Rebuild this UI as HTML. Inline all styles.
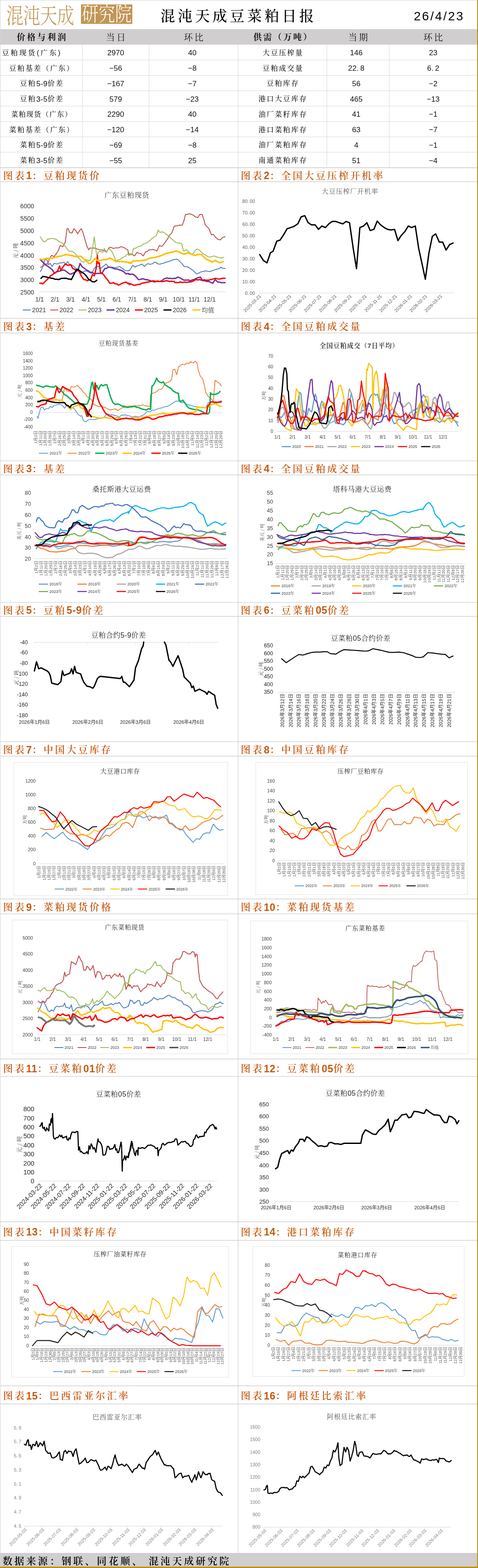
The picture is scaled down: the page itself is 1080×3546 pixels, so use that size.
<!DOCTYPE html>
<html><head><meta charset="utf-8"><title>混沌天成豆菜粕日报</title>
<style>
html,body{margin:0;padding:0;background:#fff;}
body{width:1080px;height:3546px;position:relative;overflow:hidden;}
svg text{white-space:pre}
</style></head><body>
<svg width="1080" height="3546" viewBox="0 0 1080 3546" style="position:absolute;left:0;top:0">
<line x1="1.0" y1="135.8" x2="1078.0" y2="135.8" stroke="#dadada" stroke-width="1"/>
<line x1="1.0" y1="170.5" x2="1078.0" y2="170.5" stroke="#dadada" stroke-width="1"/>
<line x1="1.0" y1="205.2" x2="1078.0" y2="205.2" stroke="#dadada" stroke-width="1"/>
<line x1="1.0" y1="240.0" x2="1078.0" y2="240.0" stroke="#dadada" stroke-width="1"/>
<line x1="1.0" y1="274.8" x2="1078.0" y2="274.8" stroke="#dadada" stroke-width="1"/>
<line x1="1.0" y1="309.5" x2="1078.0" y2="309.5" stroke="#dadada" stroke-width="1"/>
<line x1="1.0" y1="344.2" x2="1078.0" y2="344.2" stroke="#dadada" stroke-width="1"/>
<line x1="1.0" y1="379.0" x2="1078.0" y2="379.0" stroke="#dadada" stroke-width="1"/>
<line x1="186.0" y1="101.0" x2="186.0" y2="379.0" stroke="#dadada" stroke-width="1"/>
<line x1="337.0" y1="101.0" x2="337.0" y2="379.0" stroke="#dadada" stroke-width="1"/>
<line x1="538.0" y1="101.0" x2="538.0" y2="379.0" stroke="#dadada" stroke-width="1"/>
<line x1="738.5" y1="101.0" x2="738.5" y2="379.0" stroke="#dadada" stroke-width="1"/>
<line x1="879.5" y1="101.0" x2="879.5" y2="379.0" stroke="#dadada" stroke-width="1"/>
<line x1="1.0" y1="379.5" x2="1078.0" y2="379.5" stroke="#d0d0d0" stroke-width="1.3"/>
<line x1="1.0" y1="411.0" x2="1078.0" y2="411.0" stroke="#d0d0d0" stroke-width="1.3"/>
<line x1="1.0" y1="720.0" x2="1078.0" y2="720.0" stroke="#d0d0d0" stroke-width="1.3"/>
<line x1="1.0" y1="753.0" x2="1078.0" y2="753.0" stroke="#d0d0d0" stroke-width="1.3"/>
<line x1="1.0" y1="1042.3" x2="1078.0" y2="1042.3" stroke="#d0d0d0" stroke-width="1.3"/>
<line x1="1.0" y1="1074.0" x2="1078.0" y2="1074.0" stroke="#d0d0d0" stroke-width="1.3"/>
<line x1="1.0" y1="1362.3" x2="1078.0" y2="1362.3" stroke="#d0d0d0" stroke-width="1.3"/>
<line x1="1.0" y1="1394.0" x2="1078.0" y2="1394.0" stroke="#d0d0d0" stroke-width="1.3"/>
<line x1="1.0" y1="1677.4" x2="1078.0" y2="1677.4" stroke="#d0d0d0" stroke-width="1.3"/>
<line x1="1.0" y1="1710.0" x2="1078.0" y2="1710.0" stroke="#d0d0d0" stroke-width="1.3"/>
<line x1="1.0" y1="2033.0" x2="1078.0" y2="2033.0" stroke="#d0d0d0" stroke-width="1.3"/>
<line x1="1.0" y1="2066.6" x2="1078.0" y2="2066.6" stroke="#d0d0d0" stroke-width="1.3"/>
<line x1="1.0" y1="2395.0" x2="1078.0" y2="2395.0" stroke="#d0d0d0" stroke-width="1.3"/>
<line x1="1.0" y1="2434.3" x2="1078.0" y2="2434.3" stroke="#d0d0d0" stroke-width="1.3"/>
<line x1="1.0" y1="2763.0" x2="1078.0" y2="2763.0" stroke="#d0d0d0" stroke-width="1.3"/>
<line x1="1.0" y1="2805.0" x2="1078.0" y2="2805.0" stroke="#d0d0d0" stroke-width="1.3"/>
<line x1="1.0" y1="3134.0" x2="1078.0" y2="3134.0" stroke="#d0d0d0" stroke-width="1.3"/>
<line x1="1.0" y1="3175.0" x2="1078.0" y2="3175.0" stroke="#d0d0d0" stroke-width="1.3"/>
<line x1="538.0" y1="379.5" x2="538.0" y2="3512.0" stroke="#d0d0d0" stroke-width="1.3"/>
<text x="287.0" y="441.0" font-size="16" fill="#404040" text-anchor="middle" dominant-baseline="central" font-family="'Liberation Sans','Noto Serif CJK SC',serif" letter-spacing="1">广东豆粕现货</text>
<text x="77.0" y="466.4" font-size="14" fill="#333" text-anchor="end" dominant-baseline="central" font-family="'Liberation Sans','Noto Sans CJK SC',sans-serif">6000</text>
<text x="77.0" y="494.2" font-size="14" fill="#333" text-anchor="end" dominant-baseline="central" font-family="'Liberation Sans','Noto Sans CJK SC',sans-serif">5500</text>
<text x="77.0" y="522.0" font-size="14" fill="#333" text-anchor="end" dominant-baseline="central" font-family="'Liberation Sans','Noto Sans CJK SC',sans-serif">5000</text>
<text x="77.0" y="549.8" font-size="14" fill="#333" text-anchor="end" dominant-baseline="central" font-family="'Liberation Sans','Noto Sans CJK SC',sans-serif">4500</text>
<text x="77.0" y="577.6" font-size="14" fill="#333" text-anchor="end" dominant-baseline="central" font-family="'Liberation Sans','Noto Sans CJK SC',sans-serif">4000</text>
<text x="77.0" y="605.4" font-size="14" fill="#333" text-anchor="end" dominant-baseline="central" font-family="'Liberation Sans','Noto Sans CJK SC',sans-serif">3500</text>
<text x="77.0" y="633.2" font-size="14" fill="#333" text-anchor="end" dominant-baseline="central" font-family="'Liberation Sans','Noto Sans CJK SC',sans-serif">3000</text>
<text x="77.0" y="661.0" font-size="14" fill="#333" text-anchor="end" dominant-baseline="central" font-family="'Liberation Sans','Noto Sans CJK SC',sans-serif">2500</text>
<text x="34.0" y="567.0" font-size="12" fill="#333" text-anchor="middle" dominant-baseline="central" font-family="'Noto Serif CJK SC',serif" letter-spacing="0.5" transform="rotate(-90 34.0 567.0)">元 / 吨</text>
<line x1="89.0" y1="660.0" x2="510.0" y2="660.0" stroke="#d9d9d9" stroke-width="1"/>
<text x="89.4" y="676.5" font-size="14" fill="#333" text-anchor="middle" dominant-baseline="central" font-family="'Liberation Sans','Noto Sans CJK SC',sans-serif">1/1</text>
<text x="124.3" y="676.5" font-size="14" fill="#333" text-anchor="middle" dominant-baseline="central" font-family="'Liberation Sans','Noto Sans CJK SC',sans-serif">2/1</text>
<text x="159.3" y="676.5" font-size="14" fill="#333" text-anchor="middle" dominant-baseline="central" font-family="'Liberation Sans','Noto Sans CJK SC',sans-serif">3/1</text>
<text x="194.2" y="676.5" font-size="14" fill="#333" text-anchor="middle" dominant-baseline="central" font-family="'Liberation Sans','Noto Sans CJK SC',sans-serif">4/1</text>
<text x="229.1" y="676.5" font-size="14" fill="#333" text-anchor="middle" dominant-baseline="central" font-family="'Liberation Sans','Noto Sans CJK SC',sans-serif">5/1</text>
<text x="264.1" y="676.5" font-size="14" fill="#333" text-anchor="middle" dominant-baseline="central" font-family="'Liberation Sans','Noto Sans CJK SC',sans-serif">6/1</text>
<text x="299.0" y="676.5" font-size="14" fill="#333" text-anchor="middle" dominant-baseline="central" font-family="'Liberation Sans','Noto Sans CJK SC',sans-serif">7/1</text>
<text x="334.0" y="676.5" font-size="14" fill="#333" text-anchor="middle" dominant-baseline="central" font-family="'Liberation Sans','Noto Sans CJK SC',sans-serif">8/1</text>
<text x="368.9" y="676.5" font-size="14" fill="#333" text-anchor="middle" dominant-baseline="central" font-family="'Liberation Sans','Noto Sans CJK SC',sans-serif">9/1</text>
<text x="403.8" y="676.5" font-size="14" fill="#333" text-anchor="middle" dominant-baseline="central" font-family="'Liberation Sans','Noto Sans CJK SC',sans-serif">10/1</text>
<text x="438.8" y="676.5" font-size="14" fill="#333" text-anchor="middle" dominant-baseline="central" font-family="'Liberation Sans','Noto Sans CJK SC',sans-serif">11/1</text>
<text x="473.7" y="676.5" font-size="14" fill="#333" text-anchor="middle" dominant-baseline="central" font-family="'Liberation Sans','Noto Sans CJK SC',sans-serif">12/1</text>
<polyline points="91.2,613.9 94.0,609.7 98.2,595.7 102.4,585.9 106.6,588.7 109.4,598.5 113.6,595.7 117.8,602.7 122.0,595.7 125.5,596.3 129.0,597.1 132.5,595.9 136.1,594.3 140.3,594.6 144.5,592.9 148.7,597.1 152.9,591.5 157.1,598.5 160.6,599.2 164.1,599.9 169.7,605.5 173.2,607.7 176.7,609.7 180.2,614.2 183.7,618.2 186.5,615.4 192.1,612.5 196.3,613.2 200.5,615.4 204.0,616.8 207.5,618.2 213.1,606.9 217.3,602.7 222.9,602.7 227.1,606.9 232.7,602.7 236.2,600.2 239.7,597.1 245.4,604.1 249.6,604.8 253.8,604.1 259.4,605.5 265.0,604.1 270.6,602.7 276.2,606.9 281.8,611.1 287.4,612.5 293.0,611.1 290.0,612.5 294.2,609.7 299.8,599.9 305.4,604.1 308.7,601.8 312.0,600.9 315.2,599.9 320.8,597.1 326.4,602.7 332.0,597.1 335.3,596.2 338.6,597.9 341.8,597.1 345.1,596.2 348.4,593.2 351.7,592.9 357.3,597.1 361.5,597.6 365.7,595.7 369.9,595.4 374.1,592.9 377.8,592.4 381.5,591.3 385.3,590.1 388.8,588.3 392.3,586.9 395.8,587.0 399.3,585.9 403.5,588.4 407.7,592.9 411.9,597.1 416.1,602.7 419.9,603.1 423.6,603.5 427.3,605.5 431.5,608.3 435.7,611.1 439.9,615.2 444.1,619.6 448.3,618.3 452.5,615.4 456.3,614.5 460.0,613.8 463.8,612.5 467.5,613.0 471.2,613.9 475.0,613.9 479.2,612.4 483.4,611.1 487.6,609.2 491.8,608.3 495.3,607.4 498.8,604.1 502.1,606.3 505.3,606.8 508.6,606.9" fill="none" stroke="#4f81bd" stroke-width="2" stroke-linejoin="round" stroke-linecap="round"/>
<polyline points="91.2,604.1 96.8,602.7 102.4,597.1 108.0,597.1 110.8,587.3 116.4,577.5 122.0,580.3 127.6,573.3 131.8,566.3 136.1,555.1 141.7,557.9 147.3,548.1 151.5,517.3 154.3,517.3 157.1,525.7 162.7,527.1 166.9,517.3 171.1,521.5 175.3,528.5 180.9,520.1 183.7,517.3 187.9,527.1 192.1,542.5 196.3,556.5 200.5,564.9 203.3,560.7 207.5,561.2 211.7,560.7 215.9,561.7 220.1,563.5 225.7,564.9 229.5,565.2 233.2,566.3 236.9,567.7 241.1,570.5 245.4,560.7 251.0,559.3 256.6,562.1 260.8,560.4 265.0,560.7 269.2,559.9 273.4,557.9 277.6,559.1 281.8,560.7 285.3,563.6 288.8,564.9 290.2,573.3 295.8,574.7 290.0,576.1 294.2,575.1 298.4,574.7 304.0,578.9 309.6,570.5 313.8,573.0 318.0,573.3 323.6,578.9 329.2,569.1 333.0,568.5 336.7,565.1 340.4,564.9 344.6,564.2 348.9,564.9 354.5,567.7 360.1,555.1 363.6,556.8 367.1,556.5 370.6,551.5 374.1,546.7 378.3,540.8 382.5,532.7 388.1,527.1 393.7,511.7 397.9,510.7 402.1,510.3 405.4,508.8 408.6,509.6 411.9,508.9 416.1,497.6 418.9,485.0 422.4,485.0 425.9,483.6 429.4,483.8 432.9,485.0 437.1,486.8 441.3,490.6 446.9,492.0 451.1,485.0 456.8,485.0 461.0,497.6 463.8,508.9 468.0,512.7 472.2,517.3 477.8,531.3 482.0,529.9 486.2,535.5 491.8,541.1 497.4,542.5 503.0,536.9 508.6,535.5" fill="none" stroke="#c0504d" stroke-width="2" stroke-linejoin="round" stroke-linecap="round"/>
<polyline points="91.2,535.5 96.8,545.3 101.0,546.7 104.5,544.6 108.0,540.2 111.1,540.9 114.2,539.3 117.3,539.6 120.4,539.3 123.4,540.2 126.9,541.0 130.4,543.9 134.6,547.0 138.9,548.6 144.5,553.7 148.2,557.6 151.9,563.2 155.7,567.7 159.9,568.3 164.1,569.1 168.3,571.9 172.5,576.1 176.2,581.8 180.0,585.5 183.7,591.5 189.3,592.9 194.9,587.3 200.5,590.1 204.7,587.3 208.9,562.1 213.1,535.5 215.9,562.1 218.7,576.1 224.3,567.7 228.5,569.5 232.7,570.5 235.5,562.1 241.1,570.5 245.4,562.1 249.6,565.4 253.8,570.5 258.0,580.1 262.2,590.1 266.4,588.0 270.6,587.3 274.8,584.0 279.0,581.7 283.2,579.3 287.4,574.7 291.6,574.7 295.8,573.3 290.0,577.5 294.2,576.3 298.4,576.1 301.2,562.1 305.4,561.6 309.6,559.3 313.8,557.2 318.0,556.5 322.2,553.4 326.4,550.9 330.6,549.6 334.8,546.7 339.0,543.5 343.2,539.7 348.9,535.5 353.1,532.7 357.3,520.1 361.5,525.7 365.7,524.3 369.9,525.4 374.1,528.5 378.3,532.4 382.5,534.1 386.7,539.7 390.0,541.8 393.2,544.7 396.5,548.1 400.7,549.4 404.9,549.5 410.5,550.9 414.7,567.7 418.2,565.9 421.7,564.9 425.9,568.6 430.1,573.3 435.7,574.7 439.9,568.1 444.1,563.5 447.6,563.9 451.1,566.3 454.6,570.0 458.2,573.3 462.4,575.5 466.6,578.9 470.8,580.6 475.0,581.7 479.2,580.0 483.4,578.9 487.6,580.2 491.8,581.7 497.4,583.1 501.6,583.5 505.8,581.7" fill="none" stroke="#9bbb59" stroke-width="2" stroke-linejoin="round" stroke-linecap="round"/>
<polyline points="91.2,587.3 96.8,592.9 102.4,598.5 106.6,601.3 110.8,604.1 114.3,607.1 117.8,609.7 123.4,618.2 129.0,613.9 132.5,614.1 136.1,612.5 139.3,611.3 142.6,610.8 145.9,611.1 151.5,615.4 157.1,619.6 160.6,619.8 164.1,618.2 169.7,615.4 173.2,613.3 176.7,609.7 180.9,595.7 185.1,602.7 190.7,606.9 196.3,611.1 199.8,612.6 203.3,615.4 207.5,616.0 211.7,618.2 215.9,618.7 220.1,618.2 225.7,618.2 231.3,616.8 236.9,606.9 240.7,607.1 244.4,604.3 248.2,604.1 253.8,605.5 257.5,607.6 261.2,608.3 265.0,608.3 268.7,610.0 272.4,611.0 276.2,612.5 280.4,615.1 284.6,619.6 288.8,618.4 293.0,619.6 290.0,619.6 294.2,620.7 298.4,619.6 304.0,622.4 308.2,626.6 312.4,632.2 316.6,632.0 320.8,630.8 324.6,630.6 328.3,632.5 332.0,632.2 336.2,633.8 340.4,635.0 344.6,635.9 348.9,637.8 353.1,636.3 357.3,636.4 361.5,636.2 365.7,635.0 369.9,631.1 374.1,629.4 377.8,628.7 381.5,629.5 385.3,629.4 389.0,630.2 392.8,629.6 396.5,629.4 402.1,626.6 406.3,628.1 410.5,630.8 414.7,633.2 418.9,633.6 422.7,633.3 426.4,633.3 430.1,635.0 434.3,633.0 438.5,632.2 442.7,629.9 446.9,628.0 452.5,626.6 458.2,635.0 462.4,634.6 466.6,636.4 470.8,636.3 475.0,637.8 480.6,640.6 486.2,632.2 491.8,637.8 496.0,638.2 500.2,639.2 504.4,639.3 508.6,639.2" fill="none" stroke="#7030a0" stroke-width="3" stroke-linejoin="round" stroke-linecap="round"/>
<polyline points="89.8,640.6 93.3,640.5 96.8,642.0 101.0,637.5 105.2,633.6 109.4,629.4 113.6,623.8 117.8,621.9 122.0,618.2 126.2,615.7 130.4,612.5 134.6,601.3 137.5,611.1 143.1,602.7 147.3,597.1 152.9,599.9 156.4,599.6 159.9,598.5 164.1,606.9 169.7,609.7 173.9,611.3 178.1,612.5 183.7,623.8 189.3,632.2 193.5,632.8 197.7,635.0 201.2,632.6 204.7,632.2 208.9,621.0 213.1,623.8 217.3,606.9 220.1,577.5 221.5,595.7 224.3,594.3 227.1,618.2 230.6,618.6 234.1,621.0 238.3,627.4 242.5,632.2 248.2,640.6 252.4,640.3 256.6,639.2 260.3,642.0 264.0,642.0 267.8,644.8 272.0,642.9 276.2,640.6 280.4,639.1 284.6,637.8 288.8,641.0 293.0,643.4 290.0,640.6 294.2,641.6 298.4,643.4 302.6,645.1 306.8,644.8 311.0,643.2 315.2,643.4 320.8,640.6 324.6,639.7 328.3,639.2 332.0,637.8 335.5,637.9 339.0,636.8 342.5,636.1 346.1,635.0 349.4,635.8 352.8,636.4 356.1,635.5 359.5,636.5 362.9,636.4 366.6,636.7 370.3,636.2 374.1,635.0 377.3,635.0 380.6,636.0 383.9,636.4 387.2,636.0 390.4,636.4 393.7,636.4 395.1,639.2 398.1,638.7 401.1,638.9 404.1,638.8 407.1,637.5 410.1,638.4 413.1,639.0 416.1,637.8 419.6,638.5 423.1,638.2 426.6,637.5 430.1,637.8 433.6,636.8 437.1,635.1 440.6,633.4 444.1,632.2 447.6,633.2 451.1,632.0 454.6,633.7 458.2,633.6 461.7,632.6 465.2,633.8 468.7,633.5 472.2,633.6 475.7,632.0 479.2,631.9 482.7,630.4 486.2,629.4 489.9,630.1 493.7,631.1 497.4,630.8 501.1,629.8 504.9,628.9 508.6,629.4" fill="none" stroke="#ff0000" stroke-width="3" stroke-linejoin="round" stroke-linecap="round"/>
<polyline points="92.6,629.4 96.8,625.2 101.0,625.5 105.2,626.6 109.0,627.8 112.7,628.0 116.4,629.4 120.2,629.6 123.9,631.5 127.6,631.6 133.2,632.2 138.9,629.4 142.6,629.6 146.3,629.3 150.1,629.4 153.8,630.9 157.5,631.0 161.3,632.2 166.9,621.0 172.5,609.7 176.7,609.7 182.3,613.9 185.8,616.3 189.3,618.2 194.9,623.8 200.5,632.2 204.7,634.2 208.9,637.2 214.5,637.2 218.7,633.6" fill="none" stroke="#000000" stroke-width="3" stroke-linejoin="round" stroke-linecap="round"/>
<polyline points="91.2,585.9 96.8,587.3 101.0,585.6 105.2,584.0 109.0,584.3 112.7,584.4 116.4,584.0 120.2,583.4 123.9,582.0 127.6,581.2 131.4,580.5 135.1,579.5 138.9,578.9 142.6,577.4 146.3,576.7 150.1,575.6 153.8,576.5 157.5,577.2 161.3,577.5 165.0,578.7 168.7,579.8 172.5,580.3 175.8,579.8 179.0,579.4 182.3,579.5 185.6,582.0 188.8,584.5 192.1,587.3 196.3,591.2 200.5,595.7 204.7,595.7 208.9,591.5 214.5,584.5 218.7,587.2 222.9,590.1 226.2,589.3 229.5,588.3 232.7,587.3 236.2,587.1 239.7,587.3 243.9,585.7 248.2,583.4 251.7,585.9 255.2,587.4 258.7,589.1 262.2,591.5 265.7,591.1 269.2,591.9 272.7,591.1 276.2,591.5 279.9,592.2 283.7,592.5 287.4,592.9 291.6,593.4 295.8,594.3 290.0,594.3 295.6,595.7 301.2,590.1 304.9,590.4 308.7,589.6 312.4,590.1 315.9,589.4 319.4,589.4 322.9,588.6 326.4,588.7 330.2,587.7 333.9,585.7 337.6,584.5 341.1,583.5 344.6,582.7 348.2,582.5 351.7,581.7 355.2,580.6 358.7,579.7 362.2,578.7 365.7,577.5 369.9,575.7 374.1,573.3 377.6,573.1 381.1,572.1 384.6,570.9 388.1,570.5 391.8,569.6 395.6,568.3 399.3,567.7 403.5,569.3 407.7,571.9 411.9,573.3 416.1,574.7 420.3,573.5 424.5,571.9 428.0,573.0 431.5,574.5 435.0,576.0 438.5,577.5 442.7,576.7 446.9,575.6 451.1,575.6 455.4,575.6 459.6,580.2 463.8,584.5 468.0,586.9 472.2,588.7 475.7,590.7 479.2,592.9 482.7,591.1 486.2,588.7 489.4,591.0 492.7,592.1 496.0,594.3 500.2,593.4 504.4,591.5" fill="none" stroke="#ffc000" stroke-width="3.5" stroke-linejoin="round" stroke-linecap="round"/>
<line x1="51.6" y1="701.0" x2="69.6" y2="701.0" stroke="#4f81bd" stroke-width="2"/>
<text x="72.6" y="701.0" font-size="14" fill="#333" text-anchor="start" dominant-baseline="central" font-family="'Liberation Sans','Noto Serif CJK SC',serif">2021</text>
<line x1="113.5" y1="701.0" x2="131.5" y2="701.0" stroke="#c0504d" stroke-width="2"/>
<text x="134.5" y="701.0" font-size="14" fill="#333" text-anchor="start" dominant-baseline="central" font-family="'Liberation Sans','Noto Serif CJK SC',serif">2022</text>
<line x1="177.5" y1="701.0" x2="195.5" y2="701.0" stroke="#9bbb59" stroke-width="2"/>
<text x="198.5" y="701.0" font-size="14" fill="#333" text-anchor="start" dominant-baseline="central" font-family="'Liberation Sans','Noto Serif CJK SC',serif">2023</text>
<line x1="240.8" y1="701.0" x2="258.8" y2="701.0" stroke="#7030a0" stroke-width="3"/>
<text x="261.8" y="701.0" font-size="14" fill="#333" text-anchor="start" dominant-baseline="central" font-family="'Liberation Sans','Noto Serif CJK SC',serif">2024</text>
<line x1="304.7" y1="701.0" x2="322.7" y2="701.0" stroke="#ff0000" stroke-width="3"/>
<text x="325.7" y="701.0" font-size="14" fill="#333" text-anchor="start" dominant-baseline="central" font-family="'Liberation Sans','Noto Serif CJK SC',serif">2025</text>
<line x1="369.4" y1="701.0" x2="387.4" y2="701.0" stroke="#000" stroke-width="3"/>
<text x="390.4" y="701.0" font-size="14" fill="#333" text-anchor="start" dominant-baseline="central" font-family="'Liberation Sans','Noto Serif CJK SC',serif">2026</text>
<line x1="434.8" y1="701.0" x2="452.8" y2="701.0" stroke="#ffc000" stroke-width="3"/>
<text x="455.8" y="701.0" font-size="14" fill="#333" text-anchor="start" dominant-baseline="central" font-family="'Liberation Sans','Noto Serif CJK SC',serif">均值</text>
<text x="791.0" y="432.0" font-size="15" fill="#595959" text-anchor="middle" dominant-baseline="central" font-family="'Liberation Sans','Noto Serif CJK SC',serif" letter-spacing="1">大豆压榨厂开机率</text>
<text x="576.0" y="454.7" font-size="10.5" fill="#595959" text-anchor="end" dominant-baseline="central" font-family="'Liberation Sans','Noto Sans CJK SC',sans-serif">80. 00</text>
<text x="576.0" y="480.7" font-size="10.5" fill="#595959" text-anchor="end" dominant-baseline="central" font-family="'Liberation Sans','Noto Sans CJK SC',sans-serif">70. 00</text>
<text x="576.0" y="506.6" font-size="10.5" fill="#595959" text-anchor="end" dominant-baseline="central" font-family="'Liberation Sans','Noto Sans CJK SC',sans-serif">60. 00</text>
<text x="576.0" y="532.6" font-size="10.5" fill="#595959" text-anchor="end" dominant-baseline="central" font-family="'Liberation Sans','Noto Sans CJK SC',sans-serif">50. 00</text>
<text x="576.0" y="558.6" font-size="10.5" fill="#595959" text-anchor="end" dominant-baseline="central" font-family="'Liberation Sans','Noto Sans CJK SC',sans-serif">40. 00</text>
<text x="576.0" y="584.6" font-size="10.5" fill="#595959" text-anchor="end" dominant-baseline="central" font-family="'Liberation Sans','Noto Sans CJK SC',sans-serif">30. 00</text>
<text x="576.0" y="610.5" font-size="10.5" fill="#595959" text-anchor="end" dominant-baseline="central" font-family="'Liberation Sans','Noto Sans CJK SC',sans-serif">20. 00</text>
<text x="576.0" y="636.5" font-size="10.5" fill="#595959" text-anchor="end" dominant-baseline="central" font-family="'Liberation Sans','Noto Sans CJK SC',sans-serif">10. 00</text>
<text x="576.0" y="662.5" font-size="10.5" fill="#595959" text-anchor="end" dominant-baseline="central" font-family="'Liberation Sans','Noto Sans CJK SC',sans-serif">0. 00</text>
<line x1="586.5" y1="662.5" x2="1027.0" y2="662.5" stroke="#d9d9d9" stroke-width="1"/>
<line x1="586.5" y1="662.5" x2="586.5" y2="666.5" stroke="#d9d9d9" stroke-width="1"/>
<line x1="620.6" y1="662.5" x2="620.6" y2="666.5" stroke="#d9d9d9" stroke-width="1"/>
<line x1="654.7" y1="662.5" x2="654.7" y2="666.5" stroke="#d9d9d9" stroke-width="1"/>
<line x1="688.8" y1="662.5" x2="688.8" y2="666.5" stroke="#d9d9d9" stroke-width="1"/>
<line x1="722.9" y1="662.5" x2="722.9" y2="666.5" stroke="#d9d9d9" stroke-width="1"/>
<line x1="757.0" y1="662.5" x2="757.0" y2="666.5" stroke="#d9d9d9" stroke-width="1"/>
<line x1="791.1" y1="662.5" x2="791.1" y2="666.5" stroke="#d9d9d9" stroke-width="1"/>
<line x1="825.2" y1="662.5" x2="825.2" y2="666.5" stroke="#d9d9d9" stroke-width="1"/>
<line x1="859.3" y1="662.5" x2="859.3" y2="666.5" stroke="#d9d9d9" stroke-width="1"/>
<line x1="893.4" y1="662.5" x2="893.4" y2="666.5" stroke="#d9d9d9" stroke-width="1"/>
<line x1="927.5" y1="662.5" x2="927.5" y2="666.5" stroke="#d9d9d9" stroke-width="1"/>
<line x1="961.6" y1="662.5" x2="961.6" y2="666.5" stroke="#d9d9d9" stroke-width="1"/>
<line x1="995.7" y1="662.5" x2="995.7" y2="666.5" stroke="#d9d9d9" stroke-width="1"/>
<text x="588.0" y="668.0" font-size="10" fill="#595959" text-anchor="end" dominant-baseline="central" font-family="'Liberation Sans','Noto Sans CJK SC',sans-serif" transform="rotate(-45 588.0 668.0)">2025-03-21</text>
<text x="622.1" y="668.0" font-size="10" fill="#595959" text-anchor="end" dominant-baseline="central" font-family="'Liberation Sans','Noto Sans CJK SC',sans-serif" transform="rotate(-45 622.1 668.0)">2025-04-21</text>
<text x="656.2" y="668.0" font-size="10" fill="#595959" text-anchor="end" dominant-baseline="central" font-family="'Liberation Sans','Noto Sans CJK SC',sans-serif" transform="rotate(-45 656.2 668.0)">2025-05-21</text>
<text x="690.3" y="668.0" font-size="10" fill="#595959" text-anchor="end" dominant-baseline="central" font-family="'Liberation Sans','Noto Sans CJK SC',sans-serif" transform="rotate(-45 690.3 668.0)">2025-06-21</text>
<text x="724.4" y="668.0" font-size="10" fill="#595959" text-anchor="end" dominant-baseline="central" font-family="'Liberation Sans','Noto Sans CJK SC',sans-serif" transform="rotate(-45 724.4 668.0)">2025-07-21</text>
<text x="758.5" y="668.0" font-size="10" fill="#595959" text-anchor="end" dominant-baseline="central" font-family="'Liberation Sans','Noto Sans CJK SC',sans-serif" transform="rotate(-45 758.5 668.0)">2025-08-21</text>
<text x="792.6" y="668.0" font-size="10" fill="#595959" text-anchor="end" dominant-baseline="central" font-family="'Liberation Sans','Noto Sans CJK SC',sans-serif" transform="rotate(-45 792.6 668.0)">2025-09-21</text>
<text x="826.7" y="668.0" font-size="10" fill="#595959" text-anchor="end" dominant-baseline="central" font-family="'Liberation Sans','Noto Sans CJK SC',sans-serif" transform="rotate(-45 826.7 668.0)">2025-10-21</text>
<text x="860.8" y="668.0" font-size="10" fill="#595959" text-anchor="end" dominant-baseline="central" font-family="'Liberation Sans','Noto Sans CJK SC',sans-serif" transform="rotate(-45 860.8 668.0)">2025-11-21</text>
<text x="894.9" y="668.0" font-size="10" fill="#595959" text-anchor="end" dominant-baseline="central" font-family="'Liberation Sans','Noto Sans CJK SC',sans-serif" transform="rotate(-45 894.9 668.0)">2025-12-21</text>
<text x="929.0" y="668.0" font-size="10" fill="#595959" text-anchor="end" dominant-baseline="central" font-family="'Liberation Sans','Noto Sans CJK SC',sans-serif" transform="rotate(-45 929.0 668.0)">2026-01-21</text>
<text x="963.1" y="668.0" font-size="10" fill="#595959" text-anchor="end" dominant-baseline="central" font-family="'Liberation Sans','Noto Sans CJK SC',sans-serif" transform="rotate(-45 963.1 668.0)">2026-02-21</text>
<text x="997.2" y="668.0" font-size="10" fill="#595959" text-anchor="end" dominant-baseline="central" font-family="'Liberation Sans','Noto Sans CJK SC',sans-serif" transform="rotate(-45 997.2 668.0)">2026-03-21</text>
<polyline points="586.8,575.8 595.0,588.9 603.3,594.4 610.9,571.7 617.0,568.2 625.3,545.5 632.9,542.8 641.1,530.4 648.7,517.3 656.9,514.6 664.5,511.8 672.8,506.3 680.3,490.5 688.6,487.7 696.2,503.6 703.7,508.4 712.0,508.4 719.5,518.7 727.1,511.1 735.4,514.6 742.9,506.3 750.5,500.8 758.8,500.8 766.3,503.6 774.6,506.3 782.1,500.8 789.7,503.6 798.0,561.3 805.5,607.4 813.1,514.6 821.4,511.1 828.9,503.6 836.5,521.4 844.7,518.7 852.3,500.1 859.9,508.4 868.1,514.6 875.7,518.7 883.3,520.1 891.5,518.7 899.1,544.1 906.6,532.4 914.9,523.5 922.5,511.1 930.0,514.6 938.3,511.1 945.9,561.3 953.4,595.7 961.0,631.5 969.2,571.7 976.8,534.5 984.4,529.0 992.6,547.6 1000.2,547.6 1007.8,565.5 1016.0,553.1 1023.6,549.6" fill="none" stroke="#000" stroke-width="3" stroke-linejoin="round" stroke-linecap="round"/>
<text x="268.0" y="776.0" font-size="14" fill="#404040" text-anchor="middle" dominant-baseline="central" font-family="'Liberation Sans','Noto Serif CJK SC',serif" letter-spacing="1">豆粕现货基差</text>
<line x1="80.0" y1="933.0" x2="500.0" y2="933.0" stroke="#d9d9d9" stroke-width="1"/>
<text x="74.0" y="799.5" font-size="10" fill="#404040" text-anchor="end" dominant-baseline="central" font-family="'Liberation Sans','Noto Sans CJK SC',sans-serif">1600</text>
<text x="74.0" y="816.1" font-size="10" fill="#404040" text-anchor="end" dominant-baseline="central" font-family="'Liberation Sans','Noto Sans CJK SC',sans-serif">1400</text>
<text x="74.0" y="832.7" font-size="10" fill="#404040" text-anchor="end" dominant-baseline="central" font-family="'Liberation Sans','Noto Sans CJK SC',sans-serif">1200</text>
<text x="74.0" y="849.2" font-size="10" fill="#404040" text-anchor="end" dominant-baseline="central" font-family="'Liberation Sans','Noto Sans CJK SC',sans-serif">1000</text>
<text x="74.0" y="865.8" font-size="10" fill="#404040" text-anchor="end" dominant-baseline="central" font-family="'Liberation Sans','Noto Sans CJK SC',sans-serif">800</text>
<text x="74.0" y="882.4" font-size="10" fill="#404040" text-anchor="end" dominant-baseline="central" font-family="'Liberation Sans','Noto Sans CJK SC',sans-serif">600</text>
<text x="74.0" y="899.0" font-size="10" fill="#404040" text-anchor="end" dominant-baseline="central" font-family="'Liberation Sans','Noto Sans CJK SC',sans-serif">400</text>
<text x="74.0" y="915.6" font-size="10" fill="#404040" text-anchor="end" dominant-baseline="central" font-family="'Liberation Sans','Noto Sans CJK SC',sans-serif">200</text>
<text x="74.0" y="932.1" font-size="10" fill="#404040" text-anchor="end" dominant-baseline="central" font-family="'Liberation Sans','Noto Sans CJK SC',sans-serif">0</text>
<text x="74.0" y="948.7" font-size="10" fill="#404040" text-anchor="end" dominant-baseline="central" font-family="'Liberation Sans','Noto Sans CJK SC',sans-serif">-200</text>
<text x="74.0" y="965.3" font-size="10" fill="#404040" text-anchor="end" dominant-baseline="central" font-family="'Liberation Sans','Noto Sans CJK SC',sans-serif">-400</text>
<text x="43.0" y="884.0" font-size="10" fill="#404040" text-anchor="middle" dominant-baseline="central" font-family="'Noto Serif CJK SC',serif" letter-spacing="0.5" transform="rotate(-90 43.0 884.0)">元 / 吨</text>
<text x="80.5" y="974.0" font-size="9.5" fill="#595959" text-anchor="end" dominant-baseline="central" font-family="'Liberation Sans','Noto Sans CJK SC',sans-serif" transform="rotate(-90 80.5 974.0)">1月2日</text>
<text x="91.2" y="974.0" font-size="9.5" fill="#595959" text-anchor="end" dominant-baseline="central" font-family="'Liberation Sans','Noto Sans CJK SC',sans-serif" transform="rotate(-90 91.2 974.0)">1月11日</text>
<text x="101.9" y="974.0" font-size="9.5" fill="#595959" text-anchor="end" dominant-baseline="central" font-family="'Liberation Sans','Noto Sans CJK SC',sans-serif" transform="rotate(-90 101.9 974.0)">1月20日</text>
<text x="112.7" y="974.0" font-size="9.5" fill="#595959" text-anchor="end" dominant-baseline="central" font-family="'Liberation Sans','Noto Sans CJK SC',sans-serif" transform="rotate(-90 112.7 974.0)">1月29日</text>
<text x="123.4" y="974.0" font-size="9.5" fill="#595959" text-anchor="end" dominant-baseline="central" font-family="'Liberation Sans','Noto Sans CJK SC',sans-serif" transform="rotate(-90 123.4 974.0)">2月7日</text>
<text x="134.1" y="974.0" font-size="9.5" fill="#595959" text-anchor="end" dominant-baseline="central" font-family="'Liberation Sans','Noto Sans CJK SC',sans-serif" transform="rotate(-90 134.1 974.0)">2月16日</text>
<text x="144.8" y="974.0" font-size="9.5" fill="#595959" text-anchor="end" dominant-baseline="central" font-family="'Liberation Sans','Noto Sans CJK SC',sans-serif" transform="rotate(-90 144.8 974.0)">2月25日</text>
<text x="155.6" y="974.0" font-size="9.5" fill="#595959" text-anchor="end" dominant-baseline="central" font-family="'Liberation Sans','Noto Sans CJK SC',sans-serif" transform="rotate(-90 155.6 974.0)">3月5日</text>
<text x="166.3" y="974.0" font-size="9.5" fill="#595959" text-anchor="end" dominant-baseline="central" font-family="'Liberation Sans','Noto Sans CJK SC',sans-serif" transform="rotate(-90 166.3 974.0)">3月14日</text>
<text x="177.0" y="974.0" font-size="9.5" fill="#595959" text-anchor="end" dominant-baseline="central" font-family="'Liberation Sans','Noto Sans CJK SC',sans-serif" transform="rotate(-90 177.0 974.0)">3月23日</text>
<text x="187.7" y="974.0" font-size="9.5" fill="#595959" text-anchor="end" dominant-baseline="central" font-family="'Liberation Sans','Noto Sans CJK SC',sans-serif" transform="rotate(-90 187.7 974.0)">4月1日</text>
<text x="198.5" y="974.0" font-size="9.5" fill="#595959" text-anchor="end" dominant-baseline="central" font-family="'Liberation Sans','Noto Sans CJK SC',sans-serif" transform="rotate(-90 198.5 974.0)">4月11日</text>
<text x="209.2" y="974.0" font-size="9.5" fill="#595959" text-anchor="end" dominant-baseline="central" font-family="'Liberation Sans','Noto Sans CJK SC',sans-serif" transform="rotate(-90 209.2 974.0)">4月20日</text>
<text x="219.9" y="974.0" font-size="9.5" fill="#595959" text-anchor="end" dominant-baseline="central" font-family="'Liberation Sans','Noto Sans CJK SC',sans-serif" transform="rotate(-90 219.9 974.0)">4月29日</text>
<text x="230.6" y="974.0" font-size="9.5" fill="#595959" text-anchor="end" dominant-baseline="central" font-family="'Liberation Sans','Noto Sans CJK SC',sans-serif" transform="rotate(-90 230.6 974.0)">5月11日</text>
<text x="241.3" y="974.0" font-size="9.5" fill="#595959" text-anchor="end" dominant-baseline="central" font-family="'Liberation Sans','Noto Sans CJK SC',sans-serif" transform="rotate(-90 241.3 974.0)">5月20日</text>
<text x="252.1" y="974.0" font-size="9.5" fill="#595959" text-anchor="end" dominant-baseline="central" font-family="'Liberation Sans','Noto Sans CJK SC',sans-serif" transform="rotate(-90 252.1 974.0)">5月29日</text>
<text x="262.8" y="974.0" font-size="9.5" fill="#595959" text-anchor="end" dominant-baseline="central" font-family="'Liberation Sans','Noto Sans CJK SC',sans-serif" transform="rotate(-90 262.8 974.0)">6月7日</text>
<text x="273.5" y="974.0" font-size="9.5" fill="#595959" text-anchor="end" dominant-baseline="central" font-family="'Liberation Sans','Noto Sans CJK SC',sans-serif" transform="rotate(-90 273.5 974.0)">6月16日</text>
<text x="284.2" y="974.0" font-size="9.5" fill="#595959" text-anchor="end" dominant-baseline="central" font-family="'Liberation Sans','Noto Sans CJK SC',sans-serif" transform="rotate(-90 284.2 974.0)">6月25日</text>
<text x="295.0" y="974.0" font-size="9.5" fill="#595959" text-anchor="end" dominant-baseline="central" font-family="'Liberation Sans','Noto Sans CJK SC',sans-serif" transform="rotate(-90 295.0 974.0)">7月4日</text>
<text x="305.7" y="974.0" font-size="9.5" fill="#595959" text-anchor="end" dominant-baseline="central" font-family="'Liberation Sans','Noto Sans CJK SC',sans-serif" transform="rotate(-90 305.7 974.0)">7月13日</text>
<text x="316.4" y="974.0" font-size="9.5" fill="#595959" text-anchor="end" dominant-baseline="central" font-family="'Liberation Sans','Noto Sans CJK SC',sans-serif" transform="rotate(-90 316.4 974.0)">7月22日</text>
<text x="327.1" y="974.0" font-size="9.5" fill="#595959" text-anchor="end" dominant-baseline="central" font-family="'Liberation Sans','Noto Sans CJK SC',sans-serif" transform="rotate(-90 327.1 974.0)">7月31日</text>
<text x="337.9" y="974.0" font-size="9.5" fill="#595959" text-anchor="end" dominant-baseline="central" font-family="'Liberation Sans','Noto Sans CJK SC',sans-serif" transform="rotate(-90 337.9 974.0)">8月9日</text>
<text x="348.6" y="974.0" font-size="9.5" fill="#595959" text-anchor="end" dominant-baseline="central" font-family="'Liberation Sans','Noto Sans CJK SC',sans-serif" transform="rotate(-90 348.6 974.0)">8月18日</text>
<text x="359.3" y="974.0" font-size="9.5" fill="#595959" text-anchor="end" dominant-baseline="central" font-family="'Liberation Sans','Noto Sans CJK SC',sans-serif" transform="rotate(-90 359.3 974.0)">8月27日</text>
<text x="370.0" y="974.0" font-size="9.5" fill="#595959" text-anchor="end" dominant-baseline="central" font-family="'Liberation Sans','Noto Sans CJK SC',sans-serif" transform="rotate(-90 370.0 974.0)">9月5日</text>
<text x="380.7" y="974.0" font-size="9.5" fill="#595959" text-anchor="end" dominant-baseline="central" font-family="'Liberation Sans','Noto Sans CJK SC',sans-serif" transform="rotate(-90 380.7 974.0)">9月14日</text>
<text x="391.5" y="974.0" font-size="9.5" fill="#595959" text-anchor="end" dominant-baseline="central" font-family="'Liberation Sans','Noto Sans CJK SC',sans-serif" transform="rotate(-90 391.5 974.0)">9月23日</text>
<text x="402.2" y="974.0" font-size="9.5" fill="#595959" text-anchor="end" dominant-baseline="central" font-family="'Liberation Sans','Noto Sans CJK SC',sans-serif" transform="rotate(-90 402.2 974.0)">10月9日</text>
<text x="412.9" y="974.0" font-size="9.5" fill="#595959" text-anchor="end" dominant-baseline="central" font-family="'Liberation Sans','Noto Sans CJK SC',sans-serif" transform="rotate(-90 412.9 974.0)">10月18日</text>
<text x="423.6" y="974.0" font-size="9.5" fill="#595959" text-anchor="end" dominant-baseline="central" font-family="'Liberation Sans','Noto Sans CJK SC',sans-serif" transform="rotate(-90 423.6 974.0)">10月27日</text>
<text x="434.4" y="974.0" font-size="9.5" fill="#595959" text-anchor="end" dominant-baseline="central" font-family="'Liberation Sans','Noto Sans CJK SC',sans-serif" transform="rotate(-90 434.4 974.0)">11月5日</text>
<text x="445.1" y="974.0" font-size="9.5" fill="#595959" text-anchor="end" dominant-baseline="central" font-family="'Liberation Sans','Noto Sans CJK SC',sans-serif" transform="rotate(-90 445.1 974.0)">11月14日</text>
<text x="455.8" y="974.0" font-size="9.5" fill="#595959" text-anchor="end" dominant-baseline="central" font-family="'Liberation Sans','Noto Sans CJK SC',sans-serif" transform="rotate(-90 455.8 974.0)">11月23日</text>
<text x="466.5" y="974.0" font-size="9.5" fill="#595959" text-anchor="end" dominant-baseline="central" font-family="'Liberation Sans','Noto Sans CJK SC',sans-serif" transform="rotate(-90 466.5 974.0)">12月2日</text>
<text x="477.3" y="974.0" font-size="9.5" fill="#595959" text-anchor="end" dominant-baseline="central" font-family="'Liberation Sans','Noto Sans CJK SC',sans-serif" transform="rotate(-90 477.3 974.0)">12月11日</text>
<text x="488.0" y="974.0" font-size="9.5" fill="#595959" text-anchor="end" dominant-baseline="central" font-family="'Liberation Sans','Noto Sans CJK SC',sans-serif" transform="rotate(-90 488.0 974.0)">12月20日</text>
<text x="498.7" y="974.0" font-size="9.5" fill="#595959" text-anchor="end" dominant-baseline="central" font-family="'Liberation Sans','Noto Sans CJK SC',sans-serif" transform="rotate(-90 498.7 974.0)">12月29日</text>
<polyline points="84.0,941.3 86.0,946.4 88.2,935.7 92.4,921.7 96.6,920.3 100.8,927.3 105.0,923.1 109.2,924.5 113.4,918.9 117.6,921.7 121.8,917.5 126.1,916.1 131.7,914.7 137.3,914.7 141.5,917.5 145.7,923.1 149.9,917.5 154.1,918.9 158.3,919.7 162.5,921.7 168.1,924.5 172.3,931.5 176.5,937.1 182.1,941.3 184.9,939.9 187.7,949.7 190.5,952.5 194.7,953.9 198.9,949.7 204.5,948.3 210.1,949.2 215.7,948.3 221.3,946.9 226.9,945.5 231.1,944.9 235.4,944.1 241.0,935.7 246.6,937.1 250.8,937.5 255.0,938.5 259.2,939.5 263.4,939.9 269.0,943.6 274.6,938.5 278.8,938.8 283.0,938.5 280.0,938.5 284.2,938.2 288.4,939.9 292.6,940.2 296.8,942.7 301.0,942.8 305.2,941.3 309.4,941.9 313.6,943.6 317.8,941.1 322.0,939.9 327.6,935.7 333.2,930.1 338.9,931.5 344.5,927.3 348.7,927.8 352.9,925.9 357.1,924.5 361.3,923.1 365.5,922.5 369.7,920.3 373.9,919.6 378.1,918.9 383.7,916.1 387.9,913.6 392.1,910.5 397.7,907.1 403.3,907.1 408.9,910.5 414.5,909.9 420.1,913.3 425.7,916.1 429.9,916.0 434.1,917.5 438.3,918.8 442.5,919.5 446.3,921.1 450.0,921.0 453.8,921.7 457.5,922.3 461.2,922.1 465.0,921.7 470.6,910.5 476.2,909.1 480.4,909.5 484.6,911.9 488.8,911.8 493.0,910.5 496.5,910.7 500.0,910.5" fill="none" stroke="#5b9bd5" stroke-width="1.8" stroke-linejoin="round" stroke-linecap="round"/>
<polyline points="84.0,910.5 89.6,909.1 95.2,909.1 100.8,904.9 106.4,904.9 112.0,904.9 117.6,904.9 121.8,904.4 126.1,904.9 130.3,904.5 134.5,906.3 140.1,904.9 142.9,893.7 145.7,876.9 151.3,883.9 156.9,885.3 161.1,874.1 165.3,875.5 170.9,874.1 175.1,871.3 179.3,876.9 183.5,879.7 187.7,886.7 193.3,890.9 197.5,897.9 201.7,899.3 207.3,904.9 211.5,914.7 215.7,916.1 221.3,919.5 226.9,918.9 232.5,920.3 238.2,921.7 243.8,925.1 249.4,927.3 255.0,925.9 260.6,924.5 266.2,928.7 271.8,924.5 277.4,921.7 283.0,918.9 280.0,917.5 284.2,919.1 288.4,918.9 292.6,918.6 296.8,918.4 301.0,918.5 305.2,917.5 309.4,918.4 313.6,917.5 317.8,917.0 322.0,915.6 327.6,917.5 333.2,918.4 338.9,919.5 340.3,892.3 344.5,889.5 350.1,888.1 354.3,885.3 358.5,881.1 362.7,880.7 366.9,878.3 372.5,867.1 378.1,865.1 383.7,862.9 387.9,857.3 390.7,836.2 394.9,834.8 399.1,847.5 403.3,830.6 407.5,826.4 411.7,823.6 417.3,825.0 421.5,820.8 425.7,822.2 431.3,818.0 436.9,820.8 441.1,816.6 445.4,820.8 448.2,837.6 452.4,850.3 458.0,857.3 462.2,872.7 465.0,888.1 470.6,896.5 476.2,900.7 479.5,904.9 481.8,907.7 486.0,860.1 490.2,862.9 495.8,867.1 500.0,872.7" fill="none" stroke="#ed7d31" stroke-width="1.8" stroke-linejoin="round" stroke-linecap="round"/>
<polyline points="82.6,871.3 88.2,872.7 92.4,874.1 98.0,875.5 103.6,872.7 107.8,873.2 112.0,874.1 115.3,875.1 118.6,874.9 121.8,875.5 126.1,872.7 130.3,876.9 134.5,879.7 140.1,885.3 145.7,892.3 151.3,895.1 156.9,900.7 162.5,904.9 168.1,910.5 172.3,912.1 176.5,911.9 182.1,913.3 187.7,913.3 193.3,914.7 197.5,913.3 201.7,902.1 204.5,882.5 207.3,865.7 209.3,864.3 211.5,879.7 214.3,882.5 218.5,871.3 222.7,881.1 226.9,871.3 229.7,869.9 232.5,872.7 238.2,869.9 241.5,869.9 245.2,882.5 249.4,896.5 255.0,910.5 260.6,914.7 266.2,913.3 271.8,916.1 275.3,918.3 278.8,918.9 283.0,920.3 280.0,920.3 284.2,920.2 288.4,921.7 292.6,920.3 296.8,920.3 301.0,919.3 305.2,919.5 309.4,921.5 313.6,921.7 319.2,924.5 324.8,925.9 330.4,927.3 336.1,924.0 340.3,925.9 343.1,874.1 347.3,869.9 351.5,861.5 353.7,855.0 357.1,861.5 361.3,864.3 365.5,865.7 369.1,863.4 372.5,869.9 376.7,872.7 380.9,875.5 386.5,878.3 390.7,883.9 394.2,885.9 397.7,888.1 403.3,889.5 404.7,904.9 408.9,907.7 413.1,904.9 417.3,910.5 421.5,917.5 427.1,923.1 432.7,924.5 436.2,925.5 439.7,925.9 443.9,926.2 448.2,927.3 451.7,928.7 455.2,930.1 460.8,932.9 465.0,935.7 470.6,935.7 473.4,931.5 475.6,888.1 477.6,891.5 481.8,892.3 487.4,891.5 493.0,889.5 497.2,885.3" fill="none" stroke="#00b050" stroke-width="3" stroke-linejoin="round" stroke-linecap="round"/>
<polyline points="82.6,883.9 88.2,886.7 92.4,890.9 98.0,897.9 103.6,900.7 109.2,903.5 114.8,904.9 120.4,904.9 126.1,903.5 131.7,904.9 135.9,904.7 140.1,904.9 144.3,910.5 148.5,913.3 152.7,918.9 156.9,923.1 159.7,925.9 163.9,921.7 168.1,918.9 173.7,917.5 177.9,914.7 182.1,921.7 186.3,924.5 190.5,924.5 194.7,932.9 198.9,938.5 201.7,941.3 207.3,941.3 212.9,942.7 218.5,944.1 224.1,945.5 229.7,945.5 233.9,944.5 238.2,944.1 242.4,945.0 246.6,945.5 250.8,945.7 255.0,945.5 259.2,945.6 263.4,944.1 267.6,945.2 271.8,945.5 276.0,946.7 280.2,946.1 280.0,945.5 284.2,946.7 288.4,946.4 292.6,946.9 296.8,945.5 301.0,945.2 305.2,944.1 309.4,944.9 313.6,946.9 317.8,946.0 322.0,943.6 326.2,943.4 330.4,941.3 334.6,941.4 338.9,939.9 343.1,939.4 347.3,938.5 351.5,938.3 355.7,937.1 359.9,935.9 364.1,935.7 369.7,934.3 373.9,935.7 378.1,935.7 382.3,936.2 386.5,936.3 390.7,935.3 394.9,935.2 399.1,933.5 403.3,933.5 407.5,934.6 411.7,934.3 415.9,935.7 420.1,935.2 425.7,933.5 429.2,932.4 432.7,932.9 436.2,932.8 439.7,931.5 443.9,930.1 445.4,920.3 449.6,920.8 453.8,921.7 458.0,921.3 462.2,922.3 467.8,921.7 473.4,917.5 479.0,914.7 483.2,913.6 487.4,913.3 493.0,916.7 496.5,918.3 500.0,918.9" fill="none" stroke="#ffc000" stroke-width="3" stroke-linejoin="round" stroke-linecap="round"/>
<polyline points="82.6,919.5 86.8,920.3 92.4,916.1 98.0,914.7 103.6,913.3 106.4,904.9 112.0,902.1 117.6,900.7 123.2,899.3 126.1,885.3 128.9,875.5 131.7,885.3 134.5,888.1 137.3,882.5 141.5,874.1 145.7,876.9 151.3,879.7 156.9,882.5 162.5,886.7 166.7,895.1 170.9,899.3 175.1,904.9 179.3,913.3 184.9,916.1 189.1,918.9 193.3,930.1 196.1,941.3 198.9,941.3 201.7,927.3 205.9,924.5 210.1,907.7 212.9,890.9 214.9,865.7 217.1,885.3 221.3,902.1 225.5,913.3 229.7,918.9 233.9,927.3 238.2,934.3 243.8,938.5 247.3,940.7 250.8,941.3 254.3,943.2 257.8,946.9 263.4,949.7 267.6,949.3 271.8,948.3 276.0,946.7 280.2,946.9 280.0,946.9 285.6,945.5 289.8,946.7 294.0,946.9 298.2,947.3 302.4,948.3 306.6,949.5 310.8,949.2 315.0,949.7 319.2,948.3 324.8,945.5 329.0,944.6 333.2,943.6 338.9,944.7 342.4,947.5 345.9,948.3 349.4,947.0 352.9,946.4 357.1,943.7 361.3,942.7 365.5,942.2 369.7,941.3 373.9,939.7 378.1,939.9 382.3,938.6 386.5,938.5 390.7,937.2 394.9,936.3 399.1,936.0 403.3,935.2 407.5,933.8 411.7,933.8 415.9,933.6 420.1,935.2 424.3,936.2 428.5,935.7 432.7,935.6 436.9,936.3 441.1,937.5 445.4,936.9 449.6,937.4 453.8,936.3 458.0,935.5 462.2,935.2 466.4,935.7 469.2,918.9 473.4,913.3 476.2,909.1 481.8,909.1 486.0,909.4 490.2,909.9 493.5,909.2 496.7,908.7 500.0,907.7" fill="none" stroke="#ff0000" stroke-width="3" stroke-linejoin="round" stroke-linecap="round"/>
<polyline points="85.4,907.7 89.6,907.7 93.8,905.5 98.0,904.9 102.2,904.9 106.4,906.3 112.0,907.7 117.6,909.1 123.2,909.9 128.9,910.5 133.1,910.7 137.3,910.5 141.5,910.6 145.7,910.5 149.9,916.1 154.1,917.5 158.3,921.7 161.1,916.1 165.3,914.7 169.5,913.3 173.7,911.1 177.9,910.5 182.1,913.3 187.7,914.7 191.9,920.3 196.1,927.3 198.9,937.1 201.7,936.3 204.5,939.9 206.5,942.7" fill="none" stroke="#000000" stroke-width="3" stroke-linejoin="round" stroke-linecap="round"/>
<line x1="88.0" y1="1025.0" x2="109.0" y2="1025.0" stroke="#5b9bd5" stroke-width="1.8"/>
<text x="112.0" y="1025.0" font-size="8.8" fill="#404040" text-anchor="start" dominant-baseline="central" font-family="'Liberation Sans','Noto Serif CJK SC',serif">2021年</text>
<line x1="152.7" y1="1025.0" x2="173.7" y2="1025.0" stroke="#ed7d31" stroke-width="1.8"/>
<text x="176.7" y="1025.0" font-size="8.8" fill="#404040" text-anchor="start" dominant-baseline="central" font-family="'Liberation Sans','Noto Serif CJK SC',serif">2022年</text>
<line x1="215.0" y1="1025.0" x2="236.0" y2="1025.0" stroke="#00b050" stroke-width="3"/>
<text x="239.0" y="1025.0" font-size="8.8" fill="#404040" text-anchor="start" dominant-baseline="central" font-family="'Liberation Sans','Noto Serif CJK SC',serif">2023年</text>
<line x1="277.0" y1="1025.0" x2="298.0" y2="1025.0" stroke="#ffc000" stroke-width="3"/>
<text x="301.0" y="1025.0" font-size="8.8" fill="#404040" text-anchor="start" dominant-baseline="central" font-family="'Liberation Sans','Noto Serif CJK SC',serif">2024年</text>
<line x1="341.9" y1="1025.0" x2="362.9" y2="1025.0" stroke="#ff0000" stroke-width="3"/>
<text x="365.9" y="1025.0" font-size="8.8" fill="#404040" text-anchor="start" dominant-baseline="central" font-family="'Liberation Sans','Noto Serif CJK SC',serif">2025年</text>
<line x1="402.4" y1="1025.0" x2="423.4" y2="1025.0" stroke="#000" stroke-width="3"/>
<text x="426.4" y="1025.0" font-size="8.8" fill="#404040" text-anchor="start" dominant-baseline="central" font-family="'Liberation Sans','Noto Serif CJK SC',serif">2026年</text>
<text x="811.7" y="782.0" font-size="14.5" fill="#404040" text-anchor="middle" dominant-baseline="central" font-family="'Liberation Sans','Noto Serif CJK SC',serif" font-weight="bold" letter-spacing="1">全国豆粕成交（7日平均）</text>
<text x="617.0" y="805.0" font-size="10" fill="#404040" text-anchor="end" dominant-baseline="central" font-family="'Liberation Sans','Noto Sans CJK SC',sans-serif">70</text>
<text x="617.0" y="829.4" font-size="10" fill="#404040" text-anchor="end" dominant-baseline="central" font-family="'Liberation Sans','Noto Sans CJK SC',sans-serif">60</text>
<text x="617.0" y="853.7" font-size="10" fill="#404040" text-anchor="end" dominant-baseline="central" font-family="'Liberation Sans','Noto Sans CJK SC',sans-serif">50</text>
<text x="617.0" y="878.1" font-size="10" fill="#404040" text-anchor="end" dominant-baseline="central" font-family="'Liberation Sans','Noto Sans CJK SC',sans-serif">40</text>
<text x="617.0" y="902.5" font-size="10" fill="#404040" text-anchor="end" dominant-baseline="central" font-family="'Liberation Sans','Noto Sans CJK SC',sans-serif">30</text>
<text x="617.0" y="926.9" font-size="10" fill="#404040" text-anchor="end" dominant-baseline="central" font-family="'Liberation Sans','Noto Sans CJK SC',sans-serif">20</text>
<text x="617.0" y="951.2" font-size="10" fill="#404040" text-anchor="end" dominant-baseline="central" font-family="'Liberation Sans','Noto Sans CJK SC',sans-serif">10</text>
<text x="617.0" y="975.6" font-size="10" fill="#404040" text-anchor="end" dominant-baseline="central" font-family="'Liberation Sans','Noto Sans CJK SC',sans-serif">0</text>
<text x="595.0" y="894.5" font-size="10" fill="#404040" text-anchor="middle" dominant-baseline="central" font-family="'Noto Serif CJK SC',serif" letter-spacing="0.5" transform="rotate(-90 595.0 894.5)">万吨</text>
<line x1="625.0" y1="975.6" x2="1037.0" y2="975.6" stroke="#d9d9d9" stroke-width="1"/>
<text x="627.0" y="988.7" font-size="10" fill="#404040" text-anchor="middle" dominant-baseline="central" font-family="'Liberation Sans','Noto Sans CJK SC',sans-serif">1/1</text>
<text x="661.0" y="988.7" font-size="10" fill="#404040" text-anchor="middle" dominant-baseline="central" font-family="'Liberation Sans','Noto Sans CJK SC',sans-serif">2/1</text>
<text x="695.0" y="988.7" font-size="10" fill="#404040" text-anchor="middle" dominant-baseline="central" font-family="'Liberation Sans','Noto Sans CJK SC',sans-serif">3/1</text>
<text x="729.0" y="988.7" font-size="10" fill="#404040" text-anchor="middle" dominant-baseline="central" font-family="'Liberation Sans','Noto Sans CJK SC',sans-serif">4/1</text>
<text x="763.0" y="988.7" font-size="10" fill="#404040" text-anchor="middle" dominant-baseline="central" font-family="'Liberation Sans','Noto Sans CJK SC',sans-serif">5/1</text>
<text x="797.0" y="988.7" font-size="10" fill="#404040" text-anchor="middle" dominant-baseline="central" font-family="'Liberation Sans','Noto Sans CJK SC',sans-serif">6/1</text>
<text x="831.0" y="988.7" font-size="10" fill="#404040" text-anchor="middle" dominant-baseline="central" font-family="'Liberation Sans','Noto Sans CJK SC',sans-serif">7/1</text>
<text x="865.0" y="988.7" font-size="10" fill="#404040" text-anchor="middle" dominant-baseline="central" font-family="'Liberation Sans','Noto Sans CJK SC',sans-serif">8/1</text>
<text x="899.0" y="988.7" font-size="10" fill="#404040" text-anchor="middle" dominant-baseline="central" font-family="'Liberation Sans','Noto Sans CJK SC',sans-serif">9/1</text>
<text x="933.0" y="988.7" font-size="10" fill="#404040" text-anchor="middle" dominant-baseline="central" font-family="'Liberation Sans','Noto Sans CJK SC',sans-serif">10/1</text>
<text x="967.0" y="988.7" font-size="10" fill="#404040" text-anchor="middle" dominant-baseline="central" font-family="'Liberation Sans','Noto Sans CJK SC',sans-serif">11/1</text>
<text x="1001.0" y="988.7" font-size="10" fill="#404040" text-anchor="middle" dominant-baseline="central" font-family="'Liberation Sans','Noto Sans CJK SC',sans-serif">12/1</text>
<polyline points="626.7,950.2 630.7,939.5 634.7,944.8 638.7,940.8 642.7,932.8 646.8,931.4 649.4,932.8 652.1,939.5 656.1,944.8 660.1,943.5 664.1,939.5 668.2,944.8 672.2,918.1 674.8,896.7 677.5,887.3 680.2,891.3 682.9,920.7 685.5,943.5 689.6,944.8 693.6,939.5 697.6,923.4 700.3,928.8 704.3,931.4 708.3,910.0 712.3,891.3 715.0,899.3 717.6,918.1 721.7,928.8 724.3,915.4 727.0,907.4 729.7,910.0 732.4,923.4 735.0,920.7 739.0,944.8 743.1,955.5 748.4,947.5 753.8,934.1 757.8,956.8 764.5,957.4 769.8,958.2 775.2,960.9 780.5,955.5 784.5,939.5 787.2,923.4 791.2,902.0 793.9,888.6 796.6,902.0 800.6,923.4 804.6,926.1 807.3,931.4 812.6,934.1 818.0,928.8 823.3,927.4 825.0,923.4 829.0,918.1 833.0,907.4 837.0,896.7 841.1,891.3 845.1,890.0 849.1,894.0 853.1,891.3 857.1,910.0 861.1,928.8 865.1,942.1 869.1,934.1 873.2,875.3 875.8,877.9 878.5,926.1 882.5,934.1 886.5,950.2 890.5,958.2 894.6,956.8 899.9,947.5 905.3,948.8 910.6,950.2 916.0,952.8 921.3,939.5 926.7,934.1 932.0,928.8 940.0,926.1 948.1,918.1 952.1,902.0 956.1,892.6 960.1,896.7 964.1,907.4 968.1,923.4 972.1,947.5 977.5,948.8 982.8,947.5 988.2,951.5 993.5,955.5 998.9,950.2 1004.2,952.8 1009.6,947.5 1014.9,944.8 1020.3,947.5 1025.6,950.2 1031.0,955.5 1035.0,963.5" fill="none" stroke="#5b9bd5" stroke-width="2.5" stroke-linejoin="round" stroke-linecap="round"/>
<polyline points="628.0,955.5 630.7,947.5 634.7,907.4 638.7,894.0 641.4,895.3 644.1,907.4 646.8,920.7 649.4,931.4 653.4,942.1 657.5,950.2 662.8,966.2 668.2,971.6 673.5,972.9 677.5,968.9 681.5,960.9 685.5,950.2 689.6,948.8 694.9,950.2 700.3,947.5 705.6,944.8 711.0,947.5 716.3,947.5 721.7,944.8 727.0,947.5 732.4,944.8 736.4,935.4 740.4,939.5 745.7,939.5 751.1,938.1 756.4,942.1 761.8,944.8 767.1,940.8 771.1,926.1 775.2,910.0 777.8,915.4 780.5,934.1 785.9,947.5 791.2,950.2 796.6,952.8 801.9,955.5 807.3,952.8 812.6,951.5 818.0,947.5 823.3,952.8 825.0,955.5 830.4,960.9 835.7,952.8 839.7,939.5 845.1,944.8 850.4,947.5 854.4,950.2 858.4,928.8 862.5,915.4 866.5,912.7 870.5,910.0 874.5,923.4 878.5,926.1 882.5,928.8 886.5,923.4 890.5,928.8 894.6,934.1 899.9,939.5 905.3,944.8 910.6,952.8 916.0,954.2 921.3,947.5 926.7,944.8 932.0,943.5 937.4,934.1 942.7,931.4 948.1,923.4 953.4,916.7 958.8,918.1 964.1,920.7 969.5,934.1 974.8,923.4 978.8,910.0 982.8,912.7 986.8,928.8 990.9,934.1 996.2,931.4 1001.6,936.8 1006.9,939.5 1012.3,940.8 1017.6,939.5 1023.0,934.1 1028.3,936.8 1035.0,939.5" fill="none" stroke="#ed7d31" stroke-width="2.5" stroke-linejoin="round" stroke-linecap="round"/>
<polyline points="628.0,934.1 632.0,928.8 636.1,922.1 640.1,920.7 642.7,928.8 645.4,944.8 648.1,950.2 652.1,950.2 654.8,952.8 657.5,966.2 662.8,970.2 668.2,971.6 673.5,966.2 678.9,950.2 682.9,936.8 686.3,928.8 689.6,934.1 693.6,944.8 696.2,952.8 700.3,958.2 705.6,959.5 711.0,955.5 716.3,958.2 721.7,956.8 725.7,958.2 729.7,966.2 733.7,968.9 737.7,966.2 743.1,958.2 748.4,955.5 753.8,952.8 759.1,951.5 764.5,950.2 769.8,950.2 775.2,947.5 780.5,928.8 785.9,904.7 789.1,879.3 792.5,886.0 796.6,899.3 800.6,920.7 804.6,931.4 809.9,934.1 815.3,934.1 819.3,912.7 823.3,923.4 825.0,952.8 829.0,958.2 833.0,966.2 838.4,970.2 842.4,955.5 846.4,939.5 850.4,934.1 854.4,931.4 858.4,923.4 862.5,907.4 866.5,883.3 870.5,880.6 874.5,896.7 878.5,912.7 882.5,918.1 886.5,907.4 890.5,887.3 893.2,888.6 895.9,896.7 899.9,907.4 903.9,910.0 907.9,912.7 911.9,920.7 916.0,918.1 920.0,912.7 924.0,910.0 928.0,915.4 932.0,936.8 937.4,944.8 942.7,950.2 946.7,928.8 950.7,910.0 954.7,907.4 958.8,920.7 964.1,939.5 969.5,944.8 974.8,928.8 978.8,902.0 982.8,898.0 985.5,902.0 989.5,923.4 993.5,944.8 998.9,952.8 1004.2,934.1 1009.6,910.0 1013.6,908.7 1016.3,920.7 1020.3,936.8 1025.6,950.2 1031.0,952.8 1035.0,955.5" fill="none" stroke="#a5a5a5" stroke-width="2.5" stroke-linejoin="round" stroke-linecap="round"/>
<polyline points="626.7,943.5 630.7,944.8 636.1,950.2 640.1,960.9 645.4,968.9 652.1,971.6 657.5,974.2 660.1,955.5 664.1,939.5 666.8,904.7 669.5,879.3 672.2,883.3 676.2,891.3 678.9,923.4 681.5,934.1 685.5,950.2 689.6,963.5 692.2,963.5 696.2,958.2 700.3,944.8 704.3,952.8 708.3,959.5 712.3,960.9 716.3,958.2 720.3,955.5 723.0,944.8 725.7,926.1 729.7,910.0 733.7,912.7 737.7,931.4 741.7,944.8 745.7,939.5 748.4,920.7 752.4,915.4 755.1,904.7 759.1,898.0 763.1,888.6 765.8,872.6 769.3,871.2 772.5,880.6 776.5,899.3 779.2,918.1 783.2,944.8 787.2,952.8 791.2,958.2 795.2,963.5 799.2,958.2 803.2,944.8 807.3,934.1 811.3,920.7 815.3,912.7 819.3,904.7 823.3,915.4 826.0,928.8 828.2,835.1 829.8,837.8 833.0,821.8 837.0,825.8 841.1,831.1 842.4,926.1 845.1,853.9 847.7,845.8 850.4,839.1 853.1,851.2 855.8,883.3 858.4,907.4 862.5,899.3 865.1,880.6 869.1,880.6 871.8,861.9 874.5,872.6 878.5,907.4 881.2,915.4 885.2,920.7 889.2,928.8 894.6,944.8 897.2,958.2 902.6,963.5 907.9,968.9 911.9,972.9 916.0,966.2 921.3,963.5 926.7,966.2 932.0,968.9 937.4,970.2 941.4,971.6 942.7,934.1 946.7,915.4 950.7,910.0 954.7,936.8 957.4,944.8 960.1,907.4 962.8,896.7 966.8,896.7 969.5,928.8 973.5,947.5 977.5,944.8 982.8,952.8 988.2,944.8 993.5,947.5 998.9,950.2 1004.2,955.5 1009.6,947.5 1014.9,947.5 1020.3,955.5 1024.3,947.5 1028.3,942.1 1032.3,934.1 1035.0,939.5" fill="none" stroke="#ffc000" stroke-width="2.5" stroke-linejoin="round" stroke-linecap="round"/>
<polyline points="626.7,934.1 630.7,944.8 634.7,955.5 638.7,960.9 642.7,964.1 645.4,960.9 649.4,950.2 653.4,931.4 658.8,930.1 662.8,935.4 666.8,944.8 669.5,966.2 673.5,971.6 680.2,972.9 684.2,955.5 688.2,944.8 690.9,936.8 693.6,915.4 697.6,886.0 701.6,859.2 705.1,857.9 706.9,888.6 711.0,903.3 716.3,910.0 719.0,920.7 723.0,940.8 725.7,952.8 728.3,950.2 732.4,944.8 736.4,920.7 740.4,907.4 743.1,891.3 745.7,872.6 748.4,860.5 751.1,865.9 753.8,896.7 756.4,926.1 760.4,948.8 767.1,950.2 771.1,943.5 773.8,950.2 777.8,944.8 780.5,950.2 785.9,948.8 791.2,939.5 796.6,928.8 801.9,934.1 807.3,947.5 812.6,944.8 818.0,943.5 823.3,947.5 825.0,939.5 829.0,926.1 833.0,911.4 837.0,915.4 841.1,928.8 842.4,955.5 846.4,962.2 851.8,955.5 857.1,955.5 862.5,952.8 866.5,942.1 870.5,942.1 873.2,939.5 877.2,950.2 881.2,944.8 886.5,942.1 891.9,923.4 895.9,910.0 899.9,896.7 902.6,887.3 905.3,912.7 909.3,920.7 913.3,950.2 916.0,958.2 921.3,956.8 926.7,950.2 932.0,944.8 937.4,944.8 942.7,872.6 946.7,867.2 949.4,872.6 952.1,904.7 956.1,934.1 960.1,928.8 964.1,920.7 968.1,926.1 972.1,920.7 976.1,928.8 980.2,928.8 984.2,939.5 986.8,923.4 989.5,902.0 993.5,891.3 997.5,899.3 1001.6,923.4 1005.6,931.4 1009.6,928.8 1014.9,923.4 1018.9,927.4 1023.0,934.1 1028.3,940.8 1035.0,942.1" fill="none" stroke="#7030a0" stroke-width="2.5" stroke-linejoin="round" stroke-linecap="round"/>
<polyline points="626.7,944.8 630.7,934.1 634.7,912.7 638.7,904.7 642.7,918.1 646.8,931.4 649.4,944.8 653.4,952.8 657.5,958.2 662.8,956.8 666.8,944.8 670.8,923.4 673.5,923.4 676.2,934.1 680.2,950.2 682.9,942.1 686.9,944.8 692.2,942.1 696.2,944.8 700.3,950.2 705.6,952.8 711.0,948.8 716.3,947.5 721.7,950.2 727.0,944.8 732.4,939.5 737.7,912.7 741.7,896.7 745.7,907.4 749.7,910.0 753.8,912.7 756.4,928.8 759.1,944.8 761.8,955.5 765.8,958.2 768.5,939.5 772.5,934.1 777.8,932.8 780.5,950.2 783.2,931.4 785.9,904.7 789.9,902.0 792.5,907.4 795.2,934.1 797.9,955.5 801.9,952.8 805.9,931.4 808.6,904.7 812.6,902.0 816.6,861.9 819.3,883.3 823.3,902.0 827.3,918.1 825.0,907.4 827.7,934.1 830.4,944.8 833.0,934.1 837.0,936.8 841.1,944.8 846.4,942.1 851.8,940.8 857.1,942.1 861.1,940.8 865.1,915.4 867.8,896.7 870.5,844.5 873.2,861.9 877.2,877.9 879.8,952.8 882.5,944.8 886.5,939.5 891.9,940.8 897.2,942.1 902.6,943.5 907.9,942.1 911.9,939.5 917.3,934.1 921.3,944.8 925.3,938.1 929.3,944.8 934.7,946.1 940.0,946.1 945.4,947.5 950.7,948.8 956.1,950.2 961.4,951.5 966.8,950.2 972.1,950.2 978.8,947.5 982.8,936.8 986.8,918.1 990.9,920.7 994.9,926.1 998.9,934.1 1002.9,942.1 1006.9,934.1 1012.3,931.4 1017.6,936.8 1023.0,946.1 1028.3,939.5 1035.0,934.1" fill="none" stroke="#ff0000" stroke-width="2.5" stroke-linejoin="round" stroke-linecap="round"/>
<polyline points="628.0,936.8 632.0,920.7 634.7,907.4 637.4,883.3 640.1,848.5 642.7,832.5 645.4,832.5 648.1,845.8 649.4,880.6 651.6,886.0 653.4,915.4 655.6,932.8 657.5,915.4 659.3,912.7 661.5,914.0 664.1,910.0 666.0,912.7 667.6,934.1 670.8,944.8 673.5,958.2 676.2,967.5 681.5,968.9 686.9,968.9 692.2,970.2 694.9,966.2 698.9,960.9 702.9,952.8 706.9,940.8 711.0,931.4 715.0,934.1 717.6,938.1 720.3,944.8 723.0,955.5 727.0,956.8 732.4,957.6 737.7,958.7 740.4,947.5 743.1,922.1 747.9,918.1 751.1,923.4 752.4,928.8" fill="none" stroke="#000000" stroke-width="2.8" stroke-linejoin="round" stroke-linecap="round"/>
<line x1="636.3" y1="1010.0" x2="657.3" y2="1010.0" stroke="#5b9bd5" stroke-width="2.5"/>
<text x="660.3" y="1010.0" font-size="8.8" fill="#404040" text-anchor="start" dominant-baseline="central" font-family="'Liberation Sans','Noto Serif CJK SC',serif">2020</text>
<line x1="687.9" y1="1010.0" x2="708.9" y2="1010.0" stroke="#ed7d31" stroke-width="2.5"/>
<text x="711.9" y="1010.0" font-size="8.8" fill="#404040" text-anchor="start" dominant-baseline="central" font-family="'Liberation Sans','Noto Serif CJK SC',serif">2021</text>
<line x1="739.5" y1="1010.0" x2="760.5" y2="1010.0" stroke="#a5a5a5" stroke-width="2.5"/>
<text x="763.5" y="1010.0" font-size="8.8" fill="#404040" text-anchor="start" dominant-baseline="central" font-family="'Liberation Sans','Noto Serif CJK SC',serif">2022</text>
<line x1="793.0" y1="1010.0" x2="814.0" y2="1010.0" stroke="#ffc000" stroke-width="2.5"/>
<text x="817.0" y="1010.0" font-size="8.8" fill="#404040" text-anchor="start" dominant-baseline="central" font-family="'Liberation Sans','Noto Serif CJK SC',serif">2023</text>
<line x1="846.0" y1="1010.0" x2="867.0" y2="1010.0" stroke="#7030a0" stroke-width="2.5"/>
<text x="870.0" y="1010.0" font-size="8.8" fill="#404040" text-anchor="start" dominant-baseline="central" font-family="'Liberation Sans','Noto Serif CJK SC',serif">2024</text>
<line x1="899.0" y1="1010.0" x2="920.0" y2="1010.0" stroke="#ff0000" stroke-width="2.5"/>
<text x="923.0" y="1010.0" font-size="8.8" fill="#404040" text-anchor="start" dominant-baseline="central" font-family="'Liberation Sans','Noto Serif CJK SC',serif">2025</text>
<line x1="951.4" y1="1010.0" x2="972.4" y2="1010.0" stroke="#000" stroke-width="2.5"/>
<text x="975.4" y="1010.0" font-size="8.8" fill="#404040" text-anchor="start" dominant-baseline="central" font-family="'Liberation Sans','Noto Serif CJK SC',serif">2026</text>
<text x="275.0" y="1106.5" font-size="16" fill="#262626" text-anchor="middle" dominant-baseline="central" font-family="'Liberation Sans','Noto Serif CJK SC',serif" letter-spacing="0.6">桑托斯港大豆运费</text>
<text x="70.0" y="1115.4" font-size="12.5" fill="#404040" text-anchor="end" dominant-baseline="central" font-family="'Liberation Sans','Noto Sans CJK SC',sans-serif">80</text>
<text x="70.0" y="1140.2" font-size="12.5" fill="#404040" text-anchor="end" dominant-baseline="central" font-family="'Liberation Sans','Noto Sans CJK SC',sans-serif">70</text>
<text x="70.0" y="1164.9" font-size="12.5" fill="#404040" text-anchor="end" dominant-baseline="central" font-family="'Liberation Sans','Noto Sans CJK SC',sans-serif">60</text>
<text x="70.0" y="1189.7" font-size="12.5" fill="#404040" text-anchor="end" dominant-baseline="central" font-family="'Liberation Sans','Noto Sans CJK SC',sans-serif">50</text>
<text x="70.0" y="1214.5" font-size="12.5" fill="#404040" text-anchor="end" dominant-baseline="central" font-family="'Liberation Sans','Noto Sans CJK SC',sans-serif">40</text>
<text x="70.0" y="1239.2" font-size="12.5" fill="#404040" text-anchor="end" dominant-baseline="central" font-family="'Liberation Sans','Noto Sans CJK SC',sans-serif">30</text>
<text x="70.0" y="1264.0" font-size="12.5" fill="#404040" text-anchor="end" dominant-baseline="central" font-family="'Liberation Sans','Noto Sans CJK SC',sans-serif">20</text>
<text x="43.0" y="1200.7" font-size="10" fill="#404040" text-anchor="middle" dominant-baseline="central" font-family="'Noto Serif CJK SC',serif" letter-spacing="0.5" transform="rotate(-90 43.0 1200.7)">美元 / 吨</text>
<line x1="78.0" y1="1263.4" x2="515.0" y2="1263.4" stroke="#d9d9d9" stroke-width="1"/>
<text x="81.5" y="1268.0" font-size="9.5" fill="#595959" text-anchor="end" dominant-baseline="central" font-family="'Liberation Sans','Noto Sans CJK SC',sans-serif" transform="rotate(-90 81.5 1268.0)">1月2日</text>
<text x="92.5" y="1268.0" font-size="9.5" fill="#595959" text-anchor="end" dominant-baseline="central" font-family="'Liberation Sans','Noto Sans CJK SC',sans-serif" transform="rotate(-90 92.5 1268.0)">1月11日</text>
<text x="103.6" y="1268.0" font-size="9.5" fill="#595959" text-anchor="end" dominant-baseline="central" font-family="'Liberation Sans','Noto Sans CJK SC',sans-serif" transform="rotate(-90 103.6 1268.0)">1月20日</text>
<text x="114.6" y="1268.0" font-size="9.5" fill="#595959" text-anchor="end" dominant-baseline="central" font-family="'Liberation Sans','Noto Sans CJK SC',sans-serif" transform="rotate(-90 114.6 1268.0)">1月29日</text>
<text x="125.7" y="1268.0" font-size="9.5" fill="#595959" text-anchor="end" dominant-baseline="central" font-family="'Liberation Sans','Noto Sans CJK SC',sans-serif" transform="rotate(-90 125.7 1268.0)">2月7日</text>
<text x="136.7" y="1268.0" font-size="9.5" fill="#595959" text-anchor="end" dominant-baseline="central" font-family="'Liberation Sans','Noto Sans CJK SC',sans-serif" transform="rotate(-90 136.7 1268.0)">2月16日</text>
<text x="147.7" y="1268.0" font-size="9.5" fill="#595959" text-anchor="end" dominant-baseline="central" font-family="'Liberation Sans','Noto Sans CJK SC',sans-serif" transform="rotate(-90 147.7 1268.0)">2月25日</text>
<text x="158.8" y="1268.0" font-size="9.5" fill="#595959" text-anchor="end" dominant-baseline="central" font-family="'Liberation Sans','Noto Sans CJK SC',sans-serif" transform="rotate(-90 158.8 1268.0)">3月5日</text>
<text x="169.8" y="1268.0" font-size="9.5" fill="#595959" text-anchor="end" dominant-baseline="central" font-family="'Liberation Sans','Noto Sans CJK SC',sans-serif" transform="rotate(-90 169.8 1268.0)">3月14日</text>
<text x="180.8" y="1268.0" font-size="9.5" fill="#595959" text-anchor="end" dominant-baseline="central" font-family="'Liberation Sans','Noto Sans CJK SC',sans-serif" transform="rotate(-90 180.8 1268.0)">3月23日</text>
<text x="191.9" y="1268.0" font-size="9.5" fill="#595959" text-anchor="end" dominant-baseline="central" font-family="'Liberation Sans','Noto Sans CJK SC',sans-serif" transform="rotate(-90 191.9 1268.0)">4月1日</text>
<text x="202.9" y="1268.0" font-size="9.5" fill="#595959" text-anchor="end" dominant-baseline="central" font-family="'Liberation Sans','Noto Sans CJK SC',sans-serif" transform="rotate(-90 202.9 1268.0)">4月10日</text>
<text x="214.0" y="1268.0" font-size="9.5" fill="#595959" text-anchor="end" dominant-baseline="central" font-family="'Liberation Sans','Noto Sans CJK SC',sans-serif" transform="rotate(-90 214.0 1268.0)">4月19日</text>
<text x="225.0" y="1268.0" font-size="9.5" fill="#595959" text-anchor="end" dominant-baseline="central" font-family="'Liberation Sans','Noto Sans CJK SC',sans-serif" transform="rotate(-90 225.0 1268.0)">4月28日</text>
<text x="236.0" y="1268.0" font-size="9.5" fill="#595959" text-anchor="end" dominant-baseline="central" font-family="'Liberation Sans','Noto Sans CJK SC',sans-serif" transform="rotate(-90 236.0 1268.0)">5月8日</text>
<text x="247.1" y="1268.0" font-size="9.5" fill="#595959" text-anchor="end" dominant-baseline="central" font-family="'Liberation Sans','Noto Sans CJK SC',sans-serif" transform="rotate(-90 247.1 1268.0)">5月17日</text>
<text x="258.1" y="1268.0" font-size="9.5" fill="#595959" text-anchor="end" dominant-baseline="central" font-family="'Liberation Sans','Noto Sans CJK SC',sans-serif" transform="rotate(-90 258.1 1268.0)">5月26日</text>
<text x="269.2" y="1268.0" font-size="9.5" fill="#595959" text-anchor="end" dominant-baseline="central" font-family="'Liberation Sans','Noto Sans CJK SC',sans-serif" transform="rotate(-90 269.2 1268.0)">6月4日</text>
<text x="280.2" y="1268.0" font-size="9.5" fill="#595959" text-anchor="end" dominant-baseline="central" font-family="'Liberation Sans','Noto Sans CJK SC',sans-serif" transform="rotate(-90 280.2 1268.0)">6月13日</text>
<text x="291.2" y="1268.0" font-size="9.5" fill="#595959" text-anchor="end" dominant-baseline="central" font-family="'Liberation Sans','Noto Sans CJK SC',sans-serif" transform="rotate(-90 291.2 1268.0)">6月22日</text>
<text x="302.3" y="1268.0" font-size="9.5" fill="#595959" text-anchor="end" dominant-baseline="central" font-family="'Liberation Sans','Noto Sans CJK SC',sans-serif" transform="rotate(-90 302.3 1268.0)">7月1日</text>
<text x="313.3" y="1268.0" font-size="9.5" fill="#595959" text-anchor="end" dominant-baseline="central" font-family="'Liberation Sans','Noto Sans CJK SC',sans-serif" transform="rotate(-90 313.3 1268.0)">7月10日</text>
<text x="324.3" y="1268.0" font-size="9.5" fill="#595959" text-anchor="end" dominant-baseline="central" font-family="'Liberation Sans','Noto Sans CJK SC',sans-serif" transform="rotate(-90 324.3 1268.0)">7月19日</text>
<text x="335.4" y="1268.0" font-size="9.5" fill="#595959" text-anchor="end" dominant-baseline="central" font-family="'Liberation Sans','Noto Sans CJK SC',sans-serif" transform="rotate(-90 335.4 1268.0)">7月28日</text>
<text x="346.4" y="1268.0" font-size="9.5" fill="#595959" text-anchor="end" dominant-baseline="central" font-family="'Liberation Sans','Noto Sans CJK SC',sans-serif" transform="rotate(-90 346.4 1268.0)">8月6日</text>
<text x="357.5" y="1268.0" font-size="9.5" fill="#595959" text-anchor="end" dominant-baseline="central" font-family="'Liberation Sans','Noto Sans CJK SC',sans-serif" transform="rotate(-90 357.5 1268.0)">8月15日</text>
<text x="368.5" y="1268.0" font-size="9.5" fill="#595959" text-anchor="end" dominant-baseline="central" font-family="'Liberation Sans','Noto Sans CJK SC',sans-serif" transform="rotate(-90 368.5 1268.0)">8月24日</text>
<text x="379.5" y="1268.0" font-size="9.5" fill="#595959" text-anchor="end" dominant-baseline="central" font-family="'Liberation Sans','Noto Sans CJK SC',sans-serif" transform="rotate(-90 379.5 1268.0)">9月2日</text>
<text x="390.6" y="1268.0" font-size="9.5" fill="#595959" text-anchor="end" dominant-baseline="central" font-family="'Liberation Sans','Noto Sans CJK SC',sans-serif" transform="rotate(-90 390.6 1268.0)">9月11日</text>
<text x="401.6" y="1268.0" font-size="9.5" fill="#595959" text-anchor="end" dominant-baseline="central" font-family="'Liberation Sans','Noto Sans CJK SC',sans-serif" transform="rotate(-90 401.6 1268.0)">9月20日</text>
<text x="412.7" y="1268.0" font-size="9.5" fill="#595959" text-anchor="end" dominant-baseline="central" font-family="'Liberation Sans','Noto Sans CJK SC',sans-serif" transform="rotate(-90 412.7 1268.0)">9月29日</text>
<text x="423.7" y="1268.0" font-size="9.5" fill="#595959" text-anchor="end" dominant-baseline="central" font-family="'Liberation Sans','Noto Sans CJK SC',sans-serif" transform="rotate(-90 423.7 1268.0)">10月15日</text>
<text x="434.7" y="1268.0" font-size="9.5" fill="#595959" text-anchor="end" dominant-baseline="central" font-family="'Liberation Sans','Noto Sans CJK SC',sans-serif" transform="rotate(-90 434.7 1268.0)">10月24日</text>
<text x="445.8" y="1268.0" font-size="9.5" fill="#595959" text-anchor="end" dominant-baseline="central" font-family="'Liberation Sans','Noto Sans CJK SC',sans-serif" transform="rotate(-90 445.8 1268.0)">11月2日</text>
<text x="456.8" y="1268.0" font-size="9.5" fill="#595959" text-anchor="end" dominant-baseline="central" font-family="'Liberation Sans','Noto Sans CJK SC',sans-serif" transform="rotate(-90 456.8 1268.0)">11月11日</text>
<text x="467.8" y="1268.0" font-size="9.5" fill="#595959" text-anchor="end" dominant-baseline="central" font-family="'Liberation Sans','Noto Sans CJK SC',sans-serif" transform="rotate(-90 467.8 1268.0)">11月20日</text>
<text x="478.9" y="1268.0" font-size="9.5" fill="#595959" text-anchor="end" dominant-baseline="central" font-family="'Liberation Sans','Noto Sans CJK SC',sans-serif" transform="rotate(-90 478.9 1268.0)">11月29日</text>
<text x="489.9" y="1268.0" font-size="9.5" fill="#595959" text-anchor="end" dominant-baseline="central" font-family="'Liberation Sans','Noto Sans CJK SC',sans-serif" transform="rotate(-90 489.9 1268.0)">12月8日</text>
<text x="501.0" y="1268.0" font-size="9.5" fill="#595959" text-anchor="end" dominant-baseline="central" font-family="'Liberation Sans','Noto Sans CJK SC',sans-serif" transform="rotate(-90 501.0 1268.0)">12月17日</text>
<text x="512.0" y="1268.0" font-size="9.5" fill="#595959" text-anchor="end" dominant-baseline="central" font-family="'Liberation Sans','Noto Sans CJK SC',sans-serif" transform="rotate(-90 512.0 1268.0)">12月26日</text>
<polyline points="79.2,1233.9 82.7,1233.8 86.2,1233.4 90.4,1233.2 94.6,1232.5 98.8,1232.9 103.0,1232.5 107.2,1233.0 111.4,1232.5 117.0,1233.4 122.6,1233.9 128.2,1235.3 133.9,1236.2 139.5,1235.3 143.7,1234.2 147.9,1232.5 152.1,1232.3 156.3,1231.1 160.5,1229.8 164.7,1229.7 168.9,1229.0 173.1,1228.3 177.3,1228.6 181.5,1227.8 185.7,1228.2 189.9,1228.3 194.1,1229.1 198.3,1228.9 203.9,1229.7 209.5,1230.3 215.1,1231.1 219.3,1230.9 223.5,1231.7 227.7,1232.1 231.9,1232.5 236.1,1232.2 240.4,1232.5 244.6,1233.3 248.8,1233.9 253.0,1234.7 257.2,1235.3 261.4,1234.0 265.6,1233.9 269.8,1232.9 274.0,1232.5 278.2,1230.9 282.4,1229.7 286.6,1229.5 290.8,1228.3 290.0,1227.8 294.2,1228.4 298.4,1228.3 302.6,1227.6 306.8,1227.8 311.0,1227.7 315.2,1226.9 319.4,1226.5 323.6,1226.9 327.8,1226.6 332.0,1226.1 336.2,1225.6 340.4,1226.1 344.6,1225.9 348.9,1226.9 353.1,1226.9 357.3,1226.1 361.5,1225.2 365.7,1224.9 369.9,1224.6 374.1,1224.9 378.3,1225.8 382.5,1225.5 386.7,1225.7 390.9,1224.9 395.1,1224.3 399.3,1224.1 404.9,1222.7 410.5,1218.5 416.1,1215.7 421.7,1214.3 427.3,1214.9 432.9,1216.5 438.5,1218.5 444.1,1220.5 449.7,1222.7 455.4,1225.5 461.0,1228.3 466.6,1229.7 472.2,1229.7 476.4,1230.3 480.6,1229.7 484.8,1229.8 489.0,1229.7 493.2,1230.3 497.4,1230.6 501.6,1230.5 505.8,1231.1 510.0,1231.7" fill="none" stroke="#5b9bd5" stroke-width="2.4" stroke-linejoin="round" stroke-linecap="round"/>
<polyline points="80.6,1233.9 86.2,1236.7 90.4,1239.5 96.0,1240.9 101.6,1242.3 107.2,1245.1 110.7,1246.8 114.2,1247.4 118.4,1247.9 122.6,1247.9 126.8,1248.5 131.1,1247.9 135.3,1247.7 139.5,1246.5 143.7,1246.3 147.9,1246.5 153.5,1243.7 159.1,1241.8 164.7,1240.9 170.3,1239.5 174.5,1235.3 178.7,1233.9 182.9,1233.8 187.1,1233.9 191.3,1233.5 195.5,1233.9 201.1,1234.5 206.7,1235.3 212.3,1235.3 217.9,1234.5 223.5,1233.9 227.7,1233.2 231.9,1233.4 236.1,1232.4 240.4,1232.5 244.6,1231.6 248.8,1231.1 253.0,1231.2 257.2,1231.1 261.4,1230.2 265.6,1230.6 269.8,1231.0 274.0,1231.1 278.2,1231.6 282.4,1232.5 288.0,1234.5 290.0,1234.5 295.6,1233.9 301.2,1232.5 306.8,1225.5 312.4,1221.3 318.0,1217.1 323.6,1215.7 329.2,1216.5 334.8,1218.5 340.4,1219.3 346.1,1219.9 351.7,1218.5 357.3,1217.1 362.9,1214.3 368.5,1212.9 374.1,1210.1 379.7,1209.3 385.3,1211.5 390.9,1212.9 396.5,1212.9 402.1,1213.7 407.7,1214.9 413.3,1216.5 418.9,1217.1 424.5,1217.1 430.1,1218.5 435.7,1219.9 441.3,1222.1 446.9,1224.1 452.5,1226.1 458.2,1227.8 463.8,1228.9 469.4,1230.6 475.0,1231.1 479.2,1231.2 483.4,1231.7 487.6,1231.8 491.8,1231.1 496.0,1231.4 500.2,1231.7 503.5,1231.3 506.7,1231.3 510.0,1231.1" fill="none" stroke="#ed7d31" stroke-width="2.4" stroke-linejoin="round" stroke-linecap="round"/>
<polyline points="79.2,1232.5 82.7,1232.3 86.2,1231.7 90.4,1230.6 94.6,1230.6 98.8,1230.7 103.0,1229.7 107.2,1229.8 111.4,1231.1 115.6,1232.8 119.8,1233.9 123.3,1236.0 126.8,1237.3 131.1,1240.9 136.7,1240.1 142.3,1238.1 147.9,1236.7 152.1,1235.4 156.3,1235.3 161.9,1235.3 167.5,1238.1 171.7,1242.3 175.9,1247.9 181.5,1250.7 187.1,1252.1 192.7,1252.1 198.3,1251.3 203.9,1251.3 209.5,1251.3 215.1,1252.1 220.7,1253.5 226.3,1256.3 231.9,1259.1 237.5,1260.5 243.2,1261.4 248.8,1260.5 254.4,1260.5 260.0,1256.3 265.6,1253.5 271.2,1252.1 276.8,1250.2 282.4,1246.5 288.0,1243.7 290.0,1242.3 295.6,1242.3 301.2,1241.8 306.8,1239.0 312.4,1235.3 318.0,1235.3 323.6,1238.1 329.2,1240.9 334.8,1240.9 340.4,1239.0 346.1,1236.7 351.7,1233.9 357.3,1233.4 362.9,1233.9 368.5,1232.5 374.1,1231.1 379.7,1232.5 385.3,1233.9 390.9,1234.5 396.5,1235.3 402.1,1235.3 407.7,1235.3 413.3,1236.2 418.9,1236.7 424.5,1237.3 430.1,1238.1 435.7,1239.0 441.3,1240.1 446.9,1240.9 452.5,1242.3 458.2,1242.3 463.8,1241.8 469.4,1240.9 475.0,1240.1 480.6,1240.9 486.2,1241.8 491.8,1241.8 496.0,1242.1 500.2,1241.8 503.5,1241.5 506.7,1241.7 510.0,1241.5" fill="none" stroke="#a5a5a5" stroke-width="2.4" stroke-linejoin="round" stroke-linecap="round"/>
<polyline points="82.0,1240.9 86.2,1233.9 91.8,1226.9 96.0,1225.6 100.2,1225.5 104.4,1224.3 108.6,1224.1 112.8,1224.1 117.0,1224.9 121.2,1225.8 125.4,1225.5 129.6,1214.3 133.9,1203.1 136.7,1196.1 140.9,1200.3 144.4,1199.9 147.9,1200.3 152.1,1200.6 156.3,1200.3 161.9,1194.7 167.5,1186.3 173.1,1179.3 178.7,1176.5 184.3,1179.3 189.9,1182.1 195.5,1183.5 199.7,1189.1 203.9,1197.5 206.7,1200.3 210.9,1190.5 215.1,1184.9 220.7,1182.1 226.3,1179.3 231.9,1177.9 237.5,1176.5 243.2,1176.5 248.8,1175.1 253.0,1177.7 257.2,1179.3 262.8,1173.7 268.4,1169.5 274.0,1163.9 279.6,1161.1 285.2,1159.6 290.8,1156.8 290.0,1161.1 294.2,1154.0 298.4,1147.0 304.0,1143.7 309.6,1144.2 315.2,1147.0 320.8,1149.8 326.4,1150.4 332.0,1153.2 337.6,1156.0 343.2,1155.4 348.9,1153.2 354.5,1151.2 360.1,1149.8 365.7,1148.4 371.3,1148.4 376.9,1149.8 382.5,1150.4 388.1,1149.3 393.7,1147.6 399.3,1147.0 404.9,1146.5 410.5,1145.6 416.1,1144.8 421.7,1141.4 427.3,1137.2 431.5,1136.4 435.7,1138.6 441.3,1142.0 445.5,1152.6 449.7,1158.2 455.4,1162.5 459.6,1165.3 462.4,1173.7 465.2,1182.1 469.4,1189.6 475.0,1186.3 480.6,1182.1 486.2,1180.1 491.8,1182.1 497.4,1184.9 501.6,1187.7 505.8,1184.9 510.0,1182.9" fill="none" stroke="#00b0f0" stroke-width="2.4" stroke-linejoin="round" stroke-linecap="round"/>
<polyline points="82.0,1179.3 84.8,1170.9 89.0,1170.9 93.2,1176.5 97.4,1179.3 101.6,1187.7 105.8,1190.5 111.4,1193.3 117.0,1193.3 120.5,1193.8 124.0,1193.3 128.2,1182.1 132.5,1177.3 136.7,1179.3 140.9,1181.2 145.1,1173.7 150.7,1172.3 154.9,1169.5 159.1,1162.5 163.3,1152.6 167.5,1154.0 171.7,1159.6 175.9,1159.6 180.1,1147.0 185.7,1142.8 189.9,1145.6 194.1,1148.4 198.3,1151.2 202.5,1151.2 206.7,1148.4 212.3,1145.6 217.9,1145.6 223.5,1147.0 229.1,1144.2 234.7,1144.2 238.9,1140.0 243.2,1140.0 248.8,1138.6 254.4,1138.1 260.0,1142.8 265.6,1141.4 271.2,1142.8 276.8,1144.2 282.4,1141.4 288.0,1140.9 290.0,1142.8 295.6,1145.6 301.2,1149.8 306.8,1155.4 312.4,1161.1 318.0,1168.1 323.6,1169.5 329.2,1168.9 334.8,1172.3 340.4,1176.5 346.1,1179.3 351.7,1182.1 357.3,1184.9 362.9,1187.7 368.5,1191.9 374.1,1196.1 376.9,1201.7 381.1,1202.5 385.3,1198.9 389.5,1193.3 393.7,1189.6 397.9,1193.3 402.1,1192.4 407.7,1194.1 411.9,1189.1 414.7,1184.0 418.9,1186.3 424.5,1186.8 430.1,1187.7 432.9,1190.5 435.7,1196.1 441.3,1200.3 446.9,1201.7 452.5,1200.8 458.2,1201.7 463.8,1203.1 469.4,1204.5 475.0,1204.5 480.6,1203.6 486.2,1204.5 491.8,1205.9 497.4,1207.3 503.0,1208.7 506.5,1208.8 510.0,1209.3" fill="none" stroke="#4472c4" stroke-width="2.4" stroke-linejoin="round" stroke-linecap="round"/>
<polyline points="80.6,1212.9 84.8,1217.1 90.4,1219.9 96.0,1221.3 101.6,1219.9 107.2,1220.5 112.8,1220.5 118.4,1222.7 124.0,1224.1 129.6,1225.5 135.3,1226.9 140.9,1228.3 143.7,1221.3 146.5,1215.7 150.7,1211.5 154.9,1210.1 159.1,1208.7 164.7,1207.3 168.9,1206.5 171.7,1208.7 175.9,1211.5 181.5,1212.1 187.1,1211.5 192.7,1206.5 196.9,1201.7 202.5,1200.3 206.7,1203.1 212.3,1204.5 217.9,1205.3 223.5,1207.3 229.1,1210.1 234.7,1212.9 240.4,1215.7 246.0,1219.9 251.6,1221.3 257.2,1222.7 262.8,1225.5 268.4,1225.5 274.0,1223.3 279.6,1222.7 285.2,1222.7 290.8,1223.3 290.0,1224.1 295.6,1224.9 301.2,1226.9 306.8,1227.8 312.4,1226.9 318.0,1226.9 323.6,1228.3 329.2,1229.7 334.8,1228.3 340.4,1226.1 346.1,1224.1 351.7,1221.3 357.3,1217.1 362.9,1215.7 368.5,1214.3 374.1,1212.9 379.7,1211.5 385.3,1210.9 390.9,1210.1 396.5,1207.3 402.1,1205.9 407.7,1206.5 413.3,1208.1 418.9,1210.1 424.5,1210.7 430.1,1210.1 435.7,1209.3 441.3,1210.9 446.9,1212.9 452.5,1212.9 458.2,1211.5 463.8,1207.3 469.4,1204.5 475.0,1202.5 480.6,1200.8 483.4,1199.7 486.2,1202.5 491.8,1205.9 497.4,1207.3 503.0,1205.9 506.5,1205.0 510.0,1204.5" fill="none" stroke="#70ad47" stroke-width="2.4" stroke-linejoin="round" stroke-linecap="round"/>
<polyline points="79.2,1204.5 83.4,1208.7 87.6,1214.3 91.8,1215.7 96.0,1214.3 100.2,1210.1 105.8,1208.7 111.4,1207.3 117.0,1208.7 122.6,1210.1 128.2,1210.1 133.9,1207.3 139.5,1204.5 145.1,1204.5 150.7,1207.3 154.9,1201.7 159.1,1197.5 164.7,1191.9 170.3,1186.3 174.5,1183.5 178.7,1186.3 184.3,1189.1 189.9,1191.9 195.5,1194.1 201.1,1195.2 206.7,1194.1 212.3,1192.4 217.9,1192.7 223.5,1194.1 229.1,1193.3 234.7,1191.3 240.4,1191.9 246.0,1194.7 251.6,1196.1 257.2,1197.5 262.8,1200.3 268.4,1198.9 274.0,1197.5 279.6,1196.9 285.2,1196.1 290.8,1198.9 290.0,1198.9 295.6,1200.3 299.8,1201.0 304.0,1201.7 308.2,1202.4 312.4,1202.5 316.6,1201.6 320.8,1201.7 325.0,1202.4 329.2,1202.5 333.4,1202.9 337.6,1202.5 343.2,1203.6 348.9,1207.3 354.5,1209.3 358.7,1210.8 362.9,1211.5 367.1,1211.6 371.3,1212.9 375.5,1214.1 379.7,1214.3 383.9,1214.1 388.1,1214.9 392.3,1215.1 396.5,1215.7 400.7,1215.8 404.9,1215.7 409.1,1216.2 413.3,1215.7 417.5,1215.5 421.7,1215.7 425.9,1216.9 430.1,1217.1 435.7,1219.9 441.3,1222.7 446.9,1225.5 452.5,1226.9 458.2,1228.3 463.8,1229.7 469.4,1231.7 475.0,1233.4 480.6,1234.5 486.2,1233.9 490.4,1234.3 494.6,1234.5 498.8,1234.3 503.0,1234.5 506.5,1234.0 510.0,1233.9" fill="none" stroke="#7030a0" stroke-width="2.4" stroke-linejoin="round" stroke-linecap="round"/>
<polyline points="79.2,1233.9 84.8,1234.5 88.3,1233.8 91.8,1233.9 95.3,1234.1 98.8,1235.3 102.3,1234.5 105.8,1234.5 109.3,1235.8 112.8,1236.7 116.3,1235.2 119.8,1232.5 123.3,1231.4 126.8,1231.1 130.4,1229.9 133.9,1229.7 138.1,1229.6 142.3,1228.3 146.5,1228.4 150.7,1228.3 154.9,1228.2 159.1,1228.3 164.7,1228.3 170.3,1226.9 175.9,1225.5 181.5,1225.5 187.1,1224.1 191.3,1224.1 196.9,1226.9 202.5,1228.9 208.1,1229.7 213.7,1229.7 217.2,1228.7 220.7,1228.3 226.3,1228.3 231.9,1228.3 237.5,1228.3 243.2,1228.9 247.4,1229.4 251.6,1229.7 255.8,1230.1 260.0,1229.7 264.2,1229.8 268.4,1230.0 274.0,1229.7 278.2,1228.9 282.4,1228.3 286.6,1227.1 290.8,1226.9 290.0,1233.4 295.6,1232.5 301.2,1231.1 306.8,1229.7 311.0,1220.5 315.2,1215.7 320.8,1214.3 326.4,1214.9 332.0,1217.1 337.6,1218.5 341.8,1219.0 346.1,1218.5 350.3,1217.9 354.5,1218.5 358.7,1217.8 362.9,1217.1 368.5,1215.7 374.1,1214.3 379.7,1215.7 385.3,1216.5 390.9,1215.7 396.5,1215.7 402.1,1216.3 406.3,1216.7 410.5,1216.3 414.7,1215.5 418.9,1215.7 423.1,1216.4 427.3,1216.5 431.5,1217.4 435.7,1217.1 439.9,1217.3 444.1,1217.1 448.3,1217.2 452.5,1216.5 456.8,1216.1 461.0,1216.5 465.2,1216.0 469.4,1215.7 473.6,1215.3 477.8,1215.7 483.4,1217.1 489.0,1219.9 494.6,1224.1 500.2,1228.3 505.8,1231.1 510.0,1231.7" fill="none" stroke="#ff0000" stroke-width="2.8" stroke-linejoin="round" stroke-linecap="round"/>
<polyline points="82.0,1232.5 85.5,1232.9 89.0,1232.5 94.6,1231.1 98.8,1228.3 103.0,1222.7 107.2,1220.5 111.4,1217.7 117.0,1214.9 122.6,1213.7 128.2,1212.1 133.9,1211.5 139.5,1210.9 145.1,1210.1 150.7,1208.7 154.9,1201.7 156.3,1194.7 160.5,1193.3 163.3,1189.1 166.1,1182.1 170.3,1182.1 174.5,1180.7 178.7,1182.1 181.5,1186.3 185.7,1189.1 189.9,1187.7 194.1,1186.8 198.3,1186.3 202.5,1187.7 206.7,1187.1" fill="none" stroke="#000000" stroke-width="2.8" stroke-linejoin="round" stroke-linecap="round"/>
<line x1="87.5" y1="1321.0" x2="108.5" y2="1321.0" stroke="#5b9bd5" stroke-width="2.4"/>
<text x="111.5" y="1321.0" font-size="9" fill="#404040" text-anchor="start" dominant-baseline="central" font-family="'Liberation Sans','Noto Serif CJK SC',serif">2018年</text>
<line x1="175.0" y1="1321.0" x2="196.0" y2="1321.0" stroke="#ed7d31" stroke-width="2.4"/>
<text x="199.0" y="1321.0" font-size="9" fill="#404040" text-anchor="start" dominant-baseline="central" font-family="'Liberation Sans','Noto Serif CJK SC',serif">2019年</text>
<line x1="263.7" y1="1321.0" x2="284.7" y2="1321.0" stroke="#a5a5a5" stroke-width="2.4"/>
<text x="287.7" y="1321.0" font-size="9" fill="#404040" text-anchor="start" dominant-baseline="central" font-family="'Liberation Sans','Noto Serif CJK SC',serif">2020年</text>
<line x1="352.3" y1="1321.0" x2="373.3" y2="1321.0" stroke="#00b0f0" stroke-width="2.4"/>
<text x="376.3" y="1321.0" font-size="9" fill="#404040" text-anchor="start" dominant-baseline="central" font-family="'Liberation Sans','Noto Serif CJK SC',serif">2021年</text>
<line x1="440.4" y1="1321.0" x2="461.4" y2="1321.0" stroke="#4472c4" stroke-width="2.4"/>
<text x="464.4" y="1321.0" font-size="9" fill="#404040" text-anchor="start" dominant-baseline="central" font-family="'Liberation Sans','Noto Serif CJK SC',serif">2022年</text>
<line x1="87.5" y1="1337.7" x2="108.5" y2="1337.7" stroke="#70ad47" stroke-width="2.4"/>
<text x="111.5" y="1337.7" font-size="9" fill="#404040" text-anchor="start" dominant-baseline="central" font-family="'Liberation Sans','Noto Serif CJK SC',serif">2023年</text>
<line x1="175.0" y1="1337.7" x2="196.0" y2="1337.7" stroke="#7030a0" stroke-width="2.4"/>
<text x="199.0" y="1337.7" font-size="9" fill="#404040" text-anchor="start" dominant-baseline="central" font-family="'Liberation Sans','Noto Serif CJK SC',serif">2024年</text>
<line x1="263.7" y1="1337.7" x2="284.7" y2="1337.7" stroke="#ff0000" stroke-width="2.4"/>
<text x="287.7" y="1337.7" font-size="9" fill="#404040" text-anchor="start" dominant-baseline="central" font-family="'Liberation Sans','Noto Serif CJK SC',serif">2025年</text>
<line x1="352.3" y1="1337.7" x2="373.3" y2="1337.7" stroke="#000" stroke-width="2.4"/>
<text x="376.3" y="1337.7" font-size="9" fill="#404040" text-anchor="start" dominant-baseline="central" font-family="'Liberation Sans','Noto Serif CJK SC',serif">2026年</text>
<text x="818.6" y="1106.5" font-size="16" fill="#262626" text-anchor="middle" dominant-baseline="central" font-family="'Liberation Sans','Noto Serif CJK SC',serif" letter-spacing="0.6">塔科马港大豆运费</text>
<text x="617.0" y="1115.4" font-size="12.5" fill="#404040" text-anchor="end" dominant-baseline="central" font-family="'Liberation Sans','Noto Sans CJK SC',sans-serif">55</text>
<text x="617.0" y="1135.3" font-size="12.5" fill="#404040" text-anchor="end" dominant-baseline="central" font-family="'Liberation Sans','Noto Sans CJK SC',sans-serif">50</text>
<text x="617.0" y="1155.1" font-size="12.5" fill="#404040" text-anchor="end" dominant-baseline="central" font-family="'Liberation Sans','Noto Sans CJK SC',sans-serif">45</text>
<text x="617.0" y="1175.0" font-size="12.5" fill="#404040" text-anchor="end" dominant-baseline="central" font-family="'Liberation Sans','Noto Sans CJK SC',sans-serif">40</text>
<text x="617.0" y="1194.8" font-size="12.5" fill="#404040" text-anchor="end" dominant-baseline="central" font-family="'Liberation Sans','Noto Sans CJK SC',sans-serif">35</text>
<text x="617.0" y="1214.7" font-size="12.5" fill="#404040" text-anchor="end" dominant-baseline="central" font-family="'Liberation Sans','Noto Sans CJK SC',sans-serif">30</text>
<text x="617.0" y="1234.6" font-size="12.5" fill="#404040" text-anchor="end" dominant-baseline="central" font-family="'Liberation Sans','Noto Sans CJK SC',sans-serif">25</text>
<text x="617.0" y="1254.4" font-size="12.5" fill="#404040" text-anchor="end" dominant-baseline="central" font-family="'Liberation Sans','Noto Sans CJK SC',sans-serif">20</text>
<text x="617.0" y="1274.3" font-size="12.5" fill="#404040" text-anchor="end" dominant-baseline="central" font-family="'Liberation Sans','Noto Sans CJK SC',sans-serif">15</text>
<text x="591.6" y="1204.0" font-size="10" fill="#404040" text-anchor="middle" dominant-baseline="central" font-family="'Noto Serif CJK SC',serif" letter-spacing="0.5" transform="rotate(-90 591.6 1204.0)">美元 / 吨</text>
<line x1="623.0" y1="1274.5" x2="1052.0" y2="1274.5" stroke="#d9d9d9" stroke-width="1"/>
<text x="627.5" y="1278.0" font-size="9.5" fill="#595959" text-anchor="end" dominant-baseline="central" font-family="'Liberation Sans','Noto Sans CJK SC',sans-serif" transform="rotate(-90 627.5 1278.0)">1月2日</text>
<text x="638.2" y="1278.0" font-size="9.5" fill="#595959" text-anchor="end" dominant-baseline="central" font-family="'Liberation Sans','Noto Sans CJK SC',sans-serif" transform="rotate(-90 638.2 1278.0)">1月11日</text>
<text x="648.9" y="1278.0" font-size="9.5" fill="#595959" text-anchor="end" dominant-baseline="central" font-family="'Liberation Sans','Noto Sans CJK SC',sans-serif" transform="rotate(-90 648.9 1278.0)">1月20日</text>
<text x="659.6" y="1278.0" font-size="9.5" fill="#595959" text-anchor="end" dominant-baseline="central" font-family="'Liberation Sans','Noto Sans CJK SC',sans-serif" transform="rotate(-90 659.6 1278.0)">1月29日</text>
<text x="670.3" y="1278.0" font-size="9.5" fill="#595959" text-anchor="end" dominant-baseline="central" font-family="'Liberation Sans','Noto Sans CJK SC',sans-serif" transform="rotate(-90 670.3 1278.0)">2月7日</text>
<text x="681.0" y="1278.0" font-size="9.5" fill="#595959" text-anchor="end" dominant-baseline="central" font-family="'Liberation Sans','Noto Sans CJK SC',sans-serif" transform="rotate(-90 681.0 1278.0)">2月16日</text>
<text x="691.7" y="1278.0" font-size="9.5" fill="#595959" text-anchor="end" dominant-baseline="central" font-family="'Liberation Sans','Noto Sans CJK SC',sans-serif" transform="rotate(-90 691.7 1278.0)">2月25日</text>
<text x="702.4" y="1278.0" font-size="9.5" fill="#595959" text-anchor="end" dominant-baseline="central" font-family="'Liberation Sans','Noto Sans CJK SC',sans-serif" transform="rotate(-90 702.4 1278.0)">3月5日</text>
<text x="713.1" y="1278.0" font-size="9.5" fill="#595959" text-anchor="end" dominant-baseline="central" font-family="'Liberation Sans','Noto Sans CJK SC',sans-serif" transform="rotate(-90 713.1 1278.0)">3月14日</text>
<text x="723.8" y="1278.0" font-size="9.5" fill="#595959" text-anchor="end" dominant-baseline="central" font-family="'Liberation Sans','Noto Sans CJK SC',sans-serif" transform="rotate(-90 723.8 1278.0)">3月23日</text>
<text x="734.4" y="1278.0" font-size="9.5" fill="#595959" text-anchor="end" dominant-baseline="central" font-family="'Liberation Sans','Noto Sans CJK SC',sans-serif" transform="rotate(-90 734.4 1278.0)">4月1日</text>
<text x="745.1" y="1278.0" font-size="9.5" fill="#595959" text-anchor="end" dominant-baseline="central" font-family="'Liberation Sans','Noto Sans CJK SC',sans-serif" transform="rotate(-90 745.1 1278.0)">4月10日</text>
<text x="755.8" y="1278.0" font-size="9.5" fill="#595959" text-anchor="end" dominant-baseline="central" font-family="'Liberation Sans','Noto Sans CJK SC',sans-serif" transform="rotate(-90 755.8 1278.0)">4月19日</text>
<text x="766.5" y="1278.0" font-size="9.5" fill="#595959" text-anchor="end" dominant-baseline="central" font-family="'Liberation Sans','Noto Sans CJK SC',sans-serif" transform="rotate(-90 766.5 1278.0)">4月28日</text>
<text x="777.2" y="1278.0" font-size="9.5" fill="#595959" text-anchor="end" dominant-baseline="central" font-family="'Liberation Sans','Noto Sans CJK SC',sans-serif" transform="rotate(-90 777.2 1278.0)">5月8日</text>
<text x="787.9" y="1278.0" font-size="9.5" fill="#595959" text-anchor="end" dominant-baseline="central" font-family="'Liberation Sans','Noto Sans CJK SC',sans-serif" transform="rotate(-90 787.9 1278.0)">5月17日</text>
<text x="798.6" y="1278.0" font-size="9.5" fill="#595959" text-anchor="end" dominant-baseline="central" font-family="'Liberation Sans','Noto Sans CJK SC',sans-serif" transform="rotate(-90 798.6 1278.0)">5月26日</text>
<text x="809.3" y="1278.0" font-size="9.5" fill="#595959" text-anchor="end" dominant-baseline="central" font-family="'Liberation Sans','Noto Sans CJK SC',sans-serif" transform="rotate(-90 809.3 1278.0)">6月4日</text>
<text x="820.0" y="1278.0" font-size="9.5" fill="#595959" text-anchor="end" dominant-baseline="central" font-family="'Liberation Sans','Noto Sans CJK SC',sans-serif" transform="rotate(-90 820.0 1278.0)">6月13日</text>
<text x="830.7" y="1278.0" font-size="9.5" fill="#595959" text-anchor="end" dominant-baseline="central" font-family="'Liberation Sans','Noto Sans CJK SC',sans-serif" transform="rotate(-90 830.7 1278.0)">6月22日</text>
<text x="841.4" y="1278.0" font-size="9.5" fill="#595959" text-anchor="end" dominant-baseline="central" font-family="'Liberation Sans','Noto Sans CJK SC',sans-serif" transform="rotate(-90 841.4 1278.0)">7月1日</text>
<text x="852.1" y="1278.0" font-size="9.5" fill="#595959" text-anchor="end" dominant-baseline="central" font-family="'Liberation Sans','Noto Sans CJK SC',sans-serif" transform="rotate(-90 852.1 1278.0)">7月10日</text>
<text x="862.8" y="1278.0" font-size="9.5" fill="#595959" text-anchor="end" dominant-baseline="central" font-family="'Liberation Sans','Noto Sans CJK SC',sans-serif" transform="rotate(-90 862.8 1278.0)">7月19日</text>
<text x="873.5" y="1278.0" font-size="9.5" fill="#595959" text-anchor="end" dominant-baseline="central" font-family="'Liberation Sans','Noto Sans CJK SC',sans-serif" transform="rotate(-90 873.5 1278.0)">7月28日</text>
<text x="884.2" y="1278.0" font-size="9.5" fill="#595959" text-anchor="end" dominant-baseline="central" font-family="'Liberation Sans','Noto Sans CJK SC',sans-serif" transform="rotate(-90 884.2 1278.0)">8月6日</text>
<text x="894.9" y="1278.0" font-size="9.5" fill="#595959" text-anchor="end" dominant-baseline="central" font-family="'Liberation Sans','Noto Sans CJK SC',sans-serif" transform="rotate(-90 894.9 1278.0)">8月15日</text>
<text x="905.6" y="1278.0" font-size="9.5" fill="#595959" text-anchor="end" dominant-baseline="central" font-family="'Liberation Sans','Noto Sans CJK SC',sans-serif" transform="rotate(-90 905.6 1278.0)">8月24日</text>
<text x="916.3" y="1278.0" font-size="9.5" fill="#595959" text-anchor="end" dominant-baseline="central" font-family="'Liberation Sans','Noto Sans CJK SC',sans-serif" transform="rotate(-90 916.3 1278.0)">9月2日</text>
<text x="927.0" y="1278.0" font-size="9.5" fill="#595959" text-anchor="end" dominant-baseline="central" font-family="'Liberation Sans','Noto Sans CJK SC',sans-serif" transform="rotate(-90 927.0 1278.0)">9月11日</text>
<text x="937.7" y="1278.0" font-size="9.5" fill="#595959" text-anchor="end" dominant-baseline="central" font-family="'Liberation Sans','Noto Sans CJK SC',sans-serif" transform="rotate(-90 937.7 1278.0)">9月20日</text>
<text x="948.3" y="1278.0" font-size="9.5" fill="#595959" text-anchor="end" dominant-baseline="central" font-family="'Liberation Sans','Noto Sans CJK SC',sans-serif" transform="rotate(-90 948.3 1278.0)">9月29日</text>
<text x="959.0" y="1278.0" font-size="9.5" fill="#595959" text-anchor="end" dominant-baseline="central" font-family="'Liberation Sans','Noto Sans CJK SC',sans-serif" transform="rotate(-90 959.0 1278.0)">10月15日</text>
<text x="969.7" y="1278.0" font-size="9.5" fill="#595959" text-anchor="end" dominant-baseline="central" font-family="'Liberation Sans','Noto Sans CJK SC',sans-serif" transform="rotate(-90 969.7 1278.0)">10月24日</text>
<text x="980.4" y="1278.0" font-size="9.5" fill="#595959" text-anchor="end" dominant-baseline="central" font-family="'Liberation Sans','Noto Sans CJK SC',sans-serif" transform="rotate(-90 980.4 1278.0)">11月2日</text>
<text x="991.1" y="1278.0" font-size="9.5" fill="#595959" text-anchor="end" dominant-baseline="central" font-family="'Liberation Sans','Noto Sans CJK SC',sans-serif" transform="rotate(-90 991.1 1278.0)">11月11日</text>
<text x="1001.8" y="1278.0" font-size="9.5" fill="#595959" text-anchor="end" dominant-baseline="central" font-family="'Liberation Sans','Noto Sans CJK SC',sans-serif" transform="rotate(-90 1001.8 1278.0)">11月20日</text>
<text x="1012.5" y="1278.0" font-size="9.5" fill="#595959" text-anchor="end" dominant-baseline="central" font-family="'Liberation Sans','Noto Sans CJK SC',sans-serif" transform="rotate(-90 1012.5 1278.0)">11月29日</text>
<text x="1023.2" y="1278.0" font-size="9.5" fill="#595959" text-anchor="end" dominant-baseline="central" font-family="'Liberation Sans','Noto Sans CJK SC',sans-serif" transform="rotate(-90 1023.2 1278.0)">12月8日</text>
<text x="1033.9" y="1278.0" font-size="9.5" fill="#595959" text-anchor="end" dominant-baseline="central" font-family="'Liberation Sans','Noto Sans CJK SC',sans-serif" transform="rotate(-90 1033.9 1278.0)">12月17日</text>
<text x="1044.6" y="1278.0" font-size="9.5" fill="#595959" text-anchor="end" dominant-baseline="central" font-family="'Liberation Sans','Noto Sans CJK SC',sans-serif" transform="rotate(-90 1044.6 1278.0)">12月26日</text>
<polyline points="625.6,1235.3 631.2,1236.7 636.8,1238.1 642.4,1239.0 648.0,1239.5 653.6,1240.1 659.2,1240.9 664.8,1242.3 670.4,1242.9 676.1,1243.7 681.7,1242.9 687.3,1242.3 692.9,1240.9 698.5,1240.1 704.1,1239.5 709.7,1239.0 715.3,1238.1 720.9,1236.7 726.5,1236.2 732.1,1236.7 737.7,1237.3 743.3,1238.1 748.9,1239.0 754.5,1239.5 760.1,1240.1 765.7,1240.1 771.3,1239.5 776.9,1239.0 782.5,1239.0 788.2,1238.1 793.8,1239.0 799.4,1239.5 805.0,1240.1 810.6,1239.5 816.2,1239.0 821.8,1239.0 827.4,1238.1 833.0,1238.1 835.0,1239.0 839.2,1239.6 843.4,1239.5 847.6,1240.2 851.8,1240.1 856.0,1240.1 860.2,1240.1 864.4,1239.9 868.6,1240.4 872.8,1240.0 877.0,1240.9 881.2,1241.4 885.4,1241.5 891.1,1240.1 896.7,1238.1 902.3,1237.3 907.9,1236.7 913.5,1236.7 919.1,1236.7 924.7,1236.2 930.3,1235.3 935.9,1234.5 941.5,1232.5 947.1,1229.7 952.7,1226.1 958.3,1224.9 963.9,1225.5 969.5,1226.9 975.1,1228.3 980.7,1229.7 986.3,1230.6 991.9,1231.7 997.5,1232.5 1003.2,1233.9 1008.8,1235.3 1014.4,1235.3 1020.0,1235.3 1025.6,1234.5 1031.2,1233.9 1036.8,1234.5 1040.3,1234.4 1043.8,1234.5 1049.4,1235.3" fill="none" stroke="#ed7d31" stroke-width="2.4" stroke-linejoin="round" stroke-linecap="round"/>
<polyline points="625.6,1236.7 631.2,1238.1 636.8,1239.0 642.4,1239.5 648.0,1240.9 653.6,1243.7 659.2,1247.9 664.8,1250.2 670.4,1249.3 676.1,1248.5 681.7,1247.4 687.3,1246.5 692.9,1245.1 698.5,1243.7 704.1,1242.3 709.7,1242.3 715.3,1241.8 720.9,1240.9 726.5,1241.8 732.1,1242.3 737.7,1242.9 743.3,1243.7 748.9,1244.3 754.5,1243.7 760.1,1242.9 765.7,1242.3 771.3,1242.3 776.9,1241.8 782.5,1241.8 788.2,1240.9 793.8,1240.9 799.4,1240.1 805.0,1240.1 810.6,1240.9 816.2,1241.8 821.8,1242.3 827.4,1242.9 833.0,1242.3 835.0,1242.3 840.6,1240.9 846.2,1236.7 851.8,1232.5 857.4,1227.8 863.0,1224.1 868.6,1223.3 874.2,1224.9 879.8,1226.9 885.4,1228.3 891.1,1227.8 896.7,1226.1 902.3,1222.7 907.9,1219.9 913.5,1218.5 919.1,1217.7 924.7,1218.5 930.3,1219.3 935.9,1219.3 941.5,1219.3 947.1,1219.9 952.7,1221.3 958.3,1222.7 963.9,1224.1 969.5,1225.5 975.1,1227.8 980.7,1230.6 986.3,1233.4 991.9,1236.2 997.5,1238.1 1003.2,1238.4 1008.8,1238.4 1014.4,1237.3 1020.0,1235.3 1025.6,1234.5 1031.2,1233.9 1036.8,1234.5 1040.3,1235.2 1043.8,1235.3 1049.4,1236.2" fill="none" stroke="#a5a5a5" stroke-width="2.4" stroke-linejoin="round" stroke-linecap="round"/>
<polyline points="625.6,1236.2 631.2,1236.7 636.8,1238.1 642.4,1239.5 648.0,1240.1 653.6,1240.9 659.2,1242.3 664.8,1242.9 670.4,1243.7 676.1,1245.1 681.7,1243.7 687.3,1242.3 692.9,1241.5 698.5,1240.9 704.1,1241.8 709.7,1243.7 713.9,1247.9 718.1,1252.1 723.7,1256.3 729.3,1258.6 734.9,1259.1 740.5,1258.6 746.1,1257.7 751.7,1257.7 757.3,1258.6 762.9,1259.7 768.5,1261.9 774.1,1264.2 779.7,1265.3 785.4,1266.1 791.0,1266.1 796.6,1265.3 802.2,1264.2 807.8,1263.3 813.4,1261.9 819.0,1260.5 824.6,1257.7 830.2,1255.5 835.8,1254.1 835.0,1254.9 840.6,1254.9 846.2,1253.0 851.8,1251.3 857.4,1250.2 863.0,1250.2 868.6,1250.7 874.2,1250.7 879.8,1249.3 885.4,1245.1 891.1,1241.5 896.7,1240.1 902.3,1239.0 907.9,1238.1 913.5,1239.0 919.1,1240.1 924.7,1240.9 930.3,1241.8 935.9,1241.8 941.5,1241.5 947.1,1241.5 952.7,1241.8 958.3,1242.3 963.9,1242.9 969.5,1243.2 975.1,1243.7 980.7,1244.6 986.3,1245.1 991.9,1244.6 997.5,1243.7 1003.2,1243.2 1008.8,1242.9 1014.4,1242.9 1020.0,1242.3 1025.6,1242.3 1031.2,1241.8 1036.8,1242.3 1040.3,1242.5 1043.8,1242.9 1049.4,1242.9" fill="none" stroke="#ffc000" stroke-width="2.4" stroke-linejoin="round" stroke-linecap="round"/>
<polyline points="628.4,1242.3 632.6,1238.1 636.8,1235.3 642.4,1233.9 646.6,1234.2 650.8,1233.9 655.0,1233.6 659.2,1233.9 663.4,1234.3 667.6,1233.9 673.2,1229.7 676.1,1222.7 680.3,1212.9 684.5,1208.7 690.1,1208.7 695.7,1207.3 701.3,1205.9 706.9,1204.5 712.5,1203.1 716.7,1194.7 719.5,1186.8 723.7,1186.3 727.9,1190.5 732.1,1193.3 737.7,1194.1 743.3,1197.5 747.5,1204.5 751.7,1200.3 757.3,1194.7 762.9,1191.9 768.5,1187.7 774.1,1184.9 779.7,1180.7 785.4,1180.7 791.0,1182.1 796.6,1183.5 802.2,1184.9 807.8,1184.9 813.4,1182.1 819.0,1176.5 824.6,1168.1 830.2,1168.1 835.8,1163.9 835.0,1163.9 839.2,1154.9 842.7,1154.7 846.2,1154.0 851.8,1155.4 857.4,1159.6 863.0,1161.1 868.6,1162.5 874.2,1165.3 879.8,1166.7 885.4,1165.3 891.1,1164.4 896.7,1162.5 902.3,1159.6 907.9,1157.7 913.5,1156.8 919.1,1158.2 924.7,1158.8 930.3,1156.8 935.9,1155.4 941.5,1154.0 947.1,1152.1 952.7,1151.2 955.5,1152.6 958.3,1147.0 962.5,1141.4 966.7,1137.2 970.9,1137.2 973.7,1141.4 977.9,1147.0 982.1,1161.1 986.3,1166.7 990.5,1170.9 994.7,1175.1 998.9,1184.9 1003.2,1191.9 1007.4,1190.5 1011.6,1186.3 1017.2,1183.5 1021.4,1181.2 1025.6,1182.9 1031.2,1187.7 1035.4,1190.5 1039.6,1191.9 1043.8,1190.5 1049.4,1188.5" fill="none" stroke="#00b0f0" stroke-width="2.4" stroke-linejoin="round" stroke-linecap="round"/>
<polyline points="628.4,1189.1 631.2,1182.1 635.4,1182.1 639.6,1187.7 645.2,1193.3 650.8,1200.3 655.0,1200.9 659.2,1201.7 662.5,1201.7 665.8,1201.9 669.0,1201.7 671.8,1194.7 676.1,1190.5 680.3,1189.1 683.1,1191.9 687.3,1186.3 692.9,1186.3 697.1,1183.5 701.3,1175.1 704.1,1169.5 708.3,1161.1 712.5,1163.9 715.3,1168.1 720.9,1168.1 725.1,1159.6 730.7,1158.2 736.3,1162.5 739.8,1163.1 743.3,1164.4 748.9,1161.1 754.5,1159.6 760.1,1160.5 765.7,1161.1 769.2,1159.7 772.7,1158.2 778.3,1151.2 781.8,1150.9 785.4,1149.8 791.0,1147.0 796.6,1149.3 802.2,1152.6 807.8,1154.9 813.4,1155.4 819.0,1157.7 824.6,1155.4 830.2,1156.8 835.8,1159.6 835.0,1158.2 840.6,1161.1 846.2,1163.9 851.8,1168.1 857.4,1173.7 863.0,1173.7 868.6,1173.7 874.2,1176.5 879.8,1178.4 885.4,1180.1 891.1,1184.9 896.7,1189.1 902.3,1193.3 907.9,1197.5 912.1,1201.7 914.9,1205.3 919.1,1203.1 924.7,1197.5 930.3,1191.9 934.5,1193.3 938.7,1193.3 944.3,1192.4 948.5,1191.9 952.7,1186.3 956.9,1189.1 960.4,1188.5 963.9,1188.5 969.5,1189.1 973.7,1196.1 977.9,1200.3 982.1,1201.4 986.3,1201.7 990.5,1202.6 994.7,1203.1 998.9,1204.9 1003.2,1205.9 1007.4,1206.0 1011.6,1206.5 1015.8,1206.0 1020.0,1206.5 1024.2,1206.8 1028.4,1206.5 1032.6,1207.2 1036.8,1207.3 1041.0,1207.6 1045.2,1208.1 1049.4,1210.9" fill="none" stroke="#70ad47" stroke-width="2.4" stroke-linejoin="round" stroke-linecap="round"/>
<polyline points="627.0,1211.5 631.2,1215.7 636.8,1217.7 642.4,1218.5 648.0,1219.9 653.6,1219.9 659.2,1220.5 664.8,1222.1 669.0,1224.1 673.2,1226.9 678.9,1229.7 684.5,1232.5 687.3,1233.4 690.1,1228.3 694.3,1222.7 698.5,1218.5 702.7,1217.1 708.3,1215.7 712.5,1214.3 716.7,1215.7 720.9,1217.1 725.1,1219.9 729.3,1219.9 733.5,1218.5 737.7,1215.7 743.3,1212.9 748.9,1214.3 754.5,1214.9 760.1,1215.7 765.7,1217.1 771.3,1218.5 776.9,1219.9 782.5,1221.3 788.2,1224.1 793.8,1226.9 799.4,1228.3 805.0,1230.6 810.6,1230.6 816.2,1229.7 821.8,1228.3 827.4,1228.3 833.0,1229.7 835.0,1228.3 840.6,1229.7 846.2,1232.5 851.8,1233.4 857.4,1233.4 863.0,1233.9 868.6,1234.5 874.2,1234.8 879.8,1234.5 885.4,1233.4 891.1,1232.5 895.3,1229.7 899.5,1225.5 905.1,1224.1 910.7,1222.1 916.3,1219.9 921.9,1218.5 927.5,1217.1 933.1,1216.5 938.7,1217.7 944.3,1217.1 949.9,1218.5 955.5,1218.5 961.1,1217.1 966.7,1217.7 972.3,1218.5 977.9,1219.9 983.5,1219.9 987.7,1219.4 991.9,1219.9 997.5,1218.5 1003.2,1214.9 1008.8,1212.9 1013.0,1208.7 1016.6,1203.6 1019.4,1201.7 1022.8,1205.9 1028.4,1208.1 1034.0,1208.7 1039.6,1209.3 1045.2,1209.3 1049.4,1210.1" fill="none" stroke="#255e91" stroke-width="2.4" stroke-linejoin="round" stroke-linecap="round"/>
<polyline points="625.6,1208.7 631.2,1211.5 636.8,1214.3 642.4,1215.7 648.0,1213.7 653.6,1210.9 659.2,1210.1 664.8,1211.5 670.4,1211.5 676.1,1210.1 681.7,1209.3 687.3,1208.7 692.9,1207.3 698.5,1205.3 704.1,1204.5 709.7,1203.1 715.3,1201.7 719.5,1202.5 723.7,1203.6 729.3,1204.5 734.9,1205.9 740.5,1207.3 746.1,1208.1 751.7,1207.3 757.3,1206.5 762.9,1205.9 768.5,1205.3 774.1,1204.5 779.7,1203.1 785.4,1204.5 791.0,1204.5 796.6,1205.3 802.2,1206.5 807.8,1205.9 813.4,1206.5 819.0,1205.3 824.6,1205.3 830.2,1206.5 835.8,1208.1 835.0,1208.7 839.2,1208.6 843.4,1209.3 847.6,1209.8 851.8,1210.1 856.0,1209.4 860.2,1209.3 864.4,1209.5 868.6,1208.7 872.8,1209.1 877.0,1209.3 882.6,1210.1 888.2,1211.5 893.9,1212.1 898.1,1212.1 902.3,1212.9 906.5,1213.5 910.7,1213.7 914.9,1213.9 919.1,1214.3 923.3,1215.1 927.5,1214.9 931.7,1215.4 935.9,1214.9 940.1,1214.9 944.3,1214.9 948.5,1214.8 952.7,1214.3 956.9,1215.2 961.1,1215.7 965.3,1216.5 969.5,1216.5 973.7,1217.4 977.9,1217.1 982.1,1216.5 986.3,1217.1 990.5,1216.9 994.7,1217.1 998.9,1217.9 1003.2,1218.5 1008.8,1221.3 1014.4,1223.3 1020.0,1224.9 1025.6,1226.1 1031.2,1227.8 1036.8,1228.3 1040.3,1228.8 1043.8,1229.7 1049.4,1229.7" fill="none" stroke="#7030a0" stroke-width="2.4" stroke-linejoin="round" stroke-linecap="round"/>
<polyline points="627.0,1228.9 630.5,1229.4 634.0,1229.7 638.2,1229.9 642.4,1231.1 646.6,1232.3 650.8,1232.5 655.0,1231.8 659.2,1231.1 663.4,1229.5 667.6,1228.9 671.8,1228.8 676.1,1228.3 680.3,1227.4 684.5,1226.9 688.7,1226.1 692.9,1226.1 697.1,1226.1 701.3,1226.1 705.5,1225.4 709.7,1225.5 713.9,1224.9 718.1,1224.9 723.7,1224.1 729.3,1222.7 733.5,1221.3 737.7,1222.7 741.9,1225.5 746.1,1228.3 751.7,1228.3 757.3,1227.8 762.9,1226.9 767.1,1227.3 771.3,1226.9 775.5,1227.6 779.7,1227.8 783.9,1227.4 788.2,1228.3 792.4,1228.6 796.6,1228.3 800.8,1228.0 805.0,1228.9 809.2,1228.4 813.4,1228.3 819.0,1226.9 823.2,1227.0 827.4,1226.1 831.6,1225.9 835.8,1225.5 835.0,1226.1 840.6,1225.5 846.2,1224.1 851.8,1222.7 857.4,1220.5 863.0,1219.9 868.6,1219.9 874.2,1221.3 879.8,1222.7 885.4,1223.3 891.1,1222.7 896.7,1222.1 902.3,1221.3 907.9,1221.3 913.5,1220.5 919.1,1219.9 924.7,1219.9 930.3,1219.3 935.9,1219.3 941.5,1219.3 947.1,1219.3 952.7,1218.5 958.3,1217.1 963.9,1216.5 968.1,1216.3 972.3,1216.5 976.5,1216.4 980.7,1216.5 984.9,1216.4 989.1,1216.5 993.3,1216.0 997.5,1216.3 1003.2,1215.1 1008.8,1214.9 1013.0,1215.6 1017.2,1215.1 1022.8,1217.1 1028.4,1221.3 1032.6,1224.9 1036.8,1226.9 1042.4,1228.3 1045.9,1228.1 1049.4,1228.9" fill="none" stroke="#ff0000" stroke-width="2.8" stroke-linejoin="round" stroke-linecap="round"/>
<polyline points="628.4,1228.9 632.6,1228.5 636.8,1228.3 642.4,1226.9 646.6,1224.9 650.8,1223.3 656.4,1222.1 662.0,1219.9 667.6,1218.5 673.2,1217.1 678.9,1215.7 684.5,1214.3 690.1,1212.9 695.7,1210.1 699.9,1205.9 704.1,1203.6 709.7,1203.1 715.3,1201.7 720.9,1200.3 726.5,1200.3 732.1,1200.3 737.7,1198.9 743.3,1199.4 748.9,1200.3" fill="none" stroke="#000000" stroke-width="2.8" stroke-linejoin="round" stroke-linecap="round"/>
<line x1="612.0" y1="1325.0" x2="633.0" y2="1325.0" stroke="#ed7d31" stroke-width="2.4"/>
<text x="636.0" y="1325.0" font-size="9" fill="#404040" text-anchor="start" dominant-baseline="central" font-family="'Liberation Sans','Noto Serif CJK SC',serif">2018年</text>
<line x1="704.0" y1="1325.0" x2="725.0" y2="1325.0" stroke="#a5a5a5" stroke-width="2.4"/>
<text x="728.0" y="1325.0" font-size="9" fill="#404040" text-anchor="start" dominant-baseline="central" font-family="'Liberation Sans','Noto Serif CJK SC',serif">2019年</text>
<line x1="795.7" y1="1325.0" x2="816.7" y2="1325.0" stroke="#ffc000" stroke-width="2.4"/>
<text x="819.7" y="1325.0" font-size="9" fill="#404040" text-anchor="start" dominant-baseline="central" font-family="'Liberation Sans','Noto Serif CJK SC',serif">2020年</text>
<line x1="887.5" y1="1325.0" x2="908.5" y2="1325.0" stroke="#00b0f0" stroke-width="2.4"/>
<text x="911.5" y="1325.0" font-size="9" fill="#404040" text-anchor="start" dominant-baseline="central" font-family="'Liberation Sans','Noto Serif CJK SC',serif">2021年</text>
<line x1="980.4" y1="1325.0" x2="1001.4" y2="1325.0" stroke="#70ad47" stroke-width="2.4"/>
<text x="1004.4" y="1325.0" font-size="9" fill="#404040" text-anchor="start" dominant-baseline="central" font-family="'Liberation Sans','Noto Serif CJK SC',serif">2022年</text>
<line x1="612.0" y1="1341.6" x2="633.0" y2="1341.6" stroke="#255e91" stroke-width="2.4"/>
<text x="636.0" y="1341.6" font-size="9" fill="#404040" text-anchor="start" dominant-baseline="central" font-family="'Liberation Sans','Noto Serif CJK SC',serif">2023年</text>
<line x1="704.0" y1="1341.6" x2="725.0" y2="1341.6" stroke="#7030a0" stroke-width="2.4"/>
<text x="728.0" y="1341.6" font-size="9" fill="#404040" text-anchor="start" dominant-baseline="central" font-family="'Liberation Sans','Noto Serif CJK SC',serif">2024年</text>
<line x1="795.7" y1="1341.6" x2="816.7" y2="1341.6" stroke="#ff0000" stroke-width="2.4"/>
<text x="819.7" y="1341.6" font-size="9" fill="#404040" text-anchor="start" dominant-baseline="central" font-family="'Liberation Sans','Noto Serif CJK SC',serif">2025年</text>
<line x1="887.5" y1="1341.6" x2="908.5" y2="1341.6" stroke="#000" stroke-width="2.4"/>
<text x="911.5" y="1341.6" font-size="9" fill="#404040" text-anchor="start" dominant-baseline="central" font-family="'Liberation Sans','Noto Serif CJK SC',serif">2026年</text>
<text x="268.0" y="1436.0" font-size="16" fill="#262626" text-anchor="middle" dominant-baseline="central" font-family="'Liberation Sans','Noto Serif CJK SC',serif" letter-spacing="0.5">豆粕合约5-9价差</text>
<text x="63.0" y="1452.8" font-size="12.5" fill="#262626" text-anchor="end" dominant-baseline="central" font-family="'Liberation Sans','Noto Sans CJK SC',sans-serif">-40</text>
<text x="63.0" y="1476.4" font-size="12.5" fill="#262626" text-anchor="end" dominant-baseline="central" font-family="'Liberation Sans','Noto Sans CJK SC',sans-serif">-60</text>
<text x="63.0" y="1500.0" font-size="12.5" fill="#262626" text-anchor="end" dominant-baseline="central" font-family="'Liberation Sans','Noto Sans CJK SC',sans-serif">-80</text>
<text x="63.0" y="1523.6" font-size="12.5" fill="#262626" text-anchor="end" dominant-baseline="central" font-family="'Liberation Sans','Noto Sans CJK SC',sans-serif">-100</text>
<text x="63.0" y="1547.2" font-size="12.5" fill="#262626" text-anchor="end" dominant-baseline="central" font-family="'Liberation Sans','Noto Sans CJK SC',sans-serif">-120</text>
<text x="63.0" y="1570.8" font-size="12.5" fill="#262626" text-anchor="end" dominant-baseline="central" font-family="'Liberation Sans','Noto Sans CJK SC',sans-serif">-140</text>
<text x="63.0" y="1594.4" font-size="12.5" fill="#262626" text-anchor="end" dominant-baseline="central" font-family="'Liberation Sans','Noto Sans CJK SC',sans-serif">-160</text>
<text x="63.0" y="1618.0" font-size="12.5" fill="#262626" text-anchor="end" dominant-baseline="central" font-family="'Liberation Sans','Noto Sans CJK SC',sans-serif">-180</text>
<text x="36.0" y="1532.0" font-size="11" fill="#404040" text-anchor="middle" dominant-baseline="central" font-family="'Noto Serif CJK SC',serif" letter-spacing="0.5" transform="rotate(-90 36.0 1532.0)">元 / 吨</text>
<line x1="77.0" y1="1452.5" x2="492.0" y2="1452.5" stroke="#d9d9d9" stroke-width="1"/>
<line x1="77.0" y1="1452.5" x2="77.0" y2="1456.5" stroke="#d9d9d9" stroke-width="1"/>
<line x1="197.2" y1="1452.5" x2="197.2" y2="1456.5" stroke="#d9d9d9" stroke-width="1"/>
<line x1="306.6" y1="1452.5" x2="306.6" y2="1456.5" stroke="#d9d9d9" stroke-width="1"/>
<line x1="427.0" y1="1452.5" x2="427.0" y2="1456.5" stroke="#d9d9d9" stroke-width="1"/>
<text x="77.7" y="1633.0" font-size="11" fill="#262626" text-anchor="middle" dominant-baseline="central" font-family="'Liberation Sans','Noto Sans CJK SC',sans-serif">2026年1月6日</text>
<text x="198.3" y="1633.0" font-size="11" fill="#262626" text-anchor="middle" dominant-baseline="central" font-family="'Liberation Sans','Noto Sans CJK SC',sans-serif">2026年2月6日</text>
<text x="306.0" y="1633.0" font-size="11" fill="#262626" text-anchor="middle" dominant-baseline="central" font-family="'Liberation Sans','Noto Sans CJK SC',sans-serif">2026年3月6日</text>
<text x="426.5" y="1633.0" font-size="11" fill="#262626" text-anchor="middle" dominant-baseline="central" font-family="'Liberation Sans','Noto Sans CJK SC',sans-serif">2026年4月6日</text>
<polyline points="77.7,1517.3 82.5,1496.6 87.4,1512.4 92.9,1510.4 106.6,1517.3 110.1,1520.7 113.5,1527.6 116.9,1544.8 123.8,1546.8 130.7,1548.2 137.6,1541.3 141.0,1517.3 144.5,1527.6 158.2,1522.1 161.7,1512.4 165.1,1524.1 168.5,1506.9 172.0,1520.7 182.3,1524.1 185.7,1534.5 189.2,1542.7 196.1,1551.7 202.9,1553.0 209.8,1556.5 213.2,1551.7 220.1,1534.5 223.6,1531.0 227.0,1529.6 271.7,1534.5 275.2,1529.6 278.6,1542.7 282.0,1542.7 292.4,1553.0 302.7,1537.9 306.1,1510.4 313.0,1493.2 319.9,1467.0 323.3,1460.9 324.7,1452.0" fill="none" stroke="#000" stroke-width="3" stroke-linejoin="round" stroke-linecap="round"/>
<polyline points="371.5,1452.0 374.9,1458.8 378.3,1476.0 381.8,1493.2 385.2,1496.6 390.7,1506.9 395.5,1496.6 402.4,1482.9 405.9,1493.2 412.7,1513.8 416.2,1531.0 423.1,1537.9 429.9,1544.8 433.4,1555.1 436.8,1551.7 440.3,1563.4 450.6,1558.5 457.5,1562.0 464.3,1565.4 467.8,1570.2 471.2,1563.4 481.5,1570.2 485.0,1572.3 488.4,1592.9 491.8,1601.9" fill="none" stroke="#000" stroke-width="3" stroke-linejoin="round" stroke-linecap="round"/>
<text x="815.0" y="1443.0" font-size="16" fill="#262626" text-anchor="middle" dominant-baseline="central" font-family="'Liberation Sans','Noto Serif CJK SC',serif" letter-spacing="0.5">豆菜粕05合约价差</text>
<text x="617.0" y="1460.0" font-size="12.5" fill="#262626" text-anchor="end" dominant-baseline="central" font-family="'Liberation Sans','Noto Sans CJK SC',sans-serif">650</text>
<text x="617.0" y="1477.6" font-size="12.5" fill="#262626" text-anchor="end" dominant-baseline="central" font-family="'Liberation Sans','Noto Sans CJK SC',sans-serif">600</text>
<text x="617.0" y="1495.1" font-size="12.5" fill="#262626" text-anchor="end" dominant-baseline="central" font-family="'Liberation Sans','Noto Sans CJK SC',sans-serif">550</text>
<text x="617.0" y="1512.7" font-size="12.5" fill="#262626" text-anchor="end" dominant-baseline="central" font-family="'Liberation Sans','Noto Sans CJK SC',sans-serif">500</text>
<text x="617.0" y="1530.3" font-size="12.5" fill="#262626" text-anchor="end" dominant-baseline="central" font-family="'Liberation Sans','Noto Sans CJK SC',sans-serif">450</text>
<text x="617.0" y="1547.8" font-size="12.5" fill="#262626" text-anchor="end" dominant-baseline="central" font-family="'Liberation Sans','Noto Sans CJK SC',sans-serif">400</text>
<text x="617.0" y="1565.4" font-size="12.5" fill="#262626" text-anchor="end" dominant-baseline="central" font-family="'Liberation Sans','Noto Sans CJK SC',sans-serif">350</text>
<text x="589.5" y="1512.4" font-size="11" fill="#404040" text-anchor="middle" dominant-baseline="central" font-family="'Noto Serif CJK SC',serif" letter-spacing="0.5" transform="rotate(-90 589.5 1512.4)">元 / 吨</text>
<line x1="629.4" y1="1565.4" x2="1027.0" y2="1565.4" stroke="#d9d9d9" stroke-width="1"/>
<line x1="629.4" y1="1565.4" x2="629.4" y2="1570.0" stroke="#d9d9d9" stroke-width="1"/>
<line x1="647.5" y1="1565.4" x2="647.5" y2="1570.0" stroke="#d9d9d9" stroke-width="1"/>
<line x1="665.5" y1="1565.4" x2="665.5" y2="1570.0" stroke="#d9d9d9" stroke-width="1"/>
<line x1="683.6" y1="1565.4" x2="683.6" y2="1570.0" stroke="#d9d9d9" stroke-width="1"/>
<line x1="701.7" y1="1565.4" x2="701.7" y2="1570.0" stroke="#d9d9d9" stroke-width="1"/>
<line x1="719.8" y1="1565.4" x2="719.8" y2="1570.0" stroke="#d9d9d9" stroke-width="1"/>
<line x1="737.8" y1="1565.4" x2="737.8" y2="1570.0" stroke="#d9d9d9" stroke-width="1"/>
<line x1="755.9" y1="1565.4" x2="755.9" y2="1570.0" stroke="#d9d9d9" stroke-width="1"/>
<line x1="774.0" y1="1565.4" x2="774.0" y2="1570.0" stroke="#d9d9d9" stroke-width="1"/>
<line x1="792.1" y1="1565.4" x2="792.1" y2="1570.0" stroke="#d9d9d9" stroke-width="1"/>
<line x1="810.1" y1="1565.4" x2="810.1" y2="1570.0" stroke="#d9d9d9" stroke-width="1"/>
<line x1="828.2" y1="1565.4" x2="828.2" y2="1570.0" stroke="#d9d9d9" stroke-width="1"/>
<line x1="846.3" y1="1565.4" x2="846.3" y2="1570.0" stroke="#d9d9d9" stroke-width="1"/>
<line x1="864.3" y1="1565.4" x2="864.3" y2="1570.0" stroke="#d9d9d9" stroke-width="1"/>
<line x1="882.4" y1="1565.4" x2="882.4" y2="1570.0" stroke="#d9d9d9" stroke-width="1"/>
<line x1="900.5" y1="1565.4" x2="900.5" y2="1570.0" stroke="#d9d9d9" stroke-width="1"/>
<line x1="918.6" y1="1565.4" x2="918.6" y2="1570.0" stroke="#d9d9d9" stroke-width="1"/>
<line x1="936.6" y1="1565.4" x2="936.6" y2="1570.0" stroke="#d9d9d9" stroke-width="1"/>
<line x1="954.7" y1="1565.4" x2="954.7" y2="1570.0" stroke="#d9d9d9" stroke-width="1"/>
<line x1="972.8" y1="1565.4" x2="972.8" y2="1570.0" stroke="#d9d9d9" stroke-width="1"/>
<line x1="990.9" y1="1565.4" x2="990.9" y2="1570.0" stroke="#d9d9d9" stroke-width="1"/>
<line x1="1008.9" y1="1565.4" x2="1008.9" y2="1570.0" stroke="#d9d9d9" stroke-width="1"/>
<line x1="1027.0" y1="1565.4" x2="1027.0" y2="1570.0" stroke="#d9d9d9" stroke-width="1"/>
<text x="637.7" y="1569.0" font-size="11" fill="#262626" text-anchor="end" dominant-baseline="central" font-family="'Liberation Sans','Noto Sans CJK SC',sans-serif" transform="rotate(-90 637.7 1569.0)">2026年3月12日</text>
<text x="656.6" y="1569.0" font-size="11" fill="#262626" text-anchor="end" dominant-baseline="central" font-family="'Liberation Sans','Noto Sans CJK SC',sans-serif" transform="rotate(-90 656.6 1569.0)">2026年3月14日</text>
<text x="675.4" y="1569.0" font-size="11" fill="#262626" text-anchor="end" dominant-baseline="central" font-family="'Liberation Sans','Noto Sans CJK SC',sans-serif" transform="rotate(-90 675.4 1569.0)">2026年3月16日</text>
<text x="694.2" y="1569.0" font-size="11" fill="#262626" text-anchor="end" dominant-baseline="central" font-family="'Liberation Sans','Noto Sans CJK SC',sans-serif" transform="rotate(-90 694.2 1569.0)">2026年3月18日</text>
<text x="713.1" y="1569.0" font-size="11" fill="#262626" text-anchor="end" dominant-baseline="central" font-family="'Liberation Sans','Noto Sans CJK SC',sans-serif" transform="rotate(-90 713.1 1569.0)">2026年3月20日</text>
<text x="732.0" y="1569.0" font-size="11" fill="#262626" text-anchor="end" dominant-baseline="central" font-family="'Liberation Sans','Noto Sans CJK SC',sans-serif" transform="rotate(-90 732.0 1569.0)">2026年3月22日</text>
<text x="750.8" y="1569.0" font-size="11" fill="#262626" text-anchor="end" dominant-baseline="central" font-family="'Liberation Sans','Noto Sans CJK SC',sans-serif" transform="rotate(-90 750.8 1569.0)">2026年3月24日</text>
<text x="769.7" y="1569.0" font-size="11" fill="#262626" text-anchor="end" dominant-baseline="central" font-family="'Liberation Sans','Noto Sans CJK SC',sans-serif" transform="rotate(-90 769.7 1569.0)">2026年3月26日</text>
<text x="788.5" y="1569.0" font-size="11" fill="#262626" text-anchor="end" dominant-baseline="central" font-family="'Liberation Sans','Noto Sans CJK SC',sans-serif" transform="rotate(-90 788.5 1569.0)">2026年3月28日</text>
<text x="807.4" y="1569.0" font-size="11" fill="#262626" text-anchor="end" dominant-baseline="central" font-family="'Liberation Sans','Noto Sans CJK SC',sans-serif" transform="rotate(-90 807.4 1569.0)">2026年3月30日</text>
<text x="826.2" y="1569.0" font-size="11" fill="#262626" text-anchor="end" dominant-baseline="central" font-family="'Liberation Sans','Noto Sans CJK SC',sans-serif" transform="rotate(-90 826.2 1569.0)">2026年4月1日</text>
<text x="845.1" y="1569.0" font-size="11" fill="#262626" text-anchor="end" dominant-baseline="central" font-family="'Liberation Sans','Noto Sans CJK SC',sans-serif" transform="rotate(-90 845.1 1569.0)">2026年4月3日</text>
<text x="863.9" y="1569.0" font-size="11" fill="#262626" text-anchor="end" dominant-baseline="central" font-family="'Liberation Sans','Noto Sans CJK SC',sans-serif" transform="rotate(-90 863.9 1569.0)">2026年4月5日</text>
<text x="882.8" y="1569.0" font-size="11" fill="#262626" text-anchor="end" dominant-baseline="central" font-family="'Liberation Sans','Noto Sans CJK SC',sans-serif" transform="rotate(-90 882.8 1569.0)">2026年4月7日</text>
<text x="901.6" y="1569.0" font-size="11" fill="#262626" text-anchor="end" dominant-baseline="central" font-family="'Liberation Sans','Noto Sans CJK SC',sans-serif" transform="rotate(-90 901.6 1569.0)">2026年4月9日</text>
<text x="920.5" y="1569.0" font-size="11" fill="#262626" text-anchor="end" dominant-baseline="central" font-family="'Liberation Sans','Noto Sans CJK SC',sans-serif" transform="rotate(-90 920.5 1569.0)">2026年4月11日</text>
<text x="939.3" y="1569.0" font-size="11" fill="#262626" text-anchor="end" dominant-baseline="central" font-family="'Liberation Sans','Noto Sans CJK SC',sans-serif" transform="rotate(-90 939.3 1569.0)">2026年4月13日</text>
<text x="958.2" y="1569.0" font-size="11" fill="#262626" text-anchor="end" dominant-baseline="central" font-family="'Liberation Sans','Noto Sans CJK SC',sans-serif" transform="rotate(-90 958.2 1569.0)">2026年4月15日</text>
<text x="977.0" y="1569.0" font-size="11" fill="#262626" text-anchor="end" dominant-baseline="central" font-family="'Liberation Sans','Noto Sans CJK SC',sans-serif" transform="rotate(-90 977.0 1569.0)">2026年4月17日</text>
<text x="995.9" y="1569.0" font-size="11" fill="#262626" text-anchor="end" dominant-baseline="central" font-family="'Liberation Sans','Noto Sans CJK SC',sans-serif" transform="rotate(-90 995.9 1569.0)">2026年4月19日</text>
<text x="1014.7" y="1569.0" font-size="11" fill="#262626" text-anchor="end" dominant-baseline="central" font-family="'Liberation Sans','Noto Sans CJK SC',sans-serif" transform="rotate(-90 1014.7 1569.0)">2026年4月21日</text>
<polyline points="636.3,1489.7 646.6,1498.7 656.9,1491.8 667.3,1484.9 675.5,1480.1 684.5,1481.5 694.8,1478.1 705.1,1475.3 713.4,1474.6 722.3,1474.6 732.6,1473.9 739.5,1473.9 746.4,1478.1 758.8,1479.4 767.0,1473.9 777.3,1469.1 787.6,1469.8 798.0,1470.5 808.3,1471.2 815.2,1471.9 825.5,1472.5 832.4,1471.9 842.7,1467.0 853.0,1469.1 863.3,1471.2 873.6,1473.9 880.5,1475.3 890.8,1475.3 901.1,1474.6 911.5,1476.0 921.8,1479.4 932.1,1482.9 939.0,1486.3 949.3,1487.0 956.2,1485.6 966.5,1476.0 976.8,1476.7 987.1,1478.1 997.5,1479.4 1006.4,1480.1 1014.6,1487.7 1023.6,1483.6" fill="none" stroke="#000" stroke-width="2.2" stroke-linejoin="round" stroke-linecap="round"/>
<rect x="31.0" y="1724.0" width="483.5" height="301.0" fill="#fff" stroke="#e2e2e2" stroke-width="1"/>
<text x="271.7" y="1744.0" font-size="14" fill="#262626" text-anchor="middle" dominant-baseline="central" font-family="'Liberation Sans','Noto Serif CJK SC',serif" letter-spacing="1">大豆港口库存</text>
<text x="80.5" y="1765.5" font-size="10.5" fill="#404040" text-anchor="end" dominant-baseline="central" font-family="'Liberation Sans','Noto Sans CJK SC',sans-serif">1200</text>
<text x="80.5" y="1796.7" font-size="10.5" fill="#404040" text-anchor="end" dominant-baseline="central" font-family="'Liberation Sans','Noto Sans CJK SC',sans-serif">1000</text>
<text x="80.5" y="1827.9" font-size="10.5" fill="#404040" text-anchor="end" dominant-baseline="central" font-family="'Liberation Sans','Noto Sans CJK SC',sans-serif">800</text>
<text x="80.5" y="1859.0" font-size="10.5" fill="#404040" text-anchor="end" dominant-baseline="central" font-family="'Liberation Sans','Noto Sans CJK SC',sans-serif">600</text>
<text x="80.5" y="1890.2" font-size="10.5" fill="#404040" text-anchor="end" dominant-baseline="central" font-family="'Liberation Sans','Noto Sans CJK SC',sans-serif">400</text>
<text x="80.5" y="1921.4" font-size="10.5" fill="#404040" text-anchor="end" dominant-baseline="central" font-family="'Liberation Sans','Noto Sans CJK SC',sans-serif">200</text>
<text x="80.5" y="1952.6" font-size="10.5" fill="#404040" text-anchor="end" dominant-baseline="central" font-family="'Liberation Sans','Noto Sans CJK SC',sans-serif">0</text>
<text x="55.0" y="1853.0" font-size="10" fill="#404040" text-anchor="middle" dominant-baseline="central" font-family="'Noto Serif CJK SC',serif" letter-spacing="0.5" transform="rotate(-90 55.0 1853.0)">万吨</text>
<line x1="88.0" y1="1953.4" x2="507.0" y2="1953.4" stroke="#d9d9d9" stroke-width="1"/>
<text x="88.4" y="1958.0" font-size="9" fill="#595959" text-anchor="end" dominant-baseline="central" font-family="'Liberation Sans','Noto Sans CJK SC',sans-serif" transform="rotate(-90 88.4 1958.0)">1月2日</text>
<text x="99.7" y="1958.0" font-size="9" fill="#595959" text-anchor="end" dominant-baseline="central" font-family="'Liberation Sans','Noto Sans CJK SC',sans-serif" transform="rotate(-90 99.7 1958.0)">1月10日</text>
<text x="111.0" y="1958.0" font-size="9" fill="#595959" text-anchor="end" dominant-baseline="central" font-family="'Liberation Sans','Noto Sans CJK SC',sans-serif" transform="rotate(-90 111.0 1958.0)">1月19日</text>
<text x="122.3" y="1958.0" font-size="9" fill="#595959" text-anchor="end" dominant-baseline="central" font-family="'Liberation Sans','Noto Sans CJK SC',sans-serif" transform="rotate(-90 122.3 1958.0)">1月27日</text>
<text x="133.5" y="1958.0" font-size="9" fill="#595959" text-anchor="end" dominant-baseline="central" font-family="'Liberation Sans','Noto Sans CJK SC',sans-serif" transform="rotate(-90 133.5 1958.0)">2月4日</text>
<text x="144.8" y="1958.0" font-size="9" fill="#595959" text-anchor="end" dominant-baseline="central" font-family="'Liberation Sans','Noto Sans CJK SC',sans-serif" transform="rotate(-90 144.8 1958.0)">2月13日</text>
<text x="156.1" y="1958.0" font-size="9" fill="#595959" text-anchor="end" dominant-baseline="central" font-family="'Liberation Sans','Noto Sans CJK SC',sans-serif" transform="rotate(-90 156.1 1958.0)">2月21日</text>
<text x="167.4" y="1958.0" font-size="9" fill="#595959" text-anchor="end" dominant-baseline="central" font-family="'Liberation Sans','Noto Sans CJK SC',sans-serif" transform="rotate(-90 167.4 1958.0)">3月1日</text>
<text x="178.7" y="1958.0" font-size="9" fill="#595959" text-anchor="end" dominant-baseline="central" font-family="'Liberation Sans','Noto Sans CJK SC',sans-serif" transform="rotate(-90 178.7 1958.0)">3月10日</text>
<text x="190.0" y="1958.0" font-size="9" fill="#595959" text-anchor="end" dominant-baseline="central" font-family="'Liberation Sans','Noto Sans CJK SC',sans-serif" transform="rotate(-90 190.0 1958.0)">3月18日</text>
<text x="201.3" y="1958.0" font-size="9" fill="#595959" text-anchor="end" dominant-baseline="central" font-family="'Liberation Sans','Noto Sans CJK SC',sans-serif" transform="rotate(-90 201.3 1958.0)">3月27日</text>
<text x="212.6" y="1958.0" font-size="9" fill="#595959" text-anchor="end" dominant-baseline="central" font-family="'Liberation Sans','Noto Sans CJK SC',sans-serif" transform="rotate(-90 212.6 1958.0)">4月4日</text>
<text x="223.8" y="1958.0" font-size="9" fill="#595959" text-anchor="end" dominant-baseline="central" font-family="'Liberation Sans','Noto Sans CJK SC',sans-serif" transform="rotate(-90 223.8 1958.0)">4月12日</text>
<text x="235.1" y="1958.0" font-size="9" fill="#595959" text-anchor="end" dominant-baseline="central" font-family="'Liberation Sans','Noto Sans CJK SC',sans-serif" transform="rotate(-90 235.1 1958.0)">4月22日</text>
<text x="246.4" y="1958.0" font-size="9" fill="#595959" text-anchor="end" dominant-baseline="central" font-family="'Liberation Sans','Noto Sans CJK SC',sans-serif" transform="rotate(-90 246.4 1958.0)">5月3日</text>
<text x="257.7" y="1958.0" font-size="9" fill="#595959" text-anchor="end" dominant-baseline="central" font-family="'Liberation Sans','Noto Sans CJK SC',sans-serif" transform="rotate(-90 257.7 1958.0)">5月13日</text>
<text x="269.0" y="1958.0" font-size="9" fill="#595959" text-anchor="end" dominant-baseline="central" font-family="'Liberation Sans','Noto Sans CJK SC',sans-serif" transform="rotate(-90 269.0 1958.0)">5月24日</text>
<text x="280.3" y="1958.0" font-size="9" fill="#595959" text-anchor="end" dominant-baseline="central" font-family="'Liberation Sans','Noto Sans CJK SC',sans-serif" transform="rotate(-90 280.3 1958.0)">6月3日</text>
<text x="291.6" y="1958.0" font-size="9" fill="#595959" text-anchor="end" dominant-baseline="central" font-family="'Liberation Sans','Noto Sans CJK SC',sans-serif" transform="rotate(-90 291.6 1958.0)">6月14日</text>
<text x="302.8" y="1958.0" font-size="9" fill="#595959" text-anchor="end" dominant-baseline="central" font-family="'Liberation Sans','Noto Sans CJK SC',sans-serif" transform="rotate(-90 302.8 1958.0)">6月24日</text>
<text x="314.1" y="1958.0" font-size="9" fill="#595959" text-anchor="end" dominant-baseline="central" font-family="'Liberation Sans','Noto Sans CJK SC',sans-serif" transform="rotate(-90 314.1 1958.0)">7月5日</text>
<text x="325.4" y="1958.0" font-size="9" fill="#595959" text-anchor="end" dominant-baseline="central" font-family="'Liberation Sans','Noto Sans CJK SC',sans-serif" transform="rotate(-90 325.4 1958.0)">7月15日</text>
<text x="336.7" y="1958.0" font-size="9" fill="#595959" text-anchor="end" dominant-baseline="central" font-family="'Liberation Sans','Noto Sans CJK SC',sans-serif" transform="rotate(-90 336.7 1958.0)">7月26日</text>
<text x="348.0" y="1958.0" font-size="9" fill="#595959" text-anchor="end" dominant-baseline="central" font-family="'Liberation Sans','Noto Sans CJK SC',sans-serif" transform="rotate(-90 348.0 1958.0)">8月5日</text>
<text x="359.3" y="1958.0" font-size="9" fill="#595959" text-anchor="end" dominant-baseline="central" font-family="'Liberation Sans','Noto Sans CJK SC',sans-serif" transform="rotate(-90 359.3 1958.0)">8月16日</text>
<text x="370.6" y="1958.0" font-size="9" fill="#595959" text-anchor="end" dominant-baseline="central" font-family="'Liberation Sans','Noto Sans CJK SC',sans-serif" transform="rotate(-90 370.6 1958.0)">8月26日</text>
<text x="381.8" y="1958.0" font-size="9" fill="#595959" text-anchor="end" dominant-baseline="central" font-family="'Liberation Sans','Noto Sans CJK SC',sans-serif" transform="rotate(-90 381.8 1958.0)">9月6日</text>
<text x="393.1" y="1958.0" font-size="9" fill="#595959" text-anchor="end" dominant-baseline="central" font-family="'Liberation Sans','Noto Sans CJK SC',sans-serif" transform="rotate(-90 393.1 1958.0)">9月16日</text>
<text x="404.4" y="1958.0" font-size="9" fill="#595959" text-anchor="end" dominant-baseline="central" font-family="'Liberation Sans','Noto Sans CJK SC',sans-serif" transform="rotate(-90 404.4 1958.0)">9月27日</text>
<text x="415.7" y="1958.0" font-size="9" fill="#595959" text-anchor="end" dominant-baseline="central" font-family="'Liberation Sans','Noto Sans CJK SC',sans-serif" transform="rotate(-90 415.7 1958.0)">10月7日</text>
<text x="427.0" y="1958.0" font-size="9" fill="#595959" text-anchor="end" dominant-baseline="central" font-family="'Liberation Sans','Noto Sans CJK SC',sans-serif" transform="rotate(-90 427.0 1958.0)">10月18日</text>
<text x="438.3" y="1958.0" font-size="9" fill="#595959" text-anchor="end" dominant-baseline="central" font-family="'Liberation Sans','Noto Sans CJK SC',sans-serif" transform="rotate(-90 438.3 1958.0)">10月28日</text>
<text x="449.6" y="1958.0" font-size="9" fill="#595959" text-anchor="end" dominant-baseline="central" font-family="'Liberation Sans','Noto Sans CJK SC',sans-serif" transform="rotate(-90 449.6 1958.0)">11月8日</text>
<text x="460.9" y="1958.0" font-size="9" fill="#595959" text-anchor="end" dominant-baseline="central" font-family="'Liberation Sans','Noto Sans CJK SC',sans-serif" transform="rotate(-90 460.9 1958.0)">11月18日</text>
<text x="472.1" y="1958.0" font-size="9" fill="#595959" text-anchor="end" dominant-baseline="central" font-family="'Liberation Sans','Noto Sans CJK SC',sans-serif" transform="rotate(-90 472.1 1958.0)">11月29日</text>
<text x="483.4" y="1958.0" font-size="9" fill="#595959" text-anchor="end" dominant-baseline="central" font-family="'Liberation Sans','Noto Sans CJK SC',sans-serif" transform="rotate(-90 483.4 1958.0)">12月9日</text>
<text x="494.7" y="1958.0" font-size="9" fill="#595959" text-anchor="end" dominant-baseline="central" font-family="'Liberation Sans','Noto Sans CJK SC',sans-serif" transform="rotate(-90 494.7 1958.0)">12月20日</text>
<text x="506.0" y="1958.0" font-size="9" fill="#595959" text-anchor="end" dominant-baseline="central" font-family="'Liberation Sans','Noto Sans CJK SC',sans-serif" transform="rotate(-90 506.0 1958.0)">12月30日</text>
<polyline points="94.6,1891.7 104.7,1882.8 113.6,1890.3 122.6,1896.8 131.8,1889.5 141.7,1881.9 151.5,1894.5 161.3,1900.7 169.7,1902.9 178.1,1907.1 187.9,1914.1 197.7,1921.1 206.1,1909.9 215.9,1905.2 224.3,1898.7 232.7,1886.1 241.1,1874.3 249.6,1872.7 258.0,1867.9 266.4,1859.5 274.8,1853.9 281.8,1852.5 287.4,1838.5 294.4,1835.7 294.2,1836.2 301.2,1845.5 309.6,1846.0 316.6,1844.9 323.6,1849.7 332.0,1846.9 339.0,1844.9 346.1,1849.1 354.5,1849.1 361.5,1848.3 368.5,1847.7 376.3,1843.2 382.5,1860.9 389.5,1862.3 397.9,1870.7 406.3,1877.1 413.3,1876.3 420.3,1887.5 428.7,1896.5 436.3,1904.9 443.6,1896.8 451.1,1897.9 458.2,1887.0 466.0,1883.3 473.6,1884.2 482.0,1863.7 489.0,1872.1 496.0,1877.7 504.4,1876.0" fill="none" stroke="#5b9bd5" stroke-width="2" stroke-linejoin="round" stroke-linecap="round"/>
<polyline points="91.8,1872.9 102.4,1876.3 112.2,1875.5 121.5,1874.9 130.4,1855.3 140.3,1870.7 150.1,1879.1 159.0,1885.6 168.3,1886.1 176.7,1889.5 186.5,1886.7 196.3,1890.3 204.7,1894.5 214.0,1898.7 223.5,1901.5 231.3,1895.4 239.2,1888.4 247.6,1891.2 255.2,1883.3 263.6,1876.3 270.6,1872.1 276.2,1863.1 284.6,1859.8 291.6,1862.3 290.0,1860.9 299.8,1871.3 306.8,1853.3 313.8,1837.1 320.8,1835.1 329.2,1840.7 337.1,1856.1 344.6,1848.6 351.7,1846.3 359.5,1852.5 367.1,1847.7 374.9,1850.2 382.5,1862.3 389.5,1864.3 396.5,1871.5 404.9,1874.3 411.9,1875.7 418.9,1866.8 427.3,1877.7 434.3,1875.7 441.3,1873.5 449.7,1866.5 457.6,1860.1 465.2,1856.7 472.2,1855.3 480.0,1849.7 487.6,1853.3 494.6,1851.1 503.0,1843.5" fill="none" stroke="#ed7d31" stroke-width="2" stroke-linejoin="round" stroke-linecap="round"/>
<polyline points="90.6,1841.3 99.6,1839.3 108.0,1847.4 116.4,1856.7 121.5,1860.9 129.0,1871.3 137.5,1863.7 147.3,1854.7 155.7,1855.3 165.5,1865.1 175.3,1876.3 183.7,1887.5 193.5,1889.8 203.3,1886.1 213.1,1877.1 222.9,1881.1 234.1,1875.5 242.5,1867.3 252.4,1865.1 260.8,1863.1 267.8,1858.6 276.2,1853.0 281.8,1853.3 290.2,1842.7 290.0,1841.8 299.8,1844.6 306.8,1841.8 313.8,1842.7 322.2,1839.9 330.6,1833.7 340.4,1825.9 348.9,1816.9 357.3,1816.9 365.7,1812.4 374.1,1815.5 381.1,1820.0 388.1,1821.7 395.1,1822.5 402.1,1832.0 409.9,1830.6 417.5,1828.7 424.5,1837.1 432.9,1845.5 439.9,1847.7 447.5,1845.5 453.9,1846.3 462.4,1851.4 469.4,1851.6 477.2,1842.7 484.8,1831.5 491.8,1830.9 500.2,1832.0" fill="none" stroke="#ffc000" stroke-width="2" stroke-linejoin="round" stroke-linecap="round"/>
<polyline points="89.2,1832.9 98.8,1832.9 108.0,1845.5 117.3,1858.1 126.2,1857.2 136.1,1836.2 145.9,1847.4 154.3,1862.3 163.5,1880.5 172.5,1889.8 182.3,1901.5 192.1,1912.7 201.4,1913.3 211.2,1906.3 220.1,1889.5 228.5,1877.7 236.9,1870.7 243.9,1865.7 251.0,1855.3 258.0,1846.9 265.0,1847.7 273.4,1842.7 280.4,1836.8 288.8,1837.1 295.8,1831.5 290.0,1835.1 295.6,1830.1 302.6,1826.4 310.2,1829.5 318.0,1824.5 325.0,1827.8 333.4,1825.9 340.4,1823.9 347.5,1813.2 355.9,1813.8 362.9,1813.5 371.3,1811.0 378.3,1802.0 385.3,1802.0 393.1,1811.8 400.7,1806.8 407.7,1801.2 415.6,1795.6 423.1,1798.4 430.1,1800.6 437.1,1802.6 445.5,1791.7 452.5,1797.8 459.6,1805.4 468.0,1803.4 475.0,1806.8 483.4,1809.9 490.4,1817.5 498.8,1824.5" fill="none" stroke="#ff0000" stroke-width="2.2" stroke-linejoin="round" stroke-linecap="round"/>
<polyline points="87.0,1823.9 96.8,1827.3 106.6,1832.3 115.9,1839.9 125.4,1847.7 134.6,1860.9 143.9,1874.3 152.9,1865.1 162.7,1855.3 172.5,1863.7 180.9,1867.9 190.1,1872.9 199.9,1877.7 208.9,1870.1 218.7,1869.3" fill="none" stroke="#1a1a1a" stroke-width="2.2" stroke-linejoin="round" stroke-linecap="round"/>
<line x1="123.7" y1="2010.5" x2="144.7" y2="2010.5" stroke="#5b9bd5" stroke-width="2"/>
<text x="147.7" y="2010.5" font-size="8.5" fill="#404040" text-anchor="start" dominant-baseline="central" font-family="'Liberation Sans','Noto Serif CJK SC',serif">2022年</text>
<line x1="186.5" y1="2010.5" x2="207.5" y2="2010.5" stroke="#ed7d31" stroke-width="2"/>
<text x="210.5" y="2010.5" font-size="8.5" fill="#404040" text-anchor="start" dominant-baseline="central" font-family="'Liberation Sans','Noto Serif CJK SC',serif">2023年</text>
<line x1="249.3" y1="2010.5" x2="270.3" y2="2010.5" stroke="#ffc000" stroke-width="2"/>
<text x="273.3" y="2010.5" font-size="8.5" fill="#404040" text-anchor="start" dominant-baseline="central" font-family="'Liberation Sans','Noto Serif CJK SC',serif">2024年</text>
<line x1="311.5" y1="2010.5" x2="332.5" y2="2010.5" stroke="#ff0000" stroke-width="2"/>
<text x="335.5" y="2010.5" font-size="8.5" fill="#404040" text-anchor="start" dominant-baseline="central" font-family="'Liberation Sans','Noto Serif CJK SC',serif">2025年</text>
<line x1="374.3" y1="2010.5" x2="395.3" y2="2010.5" stroke="#000" stroke-width="2"/>
<text x="398.3" y="2010.5" font-size="8.5" fill="#404040" text-anchor="start" dominant-baseline="central" font-family="'Liberation Sans','Noto Serif CJK SC',serif">2026年</text>
<rect x="577.8" y="1724.0" width="478.2" height="299.0" fill="#fff" stroke="#e2e2e2" stroke-width="1"/>
<text x="815.0" y="1744.0" font-size="14" fill="#262626" text-anchor="middle" dominant-baseline="central" font-family="'Liberation Sans','Noto Serif CJK SC',serif" letter-spacing="1">压榨厂豆粕库存</text>
<text x="621.0" y="1765.5" font-size="10.5" fill="#404040" text-anchor="end" dominant-baseline="central" font-family="'Liberation Sans','Noto Sans CJK SC',sans-serif">160</text>
<text x="621.0" y="1788.0" font-size="10.5" fill="#404040" text-anchor="end" dominant-baseline="central" font-family="'Liberation Sans','Noto Sans CJK SC',sans-serif">140</text>
<text x="621.0" y="1810.6" font-size="10.5" fill="#404040" text-anchor="end" dominant-baseline="central" font-family="'Liberation Sans','Noto Sans CJK SC',sans-serif">120</text>
<text x="621.0" y="1833.1" font-size="10.5" fill="#404040" text-anchor="end" dominant-baseline="central" font-family="'Liberation Sans','Noto Sans CJK SC',sans-serif">100</text>
<text x="621.0" y="1855.7" font-size="10.5" fill="#404040" text-anchor="end" dominant-baseline="central" font-family="'Liberation Sans','Noto Sans CJK SC',sans-serif">80</text>
<text x="621.0" y="1878.2" font-size="10.5" fill="#404040" text-anchor="end" dominant-baseline="central" font-family="'Liberation Sans','Noto Sans CJK SC',sans-serif">60</text>
<text x="621.0" y="1900.7" font-size="10.5" fill="#404040" text-anchor="end" dominant-baseline="central" font-family="'Liberation Sans','Noto Sans CJK SC',sans-serif">40</text>
<text x="621.0" y="1923.3" font-size="10.5" fill="#404040" text-anchor="end" dominant-baseline="central" font-family="'Liberation Sans','Noto Sans CJK SC',sans-serif">20</text>
<text x="621.0" y="1945.8" font-size="10.5" fill="#404040" text-anchor="end" dominant-baseline="central" font-family="'Liberation Sans','Noto Sans CJK SC',sans-serif">0</text>
<text x="600.5" y="1853.0" font-size="10" fill="#404040" text-anchor="middle" dominant-baseline="central" font-family="'Noto Serif CJK SC',serif" letter-spacing="0.5" transform="rotate(-90 600.5 1853.0)">万吨</text>
<line x1="628.0" y1="1945.5" x2="1043.0" y2="1945.5" stroke="#d9d9d9" stroke-width="1"/>
<text x="631.2" y="1950.0" font-size="9" fill="#595959" text-anchor="end" dominant-baseline="central" font-family="'Liberation Sans','Noto Sans CJK SC',sans-serif" transform="rotate(-90 631.2 1950.0)">1月2日</text>
<text x="642.4" y="1950.0" font-size="9" fill="#595959" text-anchor="end" dominant-baseline="central" font-family="'Liberation Sans','Noto Sans CJK SC',sans-serif" transform="rotate(-90 642.4 1950.0)">1月10日</text>
<text x="653.6" y="1950.0" font-size="9" fill="#595959" text-anchor="end" dominant-baseline="central" font-family="'Liberation Sans','Noto Sans CJK SC',sans-serif" transform="rotate(-90 653.6 1950.0)">1月19日</text>
<text x="664.8" y="1950.0" font-size="9" fill="#595959" text-anchor="end" dominant-baseline="central" font-family="'Liberation Sans','Noto Sans CJK SC',sans-serif" transform="rotate(-90 664.8 1950.0)">1月27日</text>
<text x="676.0" y="1950.0" font-size="9" fill="#595959" text-anchor="end" dominant-baseline="central" font-family="'Liberation Sans','Noto Sans CJK SC',sans-serif" transform="rotate(-90 676.0 1950.0)">2月4日</text>
<text x="687.3" y="1950.0" font-size="9" fill="#595959" text-anchor="end" dominant-baseline="central" font-family="'Liberation Sans','Noto Sans CJK SC',sans-serif" transform="rotate(-90 687.3 1950.0)">2月13日</text>
<text x="698.5" y="1950.0" font-size="9" fill="#595959" text-anchor="end" dominant-baseline="central" font-family="'Liberation Sans','Noto Sans CJK SC',sans-serif" transform="rotate(-90 698.5 1950.0)">2月21日</text>
<text x="709.7" y="1950.0" font-size="9" fill="#595959" text-anchor="end" dominant-baseline="central" font-family="'Liberation Sans','Noto Sans CJK SC',sans-serif" transform="rotate(-90 709.7 1950.0)">3月1日</text>
<text x="720.9" y="1950.0" font-size="9" fill="#595959" text-anchor="end" dominant-baseline="central" font-family="'Liberation Sans','Noto Sans CJK SC',sans-serif" transform="rotate(-90 720.9 1950.0)">3月10日</text>
<text x="732.1" y="1950.0" font-size="9" fill="#595959" text-anchor="end" dominant-baseline="central" font-family="'Liberation Sans','Noto Sans CJK SC',sans-serif" transform="rotate(-90 732.1 1950.0)">3月18日</text>
<text x="743.3" y="1950.0" font-size="9" fill="#595959" text-anchor="end" dominant-baseline="central" font-family="'Liberation Sans','Noto Sans CJK SC',sans-serif" transform="rotate(-90 743.3 1950.0)">3月27日</text>
<text x="754.5" y="1950.0" font-size="9" fill="#595959" text-anchor="end" dominant-baseline="central" font-family="'Liberation Sans','Noto Sans CJK SC',sans-serif" transform="rotate(-90 754.5 1950.0)">4月4日</text>
<text x="765.7" y="1950.0" font-size="9" fill="#595959" text-anchor="end" dominant-baseline="central" font-family="'Liberation Sans','Noto Sans CJK SC',sans-serif" transform="rotate(-90 765.7 1950.0)">4月12日</text>
<text x="776.9" y="1950.0" font-size="9" fill="#595959" text-anchor="end" dominant-baseline="central" font-family="'Liberation Sans','Noto Sans CJK SC',sans-serif" transform="rotate(-90 776.9 1950.0)">4月22日</text>
<text x="788.2" y="1950.0" font-size="9" fill="#595959" text-anchor="end" dominant-baseline="central" font-family="'Liberation Sans','Noto Sans CJK SC',sans-serif" transform="rotate(-90 788.2 1950.0)">5月3日</text>
<text x="799.4" y="1950.0" font-size="9" fill="#595959" text-anchor="end" dominant-baseline="central" font-family="'Liberation Sans','Noto Sans CJK SC',sans-serif" transform="rotate(-90 799.4 1950.0)">5月13日</text>
<text x="810.6" y="1950.0" font-size="9" fill="#595959" text-anchor="end" dominant-baseline="central" font-family="'Liberation Sans','Noto Sans CJK SC',sans-serif" transform="rotate(-90 810.6 1950.0)">5月24日</text>
<text x="821.8" y="1950.0" font-size="9" fill="#595959" text-anchor="end" dominant-baseline="central" font-family="'Liberation Sans','Noto Sans CJK SC',sans-serif" transform="rotate(-90 821.8 1950.0)">6月3日</text>
<text x="833.0" y="1950.0" font-size="9" fill="#595959" text-anchor="end" dominant-baseline="central" font-family="'Liberation Sans','Noto Sans CJK SC',sans-serif" transform="rotate(-90 833.0 1950.0)">6月14日</text>
<text x="844.2" y="1950.0" font-size="9" fill="#595959" text-anchor="end" dominant-baseline="central" font-family="'Liberation Sans','Noto Sans CJK SC',sans-serif" transform="rotate(-90 844.2 1950.0)">6月24日</text>
<text x="855.4" y="1950.0" font-size="9" fill="#595959" text-anchor="end" dominant-baseline="central" font-family="'Liberation Sans','Noto Sans CJK SC',sans-serif" transform="rotate(-90 855.4 1950.0)">7月5日</text>
<text x="866.6" y="1950.0" font-size="9" fill="#595959" text-anchor="end" dominant-baseline="central" font-family="'Liberation Sans','Noto Sans CJK SC',sans-serif" transform="rotate(-90 866.6 1950.0)">7月15日</text>
<text x="877.8" y="1950.0" font-size="9" fill="#595959" text-anchor="end" dominant-baseline="central" font-family="'Liberation Sans','Noto Sans CJK SC',sans-serif" transform="rotate(-90 877.8 1950.0)">7月26日</text>
<text x="889.0" y="1950.0" font-size="9" fill="#595959" text-anchor="end" dominant-baseline="central" font-family="'Liberation Sans','Noto Sans CJK SC',sans-serif" transform="rotate(-90 889.0 1950.0)">8月5日</text>
<text x="900.3" y="1950.0" font-size="9" fill="#595959" text-anchor="end" dominant-baseline="central" font-family="'Liberation Sans','Noto Sans CJK SC',sans-serif" transform="rotate(-90 900.3 1950.0)">8月16日</text>
<text x="911.5" y="1950.0" font-size="9" fill="#595959" text-anchor="end" dominant-baseline="central" font-family="'Liberation Sans','Noto Sans CJK SC',sans-serif" transform="rotate(-90 911.5 1950.0)">8月26日</text>
<text x="922.7" y="1950.0" font-size="9" fill="#595959" text-anchor="end" dominant-baseline="central" font-family="'Liberation Sans','Noto Sans CJK SC',sans-serif" transform="rotate(-90 922.7 1950.0)">9月6日</text>
<text x="933.9" y="1950.0" font-size="9" fill="#595959" text-anchor="end" dominant-baseline="central" font-family="'Liberation Sans','Noto Sans CJK SC',sans-serif" transform="rotate(-90 933.9 1950.0)">9月16日</text>
<text x="945.1" y="1950.0" font-size="9" fill="#595959" text-anchor="end" dominant-baseline="central" font-family="'Liberation Sans','Noto Sans CJK SC',sans-serif" transform="rotate(-90 945.1 1950.0)">9月27日</text>
<text x="956.3" y="1950.0" font-size="9" fill="#595959" text-anchor="end" dominant-baseline="central" font-family="'Liberation Sans','Noto Sans CJK SC',sans-serif" transform="rotate(-90 956.3 1950.0)">10月7日</text>
<text x="967.5" y="1950.0" font-size="9" fill="#595959" text-anchor="end" dominant-baseline="central" font-family="'Liberation Sans','Noto Sans CJK SC',sans-serif" transform="rotate(-90 967.5 1950.0)">10月18日</text>
<text x="978.7" y="1950.0" font-size="9" fill="#595959" text-anchor="end" dominant-baseline="central" font-family="'Liberation Sans','Noto Sans CJK SC',sans-serif" transform="rotate(-90 978.7 1950.0)">10月28日</text>
<text x="989.9" y="1950.0" font-size="9" fill="#595959" text-anchor="end" dominant-baseline="central" font-family="'Liberation Sans','Noto Sans CJK SC',sans-serif" transform="rotate(-90 989.9 1950.0)">11月8日</text>
<text x="1001.2" y="1950.0" font-size="9" fill="#595959" text-anchor="end" dominant-baseline="central" font-family="'Liberation Sans','Noto Sans CJK SC',sans-serif" transform="rotate(-90 1001.2 1950.0)">11月18日</text>
<text x="1012.4" y="1950.0" font-size="9" fill="#595959" text-anchor="end" dominant-baseline="central" font-family="'Liberation Sans','Noto Sans CJK SC',sans-serif" transform="rotate(-90 1012.4 1950.0)">11月29日</text>
<text x="1023.6" y="1950.0" font-size="9" fill="#595959" text-anchor="end" dominant-baseline="central" font-family="'Liberation Sans','Noto Sans CJK SC',sans-serif" transform="rotate(-90 1023.6 1950.0)">12月9日</text>
<text x="1034.8" y="1950.0" font-size="9" fill="#595959" text-anchor="end" dominant-baseline="central" font-family="'Liberation Sans','Noto Sans CJK SC',sans-serif" transform="rotate(-90 1034.8 1950.0)">12月20日</text>
<text x="1046.0" y="1950.0" font-size="9" fill="#595959" text-anchor="end" dominant-baseline="central" font-family="'Liberation Sans','Noto Sans CJK SC',sans-serif" transform="rotate(-90 1046.0 1950.0)">12月30日</text>
<polyline points="634.6,1874.9 643.8,1888.1 653.1,1886.1 662.0,1884.2 671.8,1892.6 681.1,1873.5 690.1,1872.9 699.3,1872.1 708.3,1872.1 718.1,1877.7 727.3,1883.9 737.1,1878.8 746.1,1885.0 755.4,1906.3 764.3,1914.1 772.7,1918.3 779.7,1920.6 786.8,1912.7 794.3,1922.0 802.2,1921.1 810.0,1913.6 817.6,1888.9 824.6,1886.1 831.6,1877.7 830.0,1879.1 839.8,1858.6 846.8,1853.3 854.7,1879.4 861.4,1878.8 868.7,1866.5 876.2,1853.3 883.2,1851.6 891.1,1865.1 898.7,1864.5 906.2,1865.4 913.5,1858.1 921.1,1862.9 928.1,1862.3 935.9,1847.7 943.5,1849.1 951.1,1850.2 958.4,1861.7 965.9,1852.5 972.9,1855.8 980.8,1867.9 988.3,1863.7 995.4,1864.5 1002.4,1865.1 1009.4,1854.2 1017.2,1853.0 1024.8,1846.9 1032.3,1841.8 1039.6,1840.4" fill="none" stroke="#ed7d31" stroke-width="2" stroke-linejoin="round" stroke-linecap="round"/>
<polyline points="631.8,1835.7 642.4,1839.0 651.4,1836.5 660.6,1839.3 669.9,1860.9 678.9,1865.4 688.7,1869.9 697.9,1883.3 707.4,1869.9 716.7,1873.5 725.9,1883.3 734.9,1897.9 744.7,1910.5 754.5,1912.2 762.9,1908.5 771.3,1895.9 779.7,1889.5 787.6,1885.6 795.2,1881.4 802.2,1874.9 810.0,1859.5 816.2,1849.7 823.2,1845.5 830.8,1833.4 830.0,1833.4 837.0,1836.5 845.4,1826.7 851.9,1823.1 860.3,1808.2 867.3,1803.4 874.8,1793.6 881.8,1787.2 889.4,1779.6 896.7,1777.4 904.3,1776.3 911.3,1788.9 919.1,1793.6 926.7,1793.6 933.7,1781.6 941.5,1807.6 947.7,1816.9 955.6,1830.1 964.0,1839.9 971.5,1827.3 978.5,1835.1 986.4,1855.3 993.4,1858.1 1001.0,1858.9 1008.0,1851.6 1016.4,1869.3 1023.4,1873.5 1030.4,1879.9 1038.8,1866.5" fill="none" stroke="#ffc000" stroke-width="2" stroke-linejoin="round" stroke-linecap="round"/>
<polyline points="630.6,1867.9 639.6,1877.1 649.4,1882.8 659.2,1895.9 667.6,1891.2 677.5,1897.3 686.7,1896.8 695.7,1889.5 705.5,1874.3 715.3,1878.3 724.5,1868.5 733.5,1860.9 743.3,1860.9 752.3,1879.9 761.5,1911.3 769.4,1931.5 776.9,1937.1 786.8,1935.2 798.0,1931.8 807.2,1921.1 816.2,1910.8 819.8,1902.9 828.8,1898.7 835.8,1888.4 830.0,1897.3 835.6,1888.9 842.6,1867.3 850.2,1853.9 858.0,1844.9 865.9,1833.4 873.4,1827.8 879.9,1828.1 887.5,1832.9 895.0,1830.9 902.3,1827.3 909.9,1823.9 916.9,1818.0 924.7,1814.6 932.3,1804.8 939.9,1811.3 947.1,1817.5 953.9,1823.9 962.3,1835.7 969.6,1826.4 976.3,1815.5 984.1,1832.9 991.1,1833.7 999.6,1816.1 1006.6,1809.9 1013.6,1814.6 1022.0,1821.7 1029.0,1817.5 1036.0,1813.2" fill="none" stroke="#ff0000" stroke-width="2.2" stroke-linejoin="round" stroke-linecap="round"/>
<polyline points="629.8,1813.2 639.1,1827.8 648.0,1839.0 657.8,1844.6 667.1,1840.7 676.1,1833.4 685.3,1850.5 694.3,1851.1 704.1,1866.5 713.0,1860.1 722.3,1874.3 732.1,1870.1 741.1,1869.3 750.3,1872.1 759.6,1875.5" fill="none" stroke="#1a1a1a" stroke-width="2.2" stroke-linejoin="round" stroke-linecap="round"/>
<line x1="666.0" y1="2003.3" x2="687.0" y2="2003.3" stroke="#5b9bd5" stroke-width="2"/>
<text x="690.0" y="2003.3" font-size="8.5" fill="#404040" text-anchor="start" dominant-baseline="central" font-family="'Liberation Sans','Noto Serif CJK SC',serif">2022年</text>
<line x1="729.3" y1="2003.3" x2="750.3" y2="2003.3" stroke="#ed7d31" stroke-width="2"/>
<text x="753.3" y="2003.3" font-size="8.5" fill="#404040" text-anchor="start" dominant-baseline="central" font-family="'Liberation Sans','Noto Serif CJK SC',serif">2023年</text>
<line x1="792.0" y1="2003.3" x2="813.0" y2="2003.3" stroke="#ffc000" stroke-width="2"/>
<text x="816.0" y="2003.3" font-size="8.5" fill="#404040" text-anchor="start" dominant-baseline="central" font-family="'Liberation Sans','Noto Serif CJK SC',serif">2024年</text>
<line x1="855.4" y1="2003.3" x2="876.4" y2="2003.3" stroke="#ff0000" stroke-width="2"/>
<text x="879.4" y="2003.3" font-size="8.5" fill="#404040" text-anchor="start" dominant-baseline="central" font-family="'Liberation Sans','Noto Serif CJK SC',serif">2025年</text>
<line x1="918.2" y1="2003.3" x2="939.2" y2="2003.3" stroke="#000" stroke-width="2"/>
<text x="942.2" y="2003.3" font-size="8.5" fill="#404040" text-anchor="start" dominant-baseline="central" font-family="'Liberation Sans','Noto Serif CJK SC',serif">2026年</text>
<rect x="27.5" y="2080.6" width="487.0" height="302.4" fill="#fff" stroke="#e2e2e2" stroke-width="1"/>
<text x="282.0" y="2096.5" font-size="14" fill="#262626" text-anchor="middle" dominant-baseline="central" font-family="'Liberation Sans','Noto Serif CJK SC',serif" letter-spacing="1">广东菜粕现货</text>
<text x="74.3" y="2120.5" font-size="10.5" fill="#404040" text-anchor="end" dominant-baseline="central" font-family="'Liberation Sans','Noto Sans CJK SC',sans-serif">5000</text>
<text x="74.3" y="2157.1" font-size="10.5" fill="#404040" text-anchor="end" dominant-baseline="central" font-family="'Liberation Sans','Noto Sans CJK SC',sans-serif">4500</text>
<text x="74.3" y="2193.7" font-size="10.5" fill="#404040" text-anchor="end" dominant-baseline="central" font-family="'Liberation Sans','Noto Sans CJK SC',sans-serif">4000</text>
<text x="74.3" y="2230.2" font-size="10.5" fill="#404040" text-anchor="end" dominant-baseline="central" font-family="'Liberation Sans','Noto Sans CJK SC',sans-serif">3500</text>
<text x="74.3" y="2266.8" font-size="10.5" fill="#404040" text-anchor="end" dominant-baseline="central" font-family="'Liberation Sans','Noto Sans CJK SC',sans-serif">3000</text>
<text x="74.3" y="2303.4" font-size="10.5" fill="#404040" text-anchor="end" dominant-baseline="central" font-family="'Liberation Sans','Noto Sans CJK SC',sans-serif">2500</text>
<text x="74.3" y="2340.0" font-size="10.5" fill="#404040" text-anchor="end" dominant-baseline="central" font-family="'Liberation Sans','Noto Sans CJK SC',sans-serif">2000</text>
<text x="44.7" y="2232.0" font-size="10" fill="#404040" text-anchor="middle" dominant-baseline="central" font-family="'Noto Serif CJK SC',serif" letter-spacing="0.5" transform="rotate(-90 44.7 2232.0)">元 / 吨</text>
<line x1="84.0" y1="2340.0" x2="510.0" y2="2340.0" stroke="#d9d9d9" stroke-width="1"/>
<text x="84.0" y="2350.0" font-size="10.5" fill="#404040" text-anchor="middle" dominant-baseline="central" font-family="'Liberation Sans','Noto Sans CJK SC',sans-serif">1/1</text>
<text x="119.0" y="2350.0" font-size="10.5" fill="#404040" text-anchor="middle" dominant-baseline="central" font-family="'Liberation Sans','Noto Sans CJK SC',sans-serif">2/1</text>
<text x="154.1" y="2350.0" font-size="10.5" fill="#404040" text-anchor="middle" dominant-baseline="central" font-family="'Liberation Sans','Noto Sans CJK SC',sans-serif">3/1</text>
<text x="189.1" y="2350.0" font-size="10.5" fill="#404040" text-anchor="middle" dominant-baseline="central" font-family="'Liberation Sans','Noto Sans CJK SC',sans-serif">4/1</text>
<text x="224.1" y="2350.0" font-size="10.5" fill="#404040" text-anchor="middle" dominant-baseline="central" font-family="'Liberation Sans','Noto Sans CJK SC',sans-serif">5/1</text>
<text x="259.2" y="2350.0" font-size="10.5" fill="#404040" text-anchor="middle" dominant-baseline="central" font-family="'Liberation Sans','Noto Sans CJK SC',sans-serif">6/1</text>
<text x="294.2" y="2350.0" font-size="10.5" fill="#404040" text-anchor="middle" dominant-baseline="central" font-family="'Liberation Sans','Noto Sans CJK SC',sans-serif">7/1</text>
<text x="329.3" y="2350.0" font-size="10.5" fill="#404040" text-anchor="middle" dominant-baseline="central" font-family="'Liberation Sans','Noto Sans CJK SC',sans-serif">8/1</text>
<text x="364.3" y="2350.0" font-size="10.5" fill="#404040" text-anchor="middle" dominant-baseline="central" font-family="'Liberation Sans','Noto Sans CJK SC',sans-serif">9/1</text>
<text x="399.3" y="2350.0" font-size="10.5" fill="#404040" text-anchor="middle" dominant-baseline="central" font-family="'Liberation Sans','Noto Sans CJK SC',sans-serif">10/1</text>
<text x="434.4" y="2350.0" font-size="10.5" fill="#404040" text-anchor="middle" dominant-baseline="central" font-family="'Liberation Sans','Noto Sans CJK SC',sans-serif">11/1</text>
<text x="469.4" y="2350.0" font-size="10.5" fill="#404040" text-anchor="middle" dominant-baseline="central" font-family="'Liberation Sans','Noto Sans CJK SC',sans-serif">12/1</text>
<polyline points="86.2,2288.0 91.2,2278.2 96.8,2263.6 101.0,2269.7 105.2,2278.2 108.0,2285.2 112.2,2288.0 116.4,2283.8 120.6,2286.6 124.8,2278.2 129.0,2275.4 133.2,2276.8 138.9,2275.4 143.1,2275.4 145.9,2268.3 148.7,2278.2 152.9,2278.2 157.1,2281.0 161.3,2272.5 164.1,2286.6 168.3,2285.2 172.5,2279.6 178.1,2278.2 183.7,2279.6 187.9,2275.4 192.1,2273.9 196.3,2275.4 200.5,2278.2 204.7,2285.2 208.9,2278.2 214.5,2272.5 220.1,2272.5 225.7,2268.3 231.3,2264.1 234.1,2272.5 239.7,2273.9 245.4,2272.5 251.0,2269.7 255.2,2272.5 260.8,2268.3 265.0,2269.7 269.2,2266.9 273.4,2272.5 279.0,2279.6 284.6,2278.2 290.2,2275.4 294.4,2261.3 290.0,2275.4 294.2,2262.7 298.4,2262.7 302.6,2269.7 306.8,2266.9 311.0,2262.7 315.2,2262.7 318.0,2272.5 322.2,2273.9 326.4,2266.9 330.6,2269.7 334.8,2266.9 339.0,2264.1 343.2,2261.3 347.5,2255.7 351.7,2258.5 355.9,2261.3 360.1,2258.5 364.3,2258.5 368.5,2258.5 372.7,2255.7 376.9,2252.9 381.1,2250.7 385.3,2252.9 389.5,2255.7 393.7,2255.7 397.9,2258.5 402.1,2261.3 406.3,2262.7 410.5,2264.1 414.7,2271.1 418.9,2272.5 423.1,2273.9 427.3,2276.8 431.5,2281.0 435.7,2289.4 439.9,2290.8 444.1,2288.0 448.3,2287.1 452.5,2286.0 456.8,2285.2 461.0,2286.6 465.2,2286.6 469.4,2288.8 473.6,2286.6 477.8,2285.2 482.0,2279.6 486.2,2271.1 490.4,2269.7 494.6,2268.3 497.4,2265.5 501.6,2269.7 504.4,2269.7" fill="none" stroke="#4f81bd" stroke-width="2" stroke-linejoin="round" stroke-linecap="round"/>
<polyline points="86.2,2264.1 91.2,2268.3 96.8,2264.1 102.4,2266.9 106.6,2258.5 112.2,2255.7 116.4,2247.3 120.6,2241.7 124.8,2230.5 129.0,2226.3 134.6,2224.3 138.9,2222.1 143.1,2216.5 145.9,2198.3 148.7,2208.1 152.9,2203.9 157.1,2202.5 161.3,2175.0 165.5,2177.3 168.3,2178.7 171.1,2181.5 173.9,2174.5 178.1,2161.8 182.3,2170.3 186.5,2177.3 189.3,2194.1 193.5,2194.1 196.3,2185.1 199.1,2187.1 203.3,2194.1 207.5,2189.9 210.3,2183.4 213.1,2196.9 215.9,2210.9 220.1,2196.9 225.7,2198.3 228.5,2203.9 231.3,2215.1 235.5,2212.3 239.7,2205.3 243.9,2206.7 248.2,2205.3 251.0,2212.3 255.2,2206.7 259.4,2202.5 263.6,2206.7 267.8,2208.1 270.6,2201.1 273.4,2209.5 277.6,2206.7 280.4,2210.9 284.6,2237.5 288.8,2227.7 293.0,2230.5 290.0,2226.3 294.2,2227.7 298.4,2234.7 302.6,2229.1 306.8,2230.5 311.0,2229.1 315.2,2237.5 318.0,2243.1 322.2,2237.5 326.4,2234.7 330.6,2231.9 333.4,2224.9 337.6,2227.7 341.8,2226.3 346.1,2229.1 350.3,2230.5 354.5,2220.7 358.7,2226.3 362.9,2231.9 367.1,2224.9 371.3,2223.5 375.5,2213.7 378.3,2199.7 383.9,2202.5 388.1,2202.5 390.9,2177.3 395.1,2173.1 397.9,2168.9 402.1,2168.9 406.3,2168.9 410.5,2161.8 413.3,2152.0 417.5,2152.0 421.7,2154.8 425.9,2157.6 430.1,2157.6 434.3,2152.0 438.5,2153.4 441.3,2164.6 442.7,2157.6 445.5,2159.0 448.3,2191.3 451.1,2216.5 455.4,2224.9 459.6,2231.9 463.8,2234.7 468.0,2238.9 472.2,2241.7 476.4,2244.5 480.6,2247.3 484.8,2252.9 489.0,2258.5 491.8,2258.5 496.0,2251.5 500.2,2247.3 503.6,2243.1" fill="none" stroke="#c0504d" stroke-width="2" stroke-linejoin="round" stroke-linecap="round"/>
<polyline points="86.2,2239.5 91.2,2241.7 96.8,2236.1 101.0,2233.3 105.2,2240.3 110.8,2240.3 116.4,2240.3 122.0,2234.7 126.2,2236.1 129.0,2240.3 133.2,2238.9 138.9,2241.7 144.5,2243.1 148.7,2247.3 152.9,2252.9 157.1,2255.7 161.3,2254.3 165.5,2255.7 169.7,2258.5 173.9,2264.1 178.1,2272.5 182.3,2276.8 186.5,2273.9 190.7,2278.2 193.5,2269.7 197.7,2272.5 201.9,2272.5 206.1,2266.9 208.9,2258.5 211.7,2269.7 214.5,2268.3 218.7,2262.7 222.9,2265.5 227.1,2261.3 231.3,2257.1 235.5,2252.9 239.7,2244.5 242.5,2241.7 246.8,2247.3 251.0,2250.1 255.2,2254.3 259.4,2258.5 263.6,2252.9 267.8,2250.1 272.0,2244.5 276.2,2238.9 281.8,2220.7 285.3,2222.8 288.8,2224.9 293.0,2205.3 290.0,2224.9 294.2,2205.3 298.4,2201.1 302.6,2199.7 306.8,2191.3 311.0,2193.5 315.2,2194.1 319.4,2198.3 323.6,2196.9 327.8,2202.5 332.0,2194.1 336.2,2192.7 340.4,2189.9 344.6,2184.3 348.9,2177.3 351.7,2174.5 354.5,2184.3 358.7,2182.9 362.9,2182.9 367.1,2189.9 371.3,2194.1 375.5,2196.9 378.3,2205.3 382.5,2206.7 386.7,2208.1 390.9,2212.3 395.1,2215.1 399.3,2217.9 403.5,2219.3 407.7,2220.7 410.5,2238.9 414.7,2241.7 418.9,2247.3 423.1,2244.5 427.3,2245.9 431.5,2250.1 434.3,2257.1 438.5,2252.9 442.7,2247.3 445.5,2258.5 449.7,2261.3 453.9,2269.7 458.2,2271.1 462.4,2272.5 466.6,2275.4 470.8,2283.8 475.0,2279.6 479.2,2275.4 483.4,2275.4 487.6,2278.2 491.8,2278.2 496.0,2276.8 500.2,2275.4" fill="none" stroke="#9bbb59" stroke-width="2" stroke-linejoin="round" stroke-linecap="round"/>
<polyline points="85.6,2279.6 91.2,2285.2 96.8,2289.4 102.4,2291.6 108.0,2296.4 112.2,2300.6 116.4,2303.4 122.0,2302.0 127.6,2303.4 133.2,2302.8 138.9,2302.0 144.5,2303.4 150.1,2305.6 155.7,2303.4 161.3,2300.6 165.5,2295.0 169.7,2292.2 175.3,2285.2 179.5,2292.2 183.7,2296.4 189.3,2293.6 194.9,2292.2 200.5,2289.4 206.1,2286.6 211.7,2289.4 217.3,2286.6 222.9,2285.2 228.5,2282.4 232.7,2278.2 236.9,2281.0 242.5,2279.6 248.2,2278.2 253.8,2285.2 259.4,2289.4 265.0,2289.4 269.2,2292.2 273.4,2297.8 279.0,2302.0 284.6,2303.4 290.2,2300.6 295.8,2297.2 290.0,2297.8 294.2,2296.4 298.4,2300.6 302.6,2303.4 306.8,2311.8 311.0,2314.6 315.2,2311.8 319.4,2314.6 323.6,2313.2 327.8,2317.4 332.0,2317.4 336.2,2323.0 340.4,2327.2 344.6,2334.2 348.9,2332.8 353.1,2331.4 357.3,2331.4 361.5,2328.6 365.7,2328.6 368.5,2309.0 372.7,2309.0 376.9,2307.6 381.1,2309.0 385.3,2309.0 389.5,2311.8 393.7,2309.0 397.9,2307.6 402.1,2311.8 406.3,2314.6 410.5,2317.4 414.7,2317.4 418.9,2320.2 423.1,2323.0 427.3,2323.0 431.5,2324.4 435.7,2325.8 439.9,2320.2 444.1,2317.4 448.3,2318.8 452.5,2323.0 456.8,2325.8 461.0,2328.6 465.2,2328.6 469.4,2330.0 473.6,2334.2 477.8,2334.2 482.0,2332.8 486.2,2331.4 490.4,2325.8 494.6,2324.4 498.8,2323.0 504.4,2324.4" fill="none" stroke="#ffc000" stroke-width="3" stroke-linejoin="round" stroke-linecap="round"/>
<polyline points="84.2,2324.4 89.8,2328.6 94.0,2331.4 98.2,2320.2 102.4,2314.6 108.0,2310.4 113.6,2307.6 119.2,2304.8 124.8,2302.0 130.4,2293.6 136.1,2296.4 141.7,2292.7 147.3,2296.4 151.5,2296.4 155.7,2295.0 159.9,2306.2 164.1,2292.7 166.9,2293.6 171.1,2296.4 175.3,2299.2 180.9,2302.0 186.5,2304.8 192.1,2300.6 197.7,2302.0 203.3,2297.8 207.5,2307.6 211.7,2303.4 215.9,2295.0 220.1,2306.2 225.7,2306.7 231.3,2309.0 236.9,2311.8 242.5,2311.2 248.2,2309.0 253.8,2304.8 259.4,2303.4 265.0,2306.2 270.6,2300.6 276.2,2300.6 281.8,2302.0 287.4,2309.0 293.0,2306.2 290.0,2307.6 294.2,2304.8 298.4,2303.4 302.6,2303.4 306.8,2300.6 311.0,2299.2 315.2,2296.4 319.4,2295.0 323.6,2300.6 327.8,2296.4 332.0,2296.4 336.2,2297.8 340.4,2299.2 344.6,2296.4 348.9,2295.0 353.1,2299.2 357.3,2300.6 361.5,2299.2 365.7,2297.8 369.9,2296.4 374.1,2297.2 378.3,2296.4 382.5,2297.2 386.7,2295.0 390.9,2302.0 395.1,2302.0 399.3,2300.6 403.5,2300.6 407.7,2300.0 411.9,2302.0 416.1,2303.4 420.3,2306.2 424.5,2303.4 428.7,2303.4 432.9,2300.6 437.1,2296.4 441.3,2293.6 445.5,2296.4 449.7,2300.6 453.9,2302.0 458.2,2302.0 462.4,2300.6 466.6,2300.6 470.8,2302.0 475.0,2303.4 479.2,2304.8 483.4,2303.4 487.6,2303.4 491.8,2303.4 496.0,2300.6 500.2,2300.0 504.4,2302.0" fill="none" stroke="#ff0000" stroke-width="3" stroke-linejoin="round" stroke-linecap="round"/>
<polyline points="87.0,2300.6 92.6,2302.0 98.2,2306.2 101.7,2309.2 105.2,2311.8 108.7,2310.6 112.2,2309.0 115.7,2306.3 119.2,2304.8 124.8,2307.6 128.3,2306.8 131.8,2307.6 135.4,2307.4 138.9,2307.6 143.1,2307.2 147.3,2307.6 152.9,2311.8 157.1,2316.0 161.3,2311.8 164.1,2306.2 166.9,2295.0 169.7,2300.6 173.9,2306.2 178.1,2311.8 183.7,2316.0 189.3,2319.6 194.9,2321.6 200.5,2320.2 206.1,2320.8 210.3,2321.6 213.1,2318.8" fill="none" stroke="#404040" stroke-width="3.5" stroke-linejoin="round" stroke-linecap="round"/>
<polyline points="87.0,2300.6 92.6,2302.0 98.2,2306.2 101.7,2309.2 105.2,2311.8 108.7,2310.6 112.2,2309.0 115.7,2306.3 119.2,2304.8 124.8,2307.6 128.3,2306.8 131.8,2307.6 135.4,2307.4 138.9,2307.6 143.1,2307.2 147.3,2307.6 152.9,2311.8 157.1,2316.0 161.3,2311.8 164.1,2306.2 166.9,2295.0 169.7,2300.6 173.9,2306.2 178.1,2311.8 183.7,2316.0 189.3,2319.6 194.9,2321.6 200.5,2320.2 206.1,2320.8 210.3,2321.6 213.1,2318.8" fill="none" stroke="#ffffff" stroke-width="0.8" stroke-linejoin="round" stroke-linecap="round"/>
<line x1="123.0" y1="2369.0" x2="143.0" y2="2369.0" stroke="#4f81bd" stroke-width="2"/>
<text x="146.0" y="2369.0" font-size="8.8" fill="#404040" text-anchor="start" dominant-baseline="central" font-family="'Liberation Sans','Noto Serif CJK SC',serif">2021</text>
<line x1="175.4" y1="2369.0" x2="195.4" y2="2369.0" stroke="#c0504d" stroke-width="2"/>
<text x="198.4" y="2369.0" font-size="8.8" fill="#404040" text-anchor="start" dominant-baseline="central" font-family="'Liberation Sans','Noto Serif CJK SC',serif">2022</text>
<line x1="226.4" y1="2369.0" x2="246.4" y2="2369.0" stroke="#9bbb59" stroke-width="2"/>
<text x="249.4" y="2369.0" font-size="8.8" fill="#404040" text-anchor="start" dominant-baseline="central" font-family="'Liberation Sans','Noto Serif CJK SC',serif">2023</text>
<line x1="278.3" y1="2369.0" x2="298.3" y2="2369.0" stroke="#ffc000" stroke-width="3"/>
<text x="301.3" y="2369.0" font-size="8.8" fill="#404040" text-anchor="start" dominant-baseline="central" font-family="'Liberation Sans','Noto Serif CJK SC',serif">2024</text>
<line x1="330.3" y1="2369.0" x2="350.3" y2="2369.0" stroke="#ff0000" stroke-width="3"/>
<text x="353.3" y="2369.0" font-size="8.8" fill="#404040" text-anchor="start" dominant-baseline="central" font-family="'Liberation Sans','Noto Serif CJK SC',serif">2025</text>
<line x1="382.8" y1="2369.0" x2="402.8" y2="2369.0" stroke="#404040" stroke-width="3"/>
<text x="405.8" y="2369.0" font-size="8.8" fill="#404040" text-anchor="start" dominant-baseline="central" font-family="'Liberation Sans','Noto Serif CJK SC',serif">2026</text>
<rect x="566.0" y="2082.7" width="491.0" height="300.3" fill="#fff" stroke="#e2e2e2" stroke-width="1"/>
<text x="825.5" y="2099.0" font-size="14" fill="#262626" text-anchor="middle" dominant-baseline="central" font-family="'Liberation Sans','Noto Serif CJK SC',serif" letter-spacing="1">广东菜粕基差</text>
<line x1="622.0" y1="2300.6" x2="1042.0" y2="2300.6" stroke="#d9d9d9" stroke-width="1"/>
<text x="614.0" y="2123.3" font-size="10.5" fill="#404040" text-anchor="end" dominant-baseline="central" font-family="'Liberation Sans','Noto Sans CJK SC',sans-serif">1800</text>
<text x="614.0" y="2143.0" font-size="10.5" fill="#404040" text-anchor="end" dominant-baseline="central" font-family="'Liberation Sans','Noto Sans CJK SC',sans-serif">1600</text>
<text x="614.0" y="2162.7" font-size="10.5" fill="#404040" text-anchor="end" dominant-baseline="central" font-family="'Liberation Sans','Noto Sans CJK SC',sans-serif">1400</text>
<text x="614.0" y="2182.4" font-size="10.5" fill="#404040" text-anchor="end" dominant-baseline="central" font-family="'Liberation Sans','Noto Sans CJK SC',sans-serif">1200</text>
<text x="614.0" y="2202.1" font-size="10.5" fill="#404040" text-anchor="end" dominant-baseline="central" font-family="'Liberation Sans','Noto Sans CJK SC',sans-serif">1000</text>
<text x="614.0" y="2221.8" font-size="10.5" fill="#404040" text-anchor="end" dominant-baseline="central" font-family="'Liberation Sans','Noto Sans CJK SC',sans-serif">800</text>
<text x="614.0" y="2241.5" font-size="10.5" fill="#404040" text-anchor="end" dominant-baseline="central" font-family="'Liberation Sans','Noto Sans CJK SC',sans-serif">600</text>
<text x="614.0" y="2261.2" font-size="10.5" fill="#404040" text-anchor="end" dominant-baseline="central" font-family="'Liberation Sans','Noto Sans CJK SC',sans-serif">400</text>
<text x="614.0" y="2280.9" font-size="10.5" fill="#404040" text-anchor="end" dominant-baseline="central" font-family="'Liberation Sans','Noto Sans CJK SC',sans-serif">200</text>
<text x="614.0" y="2300.6" font-size="10.5" fill="#404040" text-anchor="end" dominant-baseline="central" font-family="'Liberation Sans','Noto Sans CJK SC',sans-serif">0</text>
<text x="614.0" y="2320.3" font-size="10.5" fill="#404040" text-anchor="end" dominant-baseline="central" font-family="'Liberation Sans','Noto Sans CJK SC',sans-serif">-200</text>
<text x="614.0" y="2340.0" font-size="10.5" fill="#404040" text-anchor="end" dominant-baseline="central" font-family="'Liberation Sans','Noto Sans CJK SC',sans-serif">-400</text>
<text x="582.6" y="2232.0" font-size="10" fill="#404040" text-anchor="middle" dominant-baseline="central" font-family="'Noto Serif CJK SC',serif" letter-spacing="0.5" transform="rotate(-90 582.6 2232.0)">元 / 吨</text>
<text x="623.4" y="2350.0" font-size="10.5" fill="#404040" text-anchor="middle" dominant-baseline="central" font-family="'Liberation Sans','Noto Sans CJK SC',sans-serif">1/1</text>
<text x="658.7" y="2350.0" font-size="10.5" fill="#404040" text-anchor="middle" dominant-baseline="central" font-family="'Liberation Sans','Noto Sans CJK SC',sans-serif">2/1</text>
<text x="694.1" y="2350.0" font-size="10.5" fill="#404040" text-anchor="middle" dominant-baseline="central" font-family="'Liberation Sans','Noto Sans CJK SC',sans-serif">3/1</text>
<text x="729.4" y="2350.0" font-size="10.5" fill="#404040" text-anchor="middle" dominant-baseline="central" font-family="'Liberation Sans','Noto Sans CJK SC',sans-serif">4/1</text>
<text x="764.7" y="2350.0" font-size="10.5" fill="#404040" text-anchor="middle" dominant-baseline="central" font-family="'Liberation Sans','Noto Sans CJK SC',sans-serif">5/1</text>
<text x="800.0" y="2350.0" font-size="10.5" fill="#404040" text-anchor="middle" dominant-baseline="central" font-family="'Liberation Sans','Noto Sans CJK SC',sans-serif">6/1</text>
<text x="835.4" y="2350.0" font-size="10.5" fill="#404040" text-anchor="middle" dominant-baseline="central" font-family="'Liberation Sans','Noto Sans CJK SC',sans-serif">7/1</text>
<text x="870.7" y="2350.0" font-size="10.5" fill="#404040" text-anchor="middle" dominant-baseline="central" font-family="'Liberation Sans','Noto Sans CJK SC',sans-serif">8/1</text>
<text x="906.0" y="2350.0" font-size="10.5" fill="#404040" text-anchor="middle" dominant-baseline="central" font-family="'Liberation Sans','Noto Sans CJK SC',sans-serif">9/1</text>
<text x="941.3" y="2350.0" font-size="10.5" fill="#404040" text-anchor="middle" dominant-baseline="central" font-family="'Liberation Sans','Noto Sans CJK SC',sans-serif">10/1</text>
<text x="976.7" y="2350.0" font-size="10.5" fill="#404040" text-anchor="middle" dominant-baseline="central" font-family="'Liberation Sans','Noto Sans CJK SC',sans-serif">11/1</text>
<text x="1012.0" y="2350.0" font-size="10.5" fill="#404040" text-anchor="middle" dominant-baseline="central" font-family="'Liberation Sans','Noto Sans CJK SC',sans-serif">12/1</text>
<polyline points="624.8,2317.4 630.4,2314.6 636.0,2309.5 641.6,2309.5 647.2,2311.2 652.8,2309.5 657.0,2307.6 661.2,2305.6 665.4,2304.8 671.1,2303.9 676.7,2304.2 682.3,2305.3 687.9,2304.8 693.5,2303.4 699.1,2302.8 704.7,2303.4 710.3,2304.8 715.9,2305.6 721.5,2306.2 727.1,2307.6 732.7,2307.6 738.3,2308.4 743.9,2307.6 749.5,2309.5 755.1,2311.8 760.7,2312.3 766.3,2313.2 771.9,2314.0 777.5,2313.2 783.2,2311.2 788.8,2307.6 794.4,2303.4 800.0,2302.0 805.6,2303.4 811.2,2303.4 816.8,2300.6 822.4,2299.2 828.0,2299.2 830.0,2300.6 835.6,2302.0 841.2,2302.0 846.8,2301.4 852.4,2302.0 858.0,2302.0 863.6,2300.6 869.2,2300.0 874.8,2299.2 880.4,2296.4 884.6,2295.0 887.5,2279.6 891.7,2278.2 897.3,2277.6 902.9,2275.4 908.5,2273.9 912.7,2271.1 916.9,2268.3 921.1,2269.7 925.3,2271.1 930.9,2272.0 936.5,2268.3 940.7,2266.9 944.9,2265.5 949.1,2262.7 953.3,2265.5 957.5,2269.2 960.3,2266.9 963.1,2271.1 967.3,2275.4 970.1,2279.6 972.9,2283.8 977.1,2285.2 981.3,2286.6 985.5,2286.6 989.7,2290.8 992.5,2295.0 995.4,2302.0 1001.0,2299.2 1006.6,2300.6 1012.2,2300.6 1017.8,2301.1 1023.4,2300.6 1027.6,2303.4 1030.4,2296.4 1034.6,2295.0 1038.8,2296.4 1043.0,2295.0 1047.2,2295.5" fill="none" stroke="#4f81bd" stroke-width="1.6" stroke-linejoin="round" stroke-linecap="round"/>
<polyline points="624.8,2289.4 630.4,2289.4 636.0,2288.0 641.6,2288.0 647.2,2289.4 652.8,2289.4 658.4,2289.4 664.0,2290.8 668.2,2289.4 673.9,2288.0 679.5,2285.2 685.1,2284.3 689.3,2282.4 693.5,2283.8 699.1,2283.8 704.7,2285.2 708.9,2282.4 714.5,2285.2 717.3,2285.2 718.7,2257.1 722.9,2262.7 727.1,2269.7 729.9,2264.1 732.7,2266.9 735.5,2261.9 738.3,2265.5 742.5,2272.5 745.3,2272.0 749.5,2271.1 752.3,2275.4 755.1,2283.8 759.3,2286.6 763.5,2286.6 769.1,2286.6 773.3,2289.4 777.5,2289.4 783.2,2289.4 788.8,2288.8 794.4,2290.8 800.0,2288.0 805.6,2292.2 811.2,2292.2 816.8,2290.8 822.4,2292.7 828.0,2289.4 829.7,2229.1 833.6,2229.1 830.0,2229.1 835.6,2230.5 841.2,2229.9 846.8,2231.1 851.0,2230.5 855.2,2233.3 860.8,2231.9 866.4,2232.8 872.0,2231.1 877.6,2227.7 881.8,2233.3 886.1,2234.7 890.3,2233.3 894.5,2234.7 900.1,2237.5 904.3,2237.5 908.5,2233.3 914.1,2233.3 915.5,2227.7 919.7,2222.1 925.3,2219.3 929.5,2220.7 930.9,2194.1 933.7,2183.4 937.9,2185.7 942.1,2182.9 946.3,2178.7 950.5,2174.5 953.3,2174.5 956.1,2161.8 958.9,2154.8 963.1,2150.6 967.3,2152.0 971.5,2152.0 975.7,2152.6 979.9,2150.6 982.7,2170.3 986.9,2173.1 989.7,2216.5 992.5,2238.9 996.8,2241.7 999.6,2250.1 1003.8,2261.3 1008.0,2271.1 1012.2,2272.5 1016.4,2275.4 1020.6,2283.8 1026.2,2285.2 1030.4,2286.0 1034.6,2289.4 1038.8,2290.8 1043.0,2288.8 1045.8,2290.8" fill="none" stroke="#c0504d" stroke-width="1.6" stroke-linejoin="round" stroke-linecap="round"/>
<polyline points="624.8,2285.2 630.4,2282.4 636.0,2281.0 641.6,2281.5 647.2,2279.6 652.8,2280.4 658.4,2281.0 664.0,2281.5 669.6,2282.4 675.3,2283.8 680.9,2285.2 686.5,2286.6 690.7,2288.0 696.3,2288.0 701.9,2288.5 707.5,2288.8 713.1,2288.8 718.7,2289.4 724.3,2290.8 729.9,2291.6 735.5,2292.7 741.1,2294.4 745.3,2293.6 748.1,2282.4 750.9,2278.2 753.7,2288.0 757.9,2289.4 763.5,2290.8 769.1,2291.6 773.3,2283.8 776.1,2279.6 780.4,2272.5 783.2,2271.1 787.4,2275.4 790.9,2275.0 794.4,2275.4 798.6,2277.6 801.4,2282.4 805.6,2281.5 808.4,2275.4 814.0,2273.9 819.6,2273.1 825.2,2271.1 830.8,2272.0 830.0,2271.1 835.6,2271.1 841.2,2270.3 846.8,2269.7 852.4,2271.1 858.0,2272.5 863.6,2273.1 869.2,2273.9 874.8,2274.8 879.0,2273.9 880.4,2278.2 884.6,2282.4 887.5,2285.2 888.3,2219.3 891.7,2220.7 897.3,2222.1 901.5,2224.9 907.1,2226.3 911.3,2227.7 915.5,2229.1 919.7,2227.7 923.9,2233.3 928.1,2234.7 932.3,2236.1 936.5,2238.9 942.1,2241.7 947.7,2244.5 951.9,2248.7 956.1,2252.9 960.3,2261.3 964.5,2264.1 968.7,2264.1 972.9,2269.7 977.1,2273.9 982.7,2279.6 986.9,2281.0 992.5,2285.2 998.2,2290.8 1003.8,2296.4 1009.4,2296.4 1015.0,2297.8 1020.6,2297.8 1026.2,2298.3 1031.8,2299.2 1037.4,2302.0 1043.0,2302.8 1045.8,2297.8" fill="none" stroke="#9bbb59" stroke-width="3" stroke-linejoin="round" stroke-linecap="round"/>
<polyline points="624.8,2295.0 630.4,2295.0 636.0,2295.0 641.6,2296.4 647.2,2297.8 652.8,2299.2 657.0,2300.0 661.2,2300.0 665.4,2297.8 671.1,2296.4 676.7,2295.5 682.3,2297.2 687.9,2299.2 693.5,2300.6 699.1,2302.0 704.7,2302.8 710.3,2302.0 715.9,2302.0 721.5,2301.4 727.1,2302.0 732.7,2302.8 738.3,2303.4 743.9,2303.9 749.5,2305.6 755.1,2306.2 760.7,2306.2 766.3,2306.7 771.9,2307.6 777.5,2307.6 783.2,2308.1 788.8,2309.0 794.4,2309.5 800.0,2309.0 805.6,2308.4 811.2,2309.0 816.8,2309.0 822.4,2308.4 828.0,2309.0 830.0,2307.6 835.6,2309.0 841.2,2309.5 846.8,2309.5 852.4,2310.4 858.0,2310.4 863.6,2309.5 869.2,2309.0 874.8,2306.2 879.0,2304.8 883.2,2306.2 887.5,2307.6 891.7,2308.4 897.3,2309.0 902.9,2309.5 908.5,2309.0 912.7,2310.4 916.9,2311.2 922.5,2311.8 928.1,2313.2 933.7,2314.0 939.3,2315.1 944.9,2315.1 950.5,2314.6 956.1,2314.0 961.7,2315.1 967.3,2314.6 972.9,2315.1 978.5,2314.0 984.1,2313.2 989.7,2313.2 995.4,2312.3 1001.0,2311.8 1005.2,2311.8 1008.0,2321.6 1012.2,2320.2 1017.8,2318.8 1023.4,2317.9 1029.0,2317.9 1034.6,2316.8 1040.2,2316.8 1045.8,2318.8" fill="none" stroke="#ffc000" stroke-width="3" stroke-linejoin="round" stroke-linecap="round"/>
<polyline points="623.4,2320.2 627.6,2318.8 631.8,2316.0 636.0,2313.2 640.2,2311.8 645.8,2309.0 650.0,2306.2 654.2,2304.8 659.8,2304.8 664.9,2304.2 666.8,2296.4 669.6,2289.4 672.5,2295.0 675.3,2296.4 678.1,2292.2 682.3,2296.4 687.9,2297.8 693.5,2299.2 699.1,2302.0 704.7,2303.4 707.5,2304.8 711.7,2306.2 715.9,2307.6 720.1,2310.4 724.3,2309.5 728.5,2308.4 732.7,2311.8 736.9,2307.6 739.7,2317.4 743.9,2316.0 748.1,2314.6 752.3,2312.3 756.5,2311.8 760.7,2311.2 766.3,2310.4 771.9,2311.8 777.5,2312.3 783.2,2311.2 788.8,2310.4 794.4,2311.8 800.0,2312.3 805.6,2312.3 811.2,2312.3 816.8,2312.3 822.4,2311.8 828.0,2312.3 830.0,2311.8 835.6,2312.3 841.2,2311.2 846.8,2311.8 852.4,2311.8 858.0,2312.3 863.6,2312.3 869.2,2313.2 874.8,2314.0 880.4,2314.6 884.6,2313.2 887.5,2296.4 891.7,2295.0 897.3,2296.4 902.9,2295.0 908.5,2295.0 914.1,2293.6 919.7,2292.7 925.3,2292.2 930.9,2291.6 936.5,2290.8 942.1,2289.9 947.7,2288.8 953.3,2288.0 958.9,2287.1 964.5,2287.1 970.1,2287.1 975.7,2288.0 981.3,2289.4 986.9,2289.4 992.5,2289.9 998.2,2289.9 1003.8,2289.9 1009.4,2289.9 1015.0,2289.9 1017.8,2285.2 1023.4,2284.3 1029.0,2283.8 1034.6,2283.8 1040.2,2283.2 1045.8,2284.3" fill="none" stroke="#ff0000" stroke-width="3" stroke-linejoin="round" stroke-linecap="round"/>
<polyline points="626.2,2283.8 630.4,2285.2 634.6,2283.2 638.8,2284.3 643.0,2285.2 647.2,2283.8 651.4,2283.8 655.6,2282.4 659.8,2281.0 664.0,2281.0 668.2,2282.4 671.1,2285.2 675.3,2286.0 680.9,2285.2 685.1,2285.2 689.3,2292.2 694.9,2295.0 699.1,2300.0 703.3,2301.1 706.1,2297.8 711.7,2298.3 717.3,2298.3 721.5,2298.3 725.7,2299.2 729.9,2300.0 735.5,2300.6 741.1,2300.6 743.9,2304.8 746.7,2309.0 750.9,2311.2 753.7,2311.2" fill="none" stroke="#000000" stroke-width="3" stroke-linejoin="round" stroke-linecap="round"/>
<polyline points="626.2,2298.3 631.8,2295.5 637.4,2293.6 643.0,2292.7 648.6,2292.7 654.2,2293.6 659.8,2293.6 665.4,2293.6 671.1,2293.6 676.7,2293.6 682.3,2294.4 687.9,2294.4 693.5,2295.0 699.1,2295.5 704.7,2295.5 710.3,2295.5 715.9,2295.5 721.5,2292.7 725.7,2291.6 729.9,2292.7 735.5,2294.4 741.1,2295.5 745.3,2295.0 749.5,2293.6 755.1,2296.4 760.7,2297.8 766.3,2298.3 771.9,2298.3 777.5,2297.2 783.2,2295.0 788.8,2294.4 794.4,2294.4 800.0,2295.0 805.6,2295.0 811.2,2293.6 816.8,2293.6 823.8,2292.2 826.6,2285.2 830.8,2277.6 830.0,2278.2 835.6,2278.7 841.2,2279.0 846.8,2279.6 852.4,2280.4 858.0,2279.6 863.6,2279.0 869.2,2278.7 874.8,2277.6 880.4,2276.8 886.1,2278.2 888.9,2272.5 893.1,2265.5 897.3,2261.3 902.9,2262.7 908.5,2261.3 914.1,2259.9 919.7,2257.1 925.3,2255.7 930.9,2255.2 936.5,2254.3 942.1,2253.8 947.7,2253.5 953.3,2252.9 958.9,2251.5 961.7,2250.1 967.3,2251.5 972.9,2254.3 978.5,2258.5 984.1,2264.1 986.9,2269.7 991.1,2281.0 995.4,2286.6 1001.0,2290.8 1006.6,2295.0 1012.2,2297.8 1017.8,2300.0 1023.4,2300.6 1029.0,2301.1 1034.6,2301.1 1041.6,2302.0" fill="none" stroke="#2f4b7c" stroke-width="3.5" stroke-linejoin="round" stroke-linecap="round"/>
<line x1="638.2" y1="2369.0" x2="658.2" y2="2369.0" stroke="#4f81bd" stroke-width="1.6"/>
<text x="661.2" y="2369.0" font-size="8.8" fill="#404040" text-anchor="start" dominant-baseline="central" font-family="'Liberation Sans','Noto Serif CJK SC',serif">2021</text>
<line x1="690.2" y1="2369.0" x2="710.2" y2="2369.0" stroke="#c0504d" stroke-width="1.6"/>
<text x="713.2" y="2369.0" font-size="8.8" fill="#404040" text-anchor="start" dominant-baseline="central" font-family="'Liberation Sans','Noto Serif CJK SC',serif">2022</text>
<line x1="741.7" y1="2369.0" x2="761.7" y2="2369.0" stroke="#9bbb59" stroke-width="3"/>
<text x="764.7" y="2369.0" font-size="8.8" fill="#404040" text-anchor="start" dominant-baseline="central" font-family="'Liberation Sans','Noto Serif CJK SC',serif">2023</text>
<line x1="793.6" y1="2369.0" x2="813.6" y2="2369.0" stroke="#ffc000" stroke-width="3"/>
<text x="816.6" y="2369.0" font-size="8.8" fill="#404040" text-anchor="start" dominant-baseline="central" font-family="'Liberation Sans','Noto Serif CJK SC',serif">2024</text>
<line x1="845.6" y1="2369.0" x2="865.6" y2="2369.0" stroke="#ff0000" stroke-width="3"/>
<text x="868.6" y="2369.0" font-size="8.8" fill="#404040" text-anchor="start" dominant-baseline="central" font-family="'Liberation Sans','Noto Serif CJK SC',serif">2025</text>
<line x1="897.0" y1="2369.0" x2="917.0" y2="2369.0" stroke="#000" stroke-width="3"/>
<text x="920.0" y="2369.0" font-size="8.8" fill="#404040" text-anchor="start" dominant-baseline="central" font-family="'Liberation Sans','Noto Serif CJK SC',serif">2026</text>
<line x1="950.6" y1="2369.0" x2="970.6" y2="2369.0" stroke="#2f4b7c" stroke-width="3"/>
<text x="973.6" y="2369.0" font-size="8.8" fill="#404040" text-anchor="start" dominant-baseline="central" font-family="'Liberation Sans','Noto Serif CJK SC',serif">均值</text>
<text x="268.0" y="2474.7" font-size="16" fill="#262626" text-anchor="middle" dominant-baseline="central" font-family="'Liberation Sans','Noto Serif CJK SC',serif" letter-spacing="0.5">豆菜粕05价差</text>
<text x="77.7" y="2507.7" font-size="15" fill="#262626" text-anchor="end" dominant-baseline="central" font-family="'Liberation Sans','Noto Sans CJK SC',sans-serif">800</text>
<text x="77.7" y="2528.1" font-size="15" fill="#262626" text-anchor="end" dominant-baseline="central" font-family="'Liberation Sans','Noto Sans CJK SC',sans-serif">700</text>
<text x="77.7" y="2548.5" font-size="15" fill="#262626" text-anchor="end" dominant-baseline="central" font-family="'Liberation Sans','Noto Sans CJK SC',sans-serif">600</text>
<text x="77.7" y="2568.9" font-size="15" fill="#262626" text-anchor="end" dominant-baseline="central" font-family="'Liberation Sans','Noto Sans CJK SC',sans-serif">500</text>
<text x="77.7" y="2589.2" font-size="15" fill="#262626" text-anchor="end" dominant-baseline="central" font-family="'Liberation Sans','Noto Sans CJK SC',sans-serif">400</text>
<text x="77.7" y="2609.6" font-size="15" fill="#262626" text-anchor="end" dominant-baseline="central" font-family="'Liberation Sans','Noto Sans CJK SC',sans-serif">300</text>
<text x="77.7" y="2630.0" font-size="15" fill="#262626" text-anchor="end" dominant-baseline="central" font-family="'Liberation Sans','Noto Sans CJK SC',sans-serif">200</text>
<text x="77.7" y="2650.4" font-size="15" fill="#262626" text-anchor="end" dominant-baseline="central" font-family="'Liberation Sans','Noto Sans CJK SC',sans-serif">100</text>
<text x="77.7" y="2670.8" font-size="15" fill="#262626" text-anchor="end" dominant-baseline="central" font-family="'Liberation Sans','Noto Sans CJK SC',sans-serif">0</text>
<text x="42.6" y="2588.0" font-size="13" fill="#404040" text-anchor="middle" dominant-baseline="central" font-family="'Noto Serif CJK SC',serif" letter-spacing="0.5" transform="rotate(-90 42.6 2588.0)">元 / 吨</text>
<line x1="89.6" y1="2670.8" x2="490.4" y2="2670.8" stroke="#d9d9d9" stroke-width="1"/>
<line x1="89.6" y1="2670.8" x2="89.6" y2="2675.0" stroke="#d9d9d9" stroke-width="1"/>
<line x1="121.6" y1="2670.8" x2="121.6" y2="2675.0" stroke="#d9d9d9" stroke-width="1"/>
<line x1="154.0" y1="2670.8" x2="154.0" y2="2675.0" stroke="#d9d9d9" stroke-width="1"/>
<line x1="186.5" y1="2670.8" x2="186.5" y2="2675.0" stroke="#d9d9d9" stroke-width="1"/>
<line x1="218.6" y1="2670.8" x2="218.6" y2="2675.0" stroke="#d9d9d9" stroke-width="1"/>
<line x1="250.6" y1="2670.8" x2="250.6" y2="2675.0" stroke="#d9d9d9" stroke-width="1"/>
<line x1="281.8" y1="2670.8" x2="281.8" y2="2675.0" stroke="#d9d9d9" stroke-width="1"/>
<line x1="313.8" y1="2670.8" x2="313.8" y2="2675.0" stroke="#d9d9d9" stroke-width="1"/>
<line x1="345.5" y1="2670.8" x2="345.5" y2="2675.0" stroke="#d9d9d9" stroke-width="1"/>
<line x1="378.6" y1="2670.8" x2="378.6" y2="2675.0" stroke="#d9d9d9" stroke-width="1"/>
<line x1="410.5" y1="2670.8" x2="410.5" y2="2675.0" stroke="#d9d9d9" stroke-width="1"/>
<line x1="442.7" y1="2670.8" x2="442.7" y2="2675.0" stroke="#d9d9d9" stroke-width="1"/>
<line x1="474.1" y1="2670.8" x2="474.1" y2="2675.0" stroke="#d9d9d9" stroke-width="1"/>
<text x="92.6" y="2679.0" font-size="14.5" fill="#262626" text-anchor="end" dominant-baseline="central" font-family="'Liberation Sans','Noto Sans CJK SC',sans-serif" transform="rotate(-45 92.6 2679.0)">2024-03-22</text>
<text x="124.6" y="2679.0" font-size="14.5" fill="#262626" text-anchor="end" dominant-baseline="central" font-family="'Liberation Sans','Noto Sans CJK SC',sans-serif" transform="rotate(-45 124.6 2679.0)">2024-05-22</text>
<text x="157.0" y="2679.0" font-size="14.5" fill="#262626" text-anchor="end" dominant-baseline="central" font-family="'Liberation Sans','Noto Sans CJK SC',sans-serif" transform="rotate(-45 157.0 2679.0)">2024-07-22</text>
<text x="189.5" y="2679.0" font-size="14.5" fill="#262626" text-anchor="end" dominant-baseline="central" font-family="'Liberation Sans','Noto Sans CJK SC',sans-serif" transform="rotate(-45 189.5 2679.0)">2024-09-22</text>
<text x="221.6" y="2679.0" font-size="14.5" fill="#262626" text-anchor="end" dominant-baseline="central" font-family="'Liberation Sans','Noto Sans CJK SC',sans-serif" transform="rotate(-45 221.6 2679.0)">2024-11-22</text>
<text x="253.6" y="2679.0" font-size="14.5" fill="#262626" text-anchor="end" dominant-baseline="central" font-family="'Liberation Sans','Noto Sans CJK SC',sans-serif" transform="rotate(-45 253.6 2679.0)">2025-01-22</text>
<text x="284.8" y="2679.0" font-size="14.5" fill="#262626" text-anchor="end" dominant-baseline="central" font-family="'Liberation Sans','Noto Sans CJK SC',sans-serif" transform="rotate(-45 284.8 2679.0)">2025-03-22</text>
<text x="316.8" y="2679.0" font-size="14.5" fill="#262626" text-anchor="end" dominant-baseline="central" font-family="'Liberation Sans','Noto Sans CJK SC',sans-serif" transform="rotate(-45 316.8 2679.0)">2025-05-22</text>
<text x="348.5" y="2679.0" font-size="14.5" fill="#262626" text-anchor="end" dominant-baseline="central" font-family="'Liberation Sans','Noto Sans CJK SC',sans-serif" transform="rotate(-45 348.5 2679.0)">2025-07-22</text>
<text x="381.6" y="2679.0" font-size="14.5" fill="#262626" text-anchor="end" dominant-baseline="central" font-family="'Liberation Sans','Noto Sans CJK SC',sans-serif" transform="rotate(-45 381.6 2679.0)">2025-09-22</text>
<text x="413.5" y="2679.0" font-size="14.5" fill="#262626" text-anchor="end" dominant-baseline="central" font-family="'Liberation Sans','Noto Sans CJK SC',sans-serif" transform="rotate(-45 413.5 2679.0)">2025-11-22</text>
<text x="445.7" y="2679.0" font-size="14.5" fill="#262626" text-anchor="end" dominant-baseline="central" font-family="'Liberation Sans','Noto Sans CJK SC',sans-serif" transform="rotate(-45 445.7 2679.0)">2026-01-22</text>
<text x="477.1" y="2679.0" font-size="14.5" fill="#262626" text-anchor="end" dominant-baseline="central" font-family="'Liberation Sans','Noto Sans CJK SC',sans-serif" transform="rotate(-45 477.1 2679.0)">2026-03-22</text>
<polyline points="89.8,2547.1 91.8,2546.2 94.0,2539.8 95.4,2539.2 96.3,2550.4 98.2,2551.8 100.2,2549.0 101.0,2554.6 103.8,2557.5 105.2,2550.4 108.0,2554.6 110.3,2557.5 111.4,2542.0 113.6,2544.8 115.0,2532.2 116.4,2529.4 117.3,2539.2 118.7,2518.2 119.8,2549.0 120.6,2568.7 122.0,2574.3 124.3,2576.2 126.2,2573.4 128.3,2572.5 130.4,2572.9 132.5,2570.1 134.6,2566.7 137.5,2570.6 139.4,2567.3 141.7,2573.4 143.8,2572.7 145.9,2571.5 148.0,2571.2 150.1,2569.5 151.5,2577.1 154.3,2578.5 155.7,2573.4 158.5,2575.7 159.9,2567.8 162.7,2560.3 165.5,2560.3 167.6,2560.6 169.7,2561.7 172.5,2558.9 175.8,2559.4 177.5,2600.9 179.5,2593.9 181.5,2605.1 183.7,2603.7 185.9,2606.5 189.3,2608.7 192.1,2607.9 194.9,2607.1 196.3,2604.3 199.1,2609.3 201.1,2591.1 203.3,2598.6 206.1,2586.9 208.9,2592.5 210.3,2598.1 213.1,2595.3 214.5,2599.5 216.8,2605.9 218.7,2591.1 221.5,2575.7 222.9,2581.8 225.7,2582.7 228.5,2586.9 230.8,2593.9 232.7,2612.1 235.5,2612.1 238.3,2610.7 240.3,2602.3 242.5,2592.5 245.4,2592.5 248.2,2599.5 251.0,2598.1 253.8,2598.1 256.6,2595.3 259.4,2588.3 261.6,2600.9 263.6,2598.1 265.5,2606.5 267.8,2606.5 270.6,2596.7 273.4,2582.7 274.8,2592.5 276.2,2648.5 277.0,2623.3 279.0,2623.3 281.8,2613.5 284.0,2623.3 286.0,2614.9 288.8,2617.7 291.6,2606.5 294.4,2600.9 297.2,2581.3 294.8,2593.0 292.4,2605.9 290.0,2617.7 291.4,2606.5 293.4,2603.7 295.6,2596.7 297.8,2581.3 299.2,2586.9 300.1,2596.7 301.8,2598.1 303.5,2607.9 306.0,2613.5 307.4,2603.7 310.2,2600.9 311.6,2612.1 312.4,2595.3 315.2,2596.7 318.0,2596.7 320.8,2595.3 323.6,2595.8 326.4,2597.5 329.2,2595.3 332.0,2592.5 334.8,2589.7 337.6,2590.2 340.4,2589.1 343.2,2590.2 346.1,2591.9 348.9,2593.0 351.1,2596.7 353.9,2597.5 355.9,2595.3 357.3,2613.5 358.7,2602.3 361.5,2599.5 364.3,2595.3 365.7,2588.3 368.5,2585.5 371.3,2589.7 374.1,2588.3 376.9,2585.5 379.7,2584.1 382.5,2583.5 384.6,2583.8 386.7,2583.5 388.8,2582.4 390.9,2581.8 393.7,2581.3 395.9,2575.7 399.3,2575.7 402.1,2589.7 404.9,2586.9 407.7,2584.1 410.5,2581.8 413.3,2582.7 416.1,2581.3 418.9,2581.3 421.7,2585.5 424.5,2585.5 427.3,2589.7 430.1,2593.0 432.9,2591.9 435.7,2588.3 437.1,2577.9 439.9,2575.7 442.7,2567.3 444.1,2566.7 446.4,2571.5 448.3,2573.4 451.1,2570.1 453.2,2570.4 455.4,2570.1 458.2,2569.6 461.0,2569.5 462.4,2560.3 465.2,2561.7 467.1,2556.1 469.4,2553.2 471.6,2551.0 474.4,2546.2 477.8,2544.3 480.6,2542.6 483.4,2546.2 486.2,2553.2 487.6,2549.0 489.5,2553.2" fill="none" stroke="#000" stroke-width="2.6" stroke-linejoin="round" stroke-linecap="round"/>
<text x="802.8" y="2472.6" font-size="16" fill="#262626" text-anchor="middle" dominant-baseline="central" font-family="'Liberation Sans','Noto Serif CJK SC',serif" letter-spacing="0.5">豆菜粕05合约价差</text>
<text x="607.4" y="2497.4" font-size="13" fill="#262626" text-anchor="end" dominant-baseline="central" font-family="'Liberation Sans','Noto Sans CJK SC',sans-serif">650</text>
<text x="607.4" y="2524.9" font-size="13" fill="#262626" text-anchor="end" dominant-baseline="central" font-family="'Liberation Sans','Noto Sans CJK SC',sans-serif">600</text>
<text x="607.4" y="2552.4" font-size="13" fill="#262626" text-anchor="end" dominant-baseline="central" font-family="'Liberation Sans','Noto Sans CJK SC',sans-serif">550</text>
<text x="607.4" y="2579.9" font-size="13" fill="#262626" text-anchor="end" dominant-baseline="central" font-family="'Liberation Sans','Noto Sans CJK SC',sans-serif">500</text>
<text x="607.4" y="2607.4" font-size="13" fill="#262626" text-anchor="end" dominant-baseline="central" font-family="'Liberation Sans','Noto Sans CJK SC',sans-serif">450</text>
<text x="607.4" y="2635.0" font-size="13" fill="#262626" text-anchor="end" dominant-baseline="central" font-family="'Liberation Sans','Noto Sans CJK SC',sans-serif">400</text>
<text x="607.4" y="2662.5" font-size="13" fill="#262626" text-anchor="end" dominant-baseline="central" font-family="'Liberation Sans','Noto Sans CJK SC',sans-serif">350</text>
<text x="607.4" y="2690.0" font-size="13" fill="#262626" text-anchor="end" dominant-baseline="central" font-family="'Liberation Sans','Noto Sans CJK SC',sans-serif">300</text>
<text x="607.4" y="2717.5" font-size="13" fill="#262626" text-anchor="end" dominant-baseline="central" font-family="'Liberation Sans','Noto Sans CJK SC',sans-serif">250</text>
<text x="580.0" y="2605.4" font-size="11" fill="#404040" text-anchor="middle" dominant-baseline="central" font-family="'Noto Serif CJK SC',serif" letter-spacing="0.5" transform="rotate(-90 580.0 2605.4)">元 / 吨</text>
<line x1="621.0" y1="2717.5" x2="1036.7" y2="2717.5" stroke="#d9d9d9" stroke-width="1"/>
<line x1="621.0" y1="2717.5" x2="621.0" y2="2722.0" stroke="#d9d9d9" stroke-width="1"/>
<line x1="740.5" y1="2717.5" x2="740.5" y2="2722.0" stroke="#d9d9d9" stroke-width="1"/>
<line x1="851.0" y1="2717.5" x2="851.0" y2="2722.0" stroke="#d9d9d9" stroke-width="1"/>
<line x1="971.0" y1="2717.5" x2="971.0" y2="2722.0" stroke="#d9d9d9" stroke-width="1"/>
<text x="624.0" y="2731.3" font-size="11" fill="#262626" text-anchor="middle" dominant-baseline="central" font-family="'Liberation Sans','Noto Sans CJK SC',sans-serif">2026年1月6日</text>
<text x="743.0" y="2731.3" font-size="11" fill="#262626" text-anchor="middle" dominant-baseline="central" font-family="'Liberation Sans','Noto Sans CJK SC',sans-serif">2026年2月6日</text>
<text x="851.0" y="2731.3" font-size="11" fill="#262626" text-anchor="middle" dominant-baseline="central" font-family="'Liberation Sans','Noto Sans CJK SC',sans-serif">2026年3月6日</text>
<text x="971.0" y="2731.3" font-size="11" fill="#262626" text-anchor="middle" dominant-baseline="central" font-family="'Liberation Sans','Noto Sans CJK SC',sans-serif">2026年4月6日</text>
<polyline points="622.5,2643.2 627.4,2639.8 631.5,2622.6 636.3,2608.9 646.6,2603.4 650.1,2602.0 653.5,2608.9 658.3,2600.6 662.4,2603.4 667.3,2593.7 674.1,2584.8 677.6,2576.5 684.5,2576.5 687.9,2581.3 692.7,2571.0 698.2,2573.1 705.1,2580.0 713.4,2586.8 718.9,2592.3 725.7,2591.0 732.6,2593.0 739.5,2591.7 742.9,2584.8 747.7,2583.4 756.7,2586.8 763.6,2586.8 770.4,2588.2 777.3,2585.5 815.2,2585.5 818.6,2567.6 825.5,2555.2 832.4,2558.6 842.7,2564.8 849.6,2565.5 855.1,2557.3 863.3,2550.4 870.2,2543.5 877.1,2531.1 881.9,2559.3 887.4,2546.9 892.2,2533.2 897.7,2533.2 908.0,2521.5 918.3,2519.4 923.2,2527.7 928.7,2526.3 935.5,2513.2 945.9,2514.6 952.7,2516.7 958.2,2518.1 963.1,2509.1 969.9,2514.6 980.3,2521.5 987.1,2521.5 994.0,2522.9 998.8,2531.8 1004.3,2538.7 1009.8,2538.7 1014.6,2524.2 1021.5,2526.3 1028.4,2531.8 1032.5,2541.4 1036.7,2534.6" fill="none" stroke="#000" stroke-width="3" stroke-linejoin="round" stroke-linecap="round"/>
<rect x="26.0" y="2819.0" width="490.0" height="296.0" fill="#fff" stroke="#e2e2e2" stroke-width="1"/>
<text x="271.7" y="2835.8" font-size="14" fill="#262626" text-anchor="middle" dominant-baseline="central" font-family="'Liberation Sans','Noto Serif CJK SC',serif" letter-spacing="1">压榨厂油菜籽库存</text>
<text x="65.4" y="2858.5" font-size="10.5" fill="#404040" text-anchor="end" dominant-baseline="central" font-family="'Liberation Sans','Noto Sans CJK SC',sans-serif">90</text>
<text x="65.4" y="2879.0" font-size="10.5" fill="#404040" text-anchor="end" dominant-baseline="central" font-family="'Liberation Sans','Noto Sans CJK SC',sans-serif">80</text>
<text x="65.4" y="2899.5" font-size="10.5" fill="#404040" text-anchor="end" dominant-baseline="central" font-family="'Liberation Sans','Noto Sans CJK SC',sans-serif">70</text>
<text x="65.4" y="2919.9" font-size="10.5" fill="#404040" text-anchor="end" dominant-baseline="central" font-family="'Liberation Sans','Noto Sans CJK SC',sans-serif">60</text>
<text x="65.4" y="2940.4" font-size="10.5" fill="#404040" text-anchor="end" dominant-baseline="central" font-family="'Liberation Sans','Noto Sans CJK SC',sans-serif">50</text>
<text x="65.4" y="2960.9" font-size="10.5" fill="#404040" text-anchor="end" dominant-baseline="central" font-family="'Liberation Sans','Noto Sans CJK SC',sans-serif">40</text>
<text x="65.4" y="2981.4" font-size="10.5" fill="#404040" text-anchor="end" dominant-baseline="central" font-family="'Liberation Sans','Noto Sans CJK SC',sans-serif">30</text>
<text x="65.4" y="3001.8" font-size="10.5" fill="#404040" text-anchor="end" dominant-baseline="central" font-family="'Liberation Sans','Noto Sans CJK SC',sans-serif">20</text>
<text x="65.4" y="3022.3" font-size="10.5" fill="#404040" text-anchor="end" dominant-baseline="central" font-family="'Liberation Sans','Noto Sans CJK SC',sans-serif">10</text>
<text x="65.4" y="3042.8" font-size="10.5" fill="#404040" text-anchor="end" dominant-baseline="central" font-family="'Liberation Sans','Noto Sans CJK SC',sans-serif">0</text>
<text x="48.0" y="2941.0" font-size="10" fill="#404040" text-anchor="middle" dominant-baseline="central" font-family="'Noto Serif CJK SC',serif" letter-spacing="0.5" transform="rotate(-90 48.0 2941.0)">万吨</text>
<line x1="72.0" y1="3043.4" x2="505.0" y2="3043.4" stroke="#d9d9d9" stroke-width="1"/>
<text x="74.6" y="3048.0" font-size="9" fill="#595959" text-anchor="end" dominant-baseline="central" font-family="'Liberation Sans','Noto Sans CJK SC',sans-serif" transform="rotate(-90 74.6 3048.0)">1月2日</text>
<text x="84.3" y="3048.0" font-size="9" fill="#595959" text-anchor="end" dominant-baseline="central" font-family="'Liberation Sans','Noto Sans CJK SC',sans-serif" transform="rotate(-90 84.3 3048.0)">1月9日</text>
<text x="94.0" y="3048.0" font-size="9" fill="#595959" text-anchor="end" dominant-baseline="central" font-family="'Liberation Sans','Noto Sans CJK SC',sans-serif" transform="rotate(-90 94.0 3048.0)">1月16日</text>
<text x="103.8" y="3048.0" font-size="9" fill="#595959" text-anchor="end" dominant-baseline="central" font-family="'Liberation Sans','Noto Sans CJK SC',sans-serif" transform="rotate(-90 103.8 3048.0)">1月23日</text>
<text x="113.5" y="3048.0" font-size="9" fill="#595959" text-anchor="end" dominant-baseline="central" font-family="'Liberation Sans','Noto Sans CJK SC',sans-serif" transform="rotate(-90 113.5 3048.0)">1月30日</text>
<text x="123.2" y="3048.0" font-size="9" fill="#595959" text-anchor="end" dominant-baseline="central" font-family="'Liberation Sans','Noto Sans CJK SC',sans-serif" transform="rotate(-90 123.2 3048.0)">2月6日</text>
<text x="132.9" y="3048.0" font-size="9" fill="#595959" text-anchor="end" dominant-baseline="central" font-family="'Liberation Sans','Noto Sans CJK SC',sans-serif" transform="rotate(-90 132.9 3048.0)">2月13日</text>
<text x="142.7" y="3048.0" font-size="9" fill="#595959" text-anchor="end" dominant-baseline="central" font-family="'Liberation Sans','Noto Sans CJK SC',sans-serif" transform="rotate(-90 142.7 3048.0)">2月20日</text>
<text x="152.4" y="3048.0" font-size="9" fill="#595959" text-anchor="end" dominant-baseline="central" font-family="'Liberation Sans','Noto Sans CJK SC',sans-serif" transform="rotate(-90 152.4 3048.0)">2月27日</text>
<text x="162.1" y="3048.0" font-size="9" fill="#595959" text-anchor="end" dominant-baseline="central" font-family="'Liberation Sans','Noto Sans CJK SC',sans-serif" transform="rotate(-90 162.1 3048.0)">3月6日</text>
<text x="171.8" y="3048.0" font-size="9" fill="#595959" text-anchor="end" dominant-baseline="central" font-family="'Liberation Sans','Noto Sans CJK SC',sans-serif" transform="rotate(-90 171.8 3048.0)">3月13日</text>
<text x="181.5" y="3048.0" font-size="9" fill="#595959" text-anchor="end" dominant-baseline="central" font-family="'Liberation Sans','Noto Sans CJK SC',sans-serif" transform="rotate(-90 181.5 3048.0)">3月20日</text>
<text x="191.3" y="3048.0" font-size="9" fill="#595959" text-anchor="end" dominant-baseline="central" font-family="'Liberation Sans','Noto Sans CJK SC',sans-serif" transform="rotate(-90 191.3 3048.0)">3月27日</text>
<text x="201.0" y="3048.0" font-size="9" fill="#595959" text-anchor="end" dominant-baseline="central" font-family="'Liberation Sans','Noto Sans CJK SC',sans-serif" transform="rotate(-90 201.0 3048.0)">4月3日</text>
<text x="210.7" y="3048.0" font-size="9" fill="#595959" text-anchor="end" dominant-baseline="central" font-family="'Liberation Sans','Noto Sans CJK SC',sans-serif" transform="rotate(-90 210.7 3048.0)">4月10日</text>
<text x="220.4" y="3048.0" font-size="9" fill="#595959" text-anchor="end" dominant-baseline="central" font-family="'Liberation Sans','Noto Sans CJK SC',sans-serif" transform="rotate(-90 220.4 3048.0)">4月18日</text>
<text x="230.2" y="3048.0" font-size="9" fill="#595959" text-anchor="end" dominant-baseline="central" font-family="'Liberation Sans','Noto Sans CJK SC',sans-serif" transform="rotate(-90 230.2 3048.0)">4月26日</text>
<text x="239.9" y="3048.0" font-size="9" fill="#595959" text-anchor="end" dominant-baseline="central" font-family="'Liberation Sans','Noto Sans CJK SC',sans-serif" transform="rotate(-90 239.9 3048.0)">5月5日</text>
<text x="249.6" y="3048.0" font-size="9" fill="#595959" text-anchor="end" dominant-baseline="central" font-family="'Liberation Sans','Noto Sans CJK SC',sans-serif" transform="rotate(-90 249.6 3048.0)">5月15日</text>
<text x="259.3" y="3048.0" font-size="9" fill="#595959" text-anchor="end" dominant-baseline="central" font-family="'Liberation Sans','Noto Sans CJK SC',sans-serif" transform="rotate(-90 259.3 3048.0)">5月23日</text>
<text x="269.1" y="3048.0" font-size="9" fill="#595959" text-anchor="end" dominant-baseline="central" font-family="'Liberation Sans','Noto Sans CJK SC',sans-serif" transform="rotate(-90 269.1 3048.0)">5月31日</text>
<text x="278.8" y="3048.0" font-size="9" fill="#595959" text-anchor="end" dominant-baseline="central" font-family="'Liberation Sans','Noto Sans CJK SC',sans-serif" transform="rotate(-90 278.8 3048.0)">6月9日</text>
<text x="288.5" y="3048.0" font-size="9" fill="#595959" text-anchor="end" dominant-baseline="central" font-family="'Liberation Sans','Noto Sans CJK SC',sans-serif" transform="rotate(-90 288.5 3048.0)">6月17日</text>
<text x="298.2" y="3048.0" font-size="9" fill="#595959" text-anchor="end" dominant-baseline="central" font-family="'Liberation Sans','Noto Sans CJK SC',sans-serif" transform="rotate(-90 298.2 3048.0)">6月27日</text>
<text x="307.9" y="3048.0" font-size="9" fill="#595959" text-anchor="end" dominant-baseline="central" font-family="'Liberation Sans','Noto Sans CJK SC',sans-serif" transform="rotate(-90 307.9 3048.0)">7月5日</text>
<text x="317.7" y="3048.0" font-size="9" fill="#595959" text-anchor="end" dominant-baseline="central" font-family="'Liberation Sans','Noto Sans CJK SC',sans-serif" transform="rotate(-90 317.7 3048.0)">7月14日</text>
<text x="327.4" y="3048.0" font-size="9" fill="#595959" text-anchor="end" dominant-baseline="central" font-family="'Liberation Sans','Noto Sans CJK SC',sans-serif" transform="rotate(-90 327.4 3048.0)">7月22日</text>
<text x="337.1" y="3048.0" font-size="9" fill="#595959" text-anchor="end" dominant-baseline="central" font-family="'Liberation Sans','Noto Sans CJK SC',sans-serif" transform="rotate(-90 337.1 3048.0)">8月1日</text>
<text x="346.8" y="3048.0" font-size="9" fill="#595959" text-anchor="end" dominant-baseline="central" font-family="'Liberation Sans','Noto Sans CJK SC',sans-serif" transform="rotate(-90 346.8 3048.0)">8月9日</text>
<text x="356.6" y="3048.0" font-size="9" fill="#595959" text-anchor="end" dominant-baseline="central" font-family="'Liberation Sans','Noto Sans CJK SC',sans-serif" transform="rotate(-90 356.6 3048.0)">8月18日</text>
<text x="366.3" y="3048.0" font-size="9" fill="#595959" text-anchor="end" dominant-baseline="central" font-family="'Liberation Sans','Noto Sans CJK SC',sans-serif" transform="rotate(-90 366.3 3048.0)">8月26日</text>
<text x="376.0" y="3048.0" font-size="9" fill="#595959" text-anchor="end" dominant-baseline="central" font-family="'Liberation Sans','Noto Sans CJK SC',sans-serif" transform="rotate(-90 376.0 3048.0)">9月5日</text>
<text x="385.7" y="3048.0" font-size="9" fill="#595959" text-anchor="end" dominant-baseline="central" font-family="'Liberation Sans','Noto Sans CJK SC',sans-serif" transform="rotate(-90 385.7 3048.0)">9月13日</text>
<text x="395.4" y="3048.0" font-size="9" fill="#595959" text-anchor="end" dominant-baseline="central" font-family="'Liberation Sans','Noto Sans CJK SC',sans-serif" transform="rotate(-90 395.4 3048.0)">9月22日</text>
<text x="405.2" y="3048.0" font-size="9" fill="#595959" text-anchor="end" dominant-baseline="central" font-family="'Liberation Sans','Noto Sans CJK SC',sans-serif" transform="rotate(-90 405.2 3048.0)">9月30日</text>
<text x="414.9" y="3048.0" font-size="9" fill="#595959" text-anchor="end" dominant-baseline="central" font-family="'Liberation Sans','Noto Sans CJK SC',sans-serif" transform="rotate(-90 414.9 3048.0)">10月10日</text>
<text x="424.6" y="3048.0" font-size="9" fill="#595959" text-anchor="end" dominant-baseline="central" font-family="'Liberation Sans','Noto Sans CJK SC',sans-serif" transform="rotate(-90 424.6 3048.0)">10月18日</text>
<text x="434.3" y="3048.0" font-size="9" fill="#595959" text-anchor="end" dominant-baseline="central" font-family="'Liberation Sans','Noto Sans CJK SC',sans-serif" transform="rotate(-90 434.3 3048.0)">10月27日</text>
<text x="444.1" y="3048.0" font-size="9" fill="#595959" text-anchor="end" dominant-baseline="central" font-family="'Liberation Sans','Noto Sans CJK SC',sans-serif" transform="rotate(-90 444.1 3048.0)">11月4日</text>
<text x="453.8" y="3048.0" font-size="9" fill="#595959" text-anchor="end" dominant-baseline="central" font-family="'Liberation Sans','Noto Sans CJK SC',sans-serif" transform="rotate(-90 453.8 3048.0)">11月14日</text>
<text x="463.5" y="3048.0" font-size="9" fill="#595959" text-anchor="end" dominant-baseline="central" font-family="'Liberation Sans','Noto Sans CJK SC',sans-serif" transform="rotate(-90 463.5 3048.0)">11月22日</text>
<text x="473.2" y="3048.0" font-size="9" fill="#595959" text-anchor="end" dominant-baseline="central" font-family="'Liberation Sans','Noto Sans CJK SC',sans-serif" transform="rotate(-90 473.2 3048.0)">12月1日</text>
<text x="483.0" y="3048.0" font-size="9" fill="#595959" text-anchor="end" dominant-baseline="central" font-family="'Liberation Sans','Noto Sans CJK SC',sans-serif" transform="rotate(-90 483.0 3048.0)">12月9日</text>
<text x="492.7" y="3048.0" font-size="9" fill="#595959" text-anchor="end" dominant-baseline="central" font-family="'Liberation Sans','Noto Sans CJK SC',sans-serif" transform="rotate(-90 492.7 3048.0)">12月19日</text>
<text x="502.4" y="3048.0" font-size="9" fill="#595959" text-anchor="end" dominant-baseline="central" font-family="'Liberation Sans','Noto Sans CJK SC',sans-serif" transform="rotate(-90 502.4 3048.0)">12月27日</text>
<polyline points="81.2,2988.7 91.0,2994.3 100.3,2988.7 109.2,2990.1 119.9,2990.1 129.4,2988.2 138.7,2995.2 147.9,2998.5 158.3,3006.1 168.1,2999.9 177.9,3006.4 187.7,3006.9 197.5,3011.7 207.3,3013.9 216.6,3010.3 225.5,3016.8 232.5,3018.7 239.6,3018.7 248.0,3005.5 256.4,2995.7 264.8,2996.3 271.8,3002.7 278.8,3010.3 285.8,3005.5 285.0,3005.5 288.4,3006.9 294.8,3012.0 302.4,3003.6 310.2,3005.5 318.1,3009.2 325.6,2982.6 332.6,2997.1 341.1,3009.2 348.9,3017.6 356.5,3022.4 364.0,3013.4 371.9,3019.0 379.7,3029.4 388.1,3033.6 395.7,3026.6 404.1,3028.0 411.1,3028.0 418.1,3029.9 426.5,3033.6 433.5,3035.8 440.5,3011.1 448.9,2987.3 456.5,2955.1 464.4,2973.3 472.2,2976.1 480.3,2989.6 488.2,2959.3 495.8,2960.7 503.6,2981.2" fill="none" stroke="#5b9bd5" stroke-width="2" stroke-linejoin="round" stroke-linecap="round"/>
<polyline points="79.0,3000.8 88.2,2971.9 98.0,2973.3 107.8,2975.6 117.6,2975.3 127.5,2976.1 136.7,2999.1 146.2,2999.7 155.5,2978.9 164.7,2957.9 175.1,2981.7 184.9,2992.4 194.7,2972.8 204.5,2993.5 214.3,2976.1 222.7,2987.3 231.1,2977.5 238.2,2970.5 245.2,2964.3 253.6,2973.9 262.0,2969.7 269.0,2965.5 277.4,2987.3 284.4,2990.7 285.0,2990.1 292.0,2991.0 300.4,2998.0 308.0,2988.7 315.8,2999.9 322.8,3007.5 330.7,3010.3 338.8,2991.5 346.7,2986.5 354.5,2998.0 362.1,3009.7 369.6,2999.9 377.5,3001.3 385.3,3010.6 392.9,3003.6 399.9,3007.5 408.3,3003.6 416.2,3007.8 423.7,3015.4 431.3,3020.4 439.1,3025.2 447.0,2965.5 454.6,2957.1 463.0,2969.7 470.0,2969.7 477.8,2960.1 485.4,2950.3 493.8,2955.9 501.4,2955.1" fill="none" stroke="#ed7d31" stroke-width="2" stroke-linejoin="round" stroke-linecap="round"/>
<polyline points="77.8,2965.5 86.8,2976.7 95.8,2970.5 106.4,2974.7 117.1,2976.1 126.1,2963.5 135.9,2952.3 144.3,2953.1 154.1,2970.5 165.3,2983.1 175.1,2978.4 183.5,2967.7 193.3,2981.7 203.1,2986.8 212.4,2962.7 221.3,2979.5 228.3,2973.3 236.8,2957.9 243.8,2942.5 252.2,2956.5 260.0,2973.3 267.6,2980.3 274.6,2959.3 282.4,2960.1 285.0,2962.1 290.6,2967.7 298.5,2960.7 305.2,2952.3 313.0,2967.1 320.9,2964.9 329.3,2969.9 336.8,2971.9 344.4,2935.5 352.3,2941.1 360.1,2947.5 367.7,2966.3 375.2,2983.1 383.1,2976.1 390.9,2933.5 398.5,2939.1 406.9,2953.7 414.5,2932.7 422.3,2888.4 430.2,2899.9 437.7,2895.7 445.3,2899.0 453.2,2913.9 461.0,2913.1 469.1,2929.3 477.0,2888.4 484.0,2878.6 491.8,2894.3 499.4,2910.3" fill="none" stroke="#ffc000" stroke-width="2" stroke-linejoin="round" stroke-linecap="round"/>
<polyline points="75.0,2905.5 84.0,2908.0 94.7,2927.1 104.2,2948.6 113.4,2951.7 123.2,2944.4 133.1,2955.9 142.3,2959.3 151.8,2962.7 162.5,2955.9 172.3,2964.3 182.1,2974.7 191.1,2985.4 200.3,2983.4 210.1,2972.5 218.5,2977.5 226.9,2990.7 233.9,2988.7 242.4,3003.3 249.4,3006.9 257.2,2999.4 264.8,2995.7 271.8,3000.5 280.2,3006.9 285.0,3011.1 288.4,3013.9 296.2,3005.5 304.1,3009.7 312.2,3013.9 320.0,3009.7 327.6,3015.4 335.4,3019.6 343.3,3014.8 351.1,3019.6 358.4,3012.5 366.3,3016.8 374.1,3023.2 381.7,3029.4 389.3,3034.4 397.1,3038.3 404.9,3042.8 412.5,3040.6 420.4,3042.5 427.9,3042.8 436.3,3043.4 444.7,3043.4 453.2,3043.4 464.4,3043.4 481.2,3043.4 498.0,3043.4" fill="none" stroke="#ff0000" stroke-width="2.2" stroke-linejoin="round" stroke-linecap="round"/>
<polyline points="73.4,3043.4 83.5,3031.6 95.2,3031.6 112.0,3031.6 121.8,3034.1 131.1,3036.4 140.1,3023.8 151.3,3012.5 161.1,3019.0 170.3,3012.5 179.3,3016.8 189.9,3023.8 199.5,3009.2 209.6,3015.4" fill="none" stroke="#1a1a1a" stroke-width="2.2" stroke-linejoin="round" stroke-linecap="round"/>
<line x1="120.4" y1="3101.8" x2="141.4" y2="3101.8" stroke="#5b9bd5" stroke-width="2"/>
<text x="144.4" y="3101.8" font-size="8.8" fill="#404040" text-anchor="start" dominant-baseline="central" font-family="'Liberation Sans','Noto Serif CJK SC',serif">2022年</text>
<line x1="184.0" y1="3101.8" x2="205.0" y2="3101.8" stroke="#ed7d31" stroke-width="2"/>
<text x="208.0" y="3101.8" font-size="8.8" fill="#404040" text-anchor="start" dominant-baseline="central" font-family="'Liberation Sans','Noto Serif CJK SC',serif">2023年</text>
<line x1="246.8" y1="3101.8" x2="267.8" y2="3101.8" stroke="#ffc000" stroke-width="2"/>
<text x="270.8" y="3101.8" font-size="8.8" fill="#404040" text-anchor="start" dominant-baseline="central" font-family="'Liberation Sans','Noto Serif CJK SC',serif">2024年</text>
<line x1="309.0" y1="3101.8" x2="330.0" y2="3101.8" stroke="#ff0000" stroke-width="2"/>
<text x="333.0" y="3101.8" font-size="8.8" fill="#404040" text-anchor="start" dominant-baseline="central" font-family="'Liberation Sans','Noto Serif CJK SC',serif">2025年</text>
<line x1="371.6" y1="3101.8" x2="392.6" y2="3101.8" stroke="#000" stroke-width="2"/>
<text x="395.6" y="3101.8" font-size="8.8" fill="#404040" text-anchor="start" dominant-baseline="central" font-family="'Liberation Sans','Noto Serif CJK SC',serif">2026年</text>
<rect x="571.0" y="2819.0" width="478.0" height="294.0" fill="#fff" stroke="#e2e2e2" stroke-width="1"/>
<text x="808.0" y="2837.8" font-size="14" fill="#262626" text-anchor="middle" dominant-baseline="central" font-family="'Liberation Sans','Noto Serif CJK SC',serif" letter-spacing="1">菜粕港口库存</text>
<text x="610.0" y="2860.5" font-size="10.5" fill="#404040" text-anchor="end" dominant-baseline="central" font-family="'Liberation Sans','Noto Sans CJK SC',sans-serif">80</text>
<text x="610.0" y="2883.2" font-size="10.5" fill="#404040" text-anchor="end" dominant-baseline="central" font-family="'Liberation Sans','Noto Sans CJK SC',sans-serif">70</text>
<text x="610.0" y="2905.9" font-size="10.5" fill="#404040" text-anchor="end" dominant-baseline="central" font-family="'Liberation Sans','Noto Sans CJK SC',sans-serif">60</text>
<text x="610.0" y="2928.6" font-size="10.5" fill="#404040" text-anchor="end" dominant-baseline="central" font-family="'Liberation Sans','Noto Sans CJK SC',sans-serif">50</text>
<text x="610.0" y="2951.2" font-size="10.5" fill="#404040" text-anchor="end" dominant-baseline="central" font-family="'Liberation Sans','Noto Sans CJK SC',sans-serif">40</text>
<text x="610.0" y="2973.9" font-size="10.5" fill="#404040" text-anchor="end" dominant-baseline="central" font-family="'Liberation Sans','Noto Sans CJK SC',sans-serif">30</text>
<text x="610.0" y="2996.6" font-size="10.5" fill="#404040" text-anchor="end" dominant-baseline="central" font-family="'Liberation Sans','Noto Sans CJK SC',sans-serif">20</text>
<text x="610.0" y="3019.3" font-size="10.5" fill="#404040" text-anchor="end" dominant-baseline="central" font-family="'Liberation Sans','Noto Sans CJK SC',sans-serif">10</text>
<text x="610.0" y="3042.0" font-size="10.5" fill="#404040" text-anchor="end" dominant-baseline="central" font-family="'Liberation Sans','Noto Sans CJK SC',sans-serif">0</text>
<text x="595.0" y="2944.5" font-size="10" fill="#404040" text-anchor="middle" dominant-baseline="central" font-family="'Noto Serif CJK SC',serif" letter-spacing="0.5" transform="rotate(-90 595.0 2944.5)">万吨</text>
<line x1="617.0" y1="3042.0" x2="1038.0" y2="3042.0" stroke="#d9d9d9" stroke-width="1"/>
<text x="617.6" y="3046.0" font-size="9" fill="#595959" text-anchor="end" dominant-baseline="central" font-family="'Liberation Sans','Noto Sans CJK SC',sans-serif" transform="rotate(-90 617.6 3046.0)">1月2日</text>
<text x="629.0" y="3046.0" font-size="9" fill="#595959" text-anchor="end" dominant-baseline="central" font-family="'Liberation Sans','Noto Sans CJK SC',sans-serif" transform="rotate(-90 629.0 3046.0)">1月10日</text>
<text x="640.5" y="3046.0" font-size="9" fill="#595959" text-anchor="end" dominant-baseline="central" font-family="'Liberation Sans','Noto Sans CJK SC',sans-serif" transform="rotate(-90 640.5 3046.0)">1月19日</text>
<text x="651.9" y="3046.0" font-size="9" fill="#595959" text-anchor="end" dominant-baseline="central" font-family="'Liberation Sans','Noto Sans CJK SC',sans-serif" transform="rotate(-90 651.9 3046.0)">1月27日</text>
<text x="663.3" y="3046.0" font-size="9" fill="#595959" text-anchor="end" dominant-baseline="central" font-family="'Liberation Sans','Noto Sans CJK SC',sans-serif" transform="rotate(-90 663.3 3046.0)">2月4日</text>
<text x="674.8" y="3046.0" font-size="9" fill="#595959" text-anchor="end" dominant-baseline="central" font-family="'Liberation Sans','Noto Sans CJK SC',sans-serif" transform="rotate(-90 674.8 3046.0)">2月13日</text>
<text x="686.2" y="3046.0" font-size="9" fill="#595959" text-anchor="end" dominant-baseline="central" font-family="'Liberation Sans','Noto Sans CJK SC',sans-serif" transform="rotate(-90 686.2 3046.0)">2月21日</text>
<text x="697.6" y="3046.0" font-size="9" fill="#595959" text-anchor="end" dominant-baseline="central" font-family="'Liberation Sans','Noto Sans CJK SC',sans-serif" transform="rotate(-90 697.6 3046.0)">3月1日</text>
<text x="709.1" y="3046.0" font-size="9" fill="#595959" text-anchor="end" dominant-baseline="central" font-family="'Liberation Sans','Noto Sans CJK SC',sans-serif" transform="rotate(-90 709.1 3046.0)">3月10日</text>
<text x="720.5" y="3046.0" font-size="9" fill="#595959" text-anchor="end" dominant-baseline="central" font-family="'Liberation Sans','Noto Sans CJK SC',sans-serif" transform="rotate(-90 720.5 3046.0)">3月18日</text>
<text x="732.0" y="3046.0" font-size="9" fill="#595959" text-anchor="end" dominant-baseline="central" font-family="'Liberation Sans','Noto Sans CJK SC',sans-serif" transform="rotate(-90 732.0 3046.0)">3月27日</text>
<text x="743.4" y="3046.0" font-size="9" fill="#595959" text-anchor="end" dominant-baseline="central" font-family="'Liberation Sans','Noto Sans CJK SC',sans-serif" transform="rotate(-90 743.4 3046.0)">4月4日</text>
<text x="754.8" y="3046.0" font-size="9" fill="#595959" text-anchor="end" dominant-baseline="central" font-family="'Liberation Sans','Noto Sans CJK SC',sans-serif" transform="rotate(-90 754.8 3046.0)">4月12日</text>
<text x="766.3" y="3046.0" font-size="9" fill="#595959" text-anchor="end" dominant-baseline="central" font-family="'Liberation Sans','Noto Sans CJK SC',sans-serif" transform="rotate(-90 766.3 3046.0)">4月22日</text>
<text x="777.7" y="3046.0" font-size="9" fill="#595959" text-anchor="end" dominant-baseline="central" font-family="'Liberation Sans','Noto Sans CJK SC',sans-serif" transform="rotate(-90 777.7 3046.0)">5月3日</text>
<text x="789.1" y="3046.0" font-size="9" fill="#595959" text-anchor="end" dominant-baseline="central" font-family="'Liberation Sans','Noto Sans CJK SC',sans-serif" transform="rotate(-90 789.1 3046.0)">5月13日</text>
<text x="800.6" y="3046.0" font-size="9" fill="#595959" text-anchor="end" dominant-baseline="central" font-family="'Liberation Sans','Noto Sans CJK SC',sans-serif" transform="rotate(-90 800.6 3046.0)">5月24日</text>
<text x="812.0" y="3046.0" font-size="9" fill="#595959" text-anchor="end" dominant-baseline="central" font-family="'Liberation Sans','Noto Sans CJK SC',sans-serif" transform="rotate(-90 812.0 3046.0)">6月3日</text>
<text x="823.4" y="3046.0" font-size="9" fill="#595959" text-anchor="end" dominant-baseline="central" font-family="'Liberation Sans','Noto Sans CJK SC',sans-serif" transform="rotate(-90 823.4 3046.0)">6月14日</text>
<text x="834.9" y="3046.0" font-size="9" fill="#595959" text-anchor="end" dominant-baseline="central" font-family="'Liberation Sans','Noto Sans CJK SC',sans-serif" transform="rotate(-90 834.9 3046.0)">6月24日</text>
<text x="846.3" y="3046.0" font-size="9" fill="#595959" text-anchor="end" dominant-baseline="central" font-family="'Liberation Sans','Noto Sans CJK SC',sans-serif" transform="rotate(-90 846.3 3046.0)">7月5日</text>
<text x="857.7" y="3046.0" font-size="9" fill="#595959" text-anchor="end" dominant-baseline="central" font-family="'Liberation Sans','Noto Sans CJK SC',sans-serif" transform="rotate(-90 857.7 3046.0)">7月15日</text>
<text x="869.2" y="3046.0" font-size="9" fill="#595959" text-anchor="end" dominant-baseline="central" font-family="'Liberation Sans','Noto Sans CJK SC',sans-serif" transform="rotate(-90 869.2 3046.0)">7月26日</text>
<text x="880.6" y="3046.0" font-size="9" fill="#595959" text-anchor="end" dominant-baseline="central" font-family="'Liberation Sans','Noto Sans CJK SC',sans-serif" transform="rotate(-90 880.6 3046.0)">8月5日</text>
<text x="892.0" y="3046.0" font-size="9" fill="#595959" text-anchor="end" dominant-baseline="central" font-family="'Liberation Sans','Noto Sans CJK SC',sans-serif" transform="rotate(-90 892.0 3046.0)">8月16日</text>
<text x="903.5" y="3046.0" font-size="9" fill="#595959" text-anchor="end" dominant-baseline="central" font-family="'Liberation Sans','Noto Sans CJK SC',sans-serif" transform="rotate(-90 903.5 3046.0)">8月26日</text>
<text x="914.9" y="3046.0" font-size="9" fill="#595959" text-anchor="end" dominant-baseline="central" font-family="'Liberation Sans','Noto Sans CJK SC',sans-serif" transform="rotate(-90 914.9 3046.0)">9月6日</text>
<text x="926.3" y="3046.0" font-size="9" fill="#595959" text-anchor="end" dominant-baseline="central" font-family="'Liberation Sans','Noto Sans CJK SC',sans-serif" transform="rotate(-90 926.3 3046.0)">9月16日</text>
<text x="937.8" y="3046.0" font-size="9" fill="#595959" text-anchor="end" dominant-baseline="central" font-family="'Liberation Sans','Noto Sans CJK SC',sans-serif" transform="rotate(-90 937.8 3046.0)">9月27日</text>
<text x="949.2" y="3046.0" font-size="9" fill="#595959" text-anchor="end" dominant-baseline="central" font-family="'Liberation Sans','Noto Sans CJK SC',sans-serif" transform="rotate(-90 949.2 3046.0)">10月7日</text>
<text x="960.7" y="3046.0" font-size="9" fill="#595959" text-anchor="end" dominant-baseline="central" font-family="'Liberation Sans','Noto Sans CJK SC',sans-serif" transform="rotate(-90 960.7 3046.0)">10月18日</text>
<text x="972.1" y="3046.0" font-size="9" fill="#595959" text-anchor="end" dominant-baseline="central" font-family="'Liberation Sans','Noto Sans CJK SC',sans-serif" transform="rotate(-90 972.1 3046.0)">10月28日</text>
<text x="983.5" y="3046.0" font-size="9" fill="#595959" text-anchor="end" dominant-baseline="central" font-family="'Liberation Sans','Noto Sans CJK SC',sans-serif" transform="rotate(-90 983.5 3046.0)">11月8日</text>
<text x="995.0" y="3046.0" font-size="9" fill="#595959" text-anchor="end" dominant-baseline="central" font-family="'Liberation Sans','Noto Sans CJK SC',sans-serif" transform="rotate(-90 995.0 3046.0)">11月18日</text>
<text x="1006.4" y="3046.0" font-size="9" fill="#595959" text-anchor="end" dominant-baseline="central" font-family="'Liberation Sans','Noto Sans CJK SC',sans-serif" transform="rotate(-90 1006.4 3046.0)">11月29日</text>
<text x="1017.8" y="3046.0" font-size="9" fill="#595959" text-anchor="end" dominant-baseline="central" font-family="'Liberation Sans','Noto Sans CJK SC',sans-serif" transform="rotate(-90 1017.8 3046.0)">12月9日</text>
<text x="1029.3" y="3046.0" font-size="9" fill="#595959" text-anchor="end" dominant-baseline="central" font-family="'Liberation Sans','Noto Sans CJK SC',sans-serif" transform="rotate(-90 1029.3 3046.0)">12月20日</text>
<text x="1040.7" y="3046.0" font-size="9" fill="#595959" text-anchor="end" dominant-baseline="central" font-family="'Liberation Sans','Noto Sans CJK SC',sans-serif" transform="rotate(-90 1040.7 3046.0)">12月30日</text>
<polyline points="626.3,3013.9 635.2,3013.9 643.6,2998.5 653.4,2994.3 663.2,2999.9 672.2,2996.3 682.3,2978.9 691.8,2969.1 701.1,2973.9 710.9,2978.4 719.9,2980.3 729.1,2992.4 738.9,2987.9 748.2,2971.4 757.1,2976.1 764.1,2977.0 772.5,2972.2 781.0,2978.1 788.0,2979.5 795.0,2969.7 802.8,2957.3 809.5,2956.5 817.4,2961.5 825.8,2952.9 825.0,2952.9 832.8,2953.1 840.4,2950.3 848.0,2955.1 855.3,2948.1 862.8,2945.8 869.8,2949.5 877.7,2955.9 885.3,2964.1 892.8,2961.3 900.1,2971.9 907.7,2976.7 915.2,2982.3 923.1,2999.4 930.4,3008.9 938.5,3008.9 945.5,3026.6 953.4,3022.4 960.9,3017.6 968.5,3025.2 976.3,3022.9 983.9,3023.8 991.2,3023.8 998.8,3028.5 1005.8,3030.2 1012.8,3032.2 1020.3,3028.8 1027.3,3033.0 1035.2,3031.3" fill="none" stroke="#5b9bd5" stroke-width="2" stroke-linejoin="round" stroke-linecap="round"/>
<polyline points="624.0,3029.4 633.8,3033.6 643.1,3030.8 652.0,3042.0 661.8,3033.6 671.7,3032.2 680.1,3030.8 689.9,3037.8 699.1,3037.2 708.1,3040.6 717.9,3041.4 727.7,3040.6 737.5,3031.6 746.8,3030.8 755.7,3032.2 763.6,3033.8 772.0,3033.8 779.6,3033.0 786.6,3035.8 795.0,3035.8 803.4,3036.4 811.8,3037.2 817.4,3038.3 824.4,3036.9 825.0,3035.5 832.0,3033.0 839.0,3031.6 846.0,3030.2 853.0,3032.2 860.9,3035.0 868.4,3036.9 876.0,3034.4 883.9,3036.4 891.4,3038.3 898.7,3037.2 906.3,3033.0 914.1,3033.6 921.7,3035.0 929.3,3037.8 936.5,3039.2 944.1,3035.0 951.1,3025.2 959.0,3021.0 966.5,3018.2 973.5,3004.1 981.4,2999.4 988.9,3001.3 996.5,2993.5 1003.8,2993.5 1011.4,2995.2 1018.9,2993.5 1026.8,2986.8 1034.6,2983.1" fill="none" stroke="#ed7d31" stroke-width="2" stroke-linejoin="round" stroke-linecap="round"/>
<polyline points="622.6,2979.8 631.9,2992.1 640.8,2998.5 649.2,2997.7 659.9,2988.7 668.9,3002.7 678.7,3021.5 687.9,2989.3 697.4,2990.1 706.7,2979.8 716.5,2990.1 725.5,2986.8 734.7,2992.9 744.5,2990.1 753.5,2983.1 761.3,2989.3 769.2,3000.5 776.8,2997.1 784.3,2995.7 792.2,2983.1 799.2,2974.2 806.2,2973.3 814.0,2976.7 820.8,2978.9 825.0,2977.5 830.6,2976.1 837.6,2980.3 844.6,2983.7 851.6,2981.2 859.2,2980.3 866.5,2978.9 874.0,2976.1 881.1,2982.3 888.9,2980.9 896.5,2986.5 904.0,2992.1 911.9,2991.0 919.7,2994.3 926.5,2995.7 934.3,2986.2 941.3,2984.0 948.9,2985.4 956.7,2978.9 963.7,2974.2 970.7,2970.5 978.6,2962.7 986.1,2948.9 993.7,2951.7 1001.0,2948.6 1009.1,2950.9 1016.4,2936.9 1024.0,2927.6 1031.8,2928.5" fill="none" stroke="#ffc000" stroke-width="2" stroke-linejoin="round" stroke-linecap="round"/>
<polyline points="620.6,2922.9 629.6,2925.1 639.4,2915.9 647.8,2912.2 657.6,2898.2 667.5,2900.4 676.7,2880.8 686.2,2898.2 695.5,2903.2 704.7,2904.6 713.7,2893.4 723.5,2895.7 733.3,2892.6 743.1,2900.4 751.5,2903.2 759.9,2907.5 766.9,2880.3 773.9,2882.2 782.4,2871.9 789.4,2875.8 797.2,2879.4 804.2,2886.4 812.3,2886.4 819.6,2873.8 827.2,2874.7 825.0,2874.7 834.8,2880.0 842.4,2880.8 849.7,2885.9 857.2,2884.2 864.2,2891.2 872.1,2903.2 879.6,2908.0 887.2,2903.8 895.1,2905.5 902.1,2909.4 909.6,2911.1 917.5,2913.1 924.5,2914.5 932.1,2917.3 939.9,2917.8 946.9,2915.0 954.5,2918.7 962.3,2922.9 969.3,2925.1 977.7,2925.1 984.7,2924.3 992.6,2926.5 1000.2,2925.1 1007.2,2931.3 1015.0,2933.2 1022.6,2936.3 1031.0,2935.5" fill="none" stroke="#ff0000" stroke-width="2.2" stroke-linejoin="round" stroke-linecap="round"/>
<polyline points="618.4,2939.1 628.2,2937.7 637.5,2939.1 646.4,2943.0 656.2,2946.1 665.5,2951.5 674.5,2953.1 684.3,2953.7 693.5,2948.1 703.0,2952.3 712.3,2948.9 722.1,2962.9 731.1,2964.9 740.3,2970.5 749.6,2978.4" fill="none" stroke="#1a1a1a" stroke-width="2.2" stroke-linejoin="round" stroke-linecap="round"/>
<line x1="658.6" y1="3099.5" x2="679.6" y2="3099.5" stroke="#5b9bd5" stroke-width="2"/>
<text x="682.6" y="3099.5" font-size="8.8" fill="#404040" text-anchor="start" dominant-baseline="central" font-family="'Liberation Sans','Noto Serif CJK SC',serif">2022年</text>
<line x1="720.0" y1="3099.5" x2="741.0" y2="3099.5" stroke="#ed7d31" stroke-width="2"/>
<text x="744.0" y="3099.5" font-size="8.8" fill="#404040" text-anchor="start" dominant-baseline="central" font-family="'Liberation Sans','Noto Serif CJK SC',serif">2023年</text>
<line x1="782.8" y1="3099.5" x2="803.8" y2="3099.5" stroke="#ffc000" stroke-width="2"/>
<text x="806.8" y="3099.5" font-size="8.8" fill="#404040" text-anchor="start" dominant-baseline="central" font-family="'Liberation Sans','Noto Serif CJK SC',serif">2024年</text>
<line x1="846.0" y1="3099.5" x2="867.0" y2="3099.5" stroke="#ff0000" stroke-width="2"/>
<text x="870.0" y="3099.5" font-size="8.8" fill="#404040" text-anchor="start" dominant-baseline="central" font-family="'Liberation Sans','Noto Serif CJK SC',serif">2025年</text>
<line x1="908.8" y1="3099.5" x2="929.8" y2="3099.5" stroke="#000" stroke-width="2"/>
<text x="932.8" y="3099.5" font-size="8.8" fill="#404040" text-anchor="start" dominant-baseline="central" font-family="'Liberation Sans','Noto Serif CJK SC',serif">2026年</text>
<text x="265.0" y="3204.4" font-size="15" fill="#595959" text-anchor="middle" dominant-baseline="central" font-family="'Liberation Sans','Noto Serif CJK SC',serif" letter-spacing="1">巴西雷亚尔汇率</text>
<text x="48.0" y="3228.5" font-size="10.5" fill="#7f7f7f" text-anchor="end" dominant-baseline="central" font-family="'Liberation Sans','Noto Sans CJK SC',sans-serif">5. 9</text>
<text x="48.0" y="3260.3" font-size="10.5" fill="#7f7f7f" text-anchor="end" dominant-baseline="central" font-family="'Liberation Sans','Noto Sans CJK SC',sans-serif">5. 7</text>
<text x="48.0" y="3292.1" font-size="10.5" fill="#7f7f7f" text-anchor="end" dominant-baseline="central" font-family="'Liberation Sans','Noto Sans CJK SC',sans-serif">5. 5</text>
<text x="48.0" y="3323.9" font-size="10.5" fill="#7f7f7f" text-anchor="end" dominant-baseline="central" font-family="'Liberation Sans','Noto Sans CJK SC',sans-serif">5. 3</text>
<text x="48.0" y="3355.6" font-size="10.5" fill="#7f7f7f" text-anchor="end" dominant-baseline="central" font-family="'Liberation Sans','Noto Sans CJK SC',sans-serif">5. 1</text>
<text x="48.0" y="3387.4" font-size="10.5" fill="#7f7f7f" text-anchor="end" dominant-baseline="central" font-family="'Liberation Sans','Noto Sans CJK SC',sans-serif">4. 9</text>
<text x="48.0" y="3419.2" font-size="10.5" fill="#7f7f7f" text-anchor="end" dominant-baseline="central" font-family="'Liberation Sans','Noto Sans CJK SC',sans-serif">4. 7</text>
<text x="48.0" y="3451.0" font-size="10.5" fill="#7f7f7f" text-anchor="end" dominant-baseline="central" font-family="'Liberation Sans','Noto Sans CJK SC',sans-serif">4. 5</text>
<line x1="55.4" y1="3451.3" x2="502.3" y2="3451.3" stroke="#d9d9d9" stroke-width="1"/>
<line x1="55.4" y1="3451.3" x2="55.4" y2="3456.0" stroke="#d9d9d9" stroke-width="1"/>
<line x1="94.8" y1="3451.3" x2="94.8" y2="3456.0" stroke="#d9d9d9" stroke-width="1"/>
<line x1="133.0" y1="3451.3" x2="133.0" y2="3456.0" stroke="#d9d9d9" stroke-width="1"/>
<line x1="172.0" y1="3451.3" x2="172.0" y2="3456.0" stroke="#d9d9d9" stroke-width="1"/>
<line x1="210.2" y1="3451.3" x2="210.2" y2="3456.0" stroke="#d9d9d9" stroke-width="1"/>
<line x1="249.1" y1="3451.3" x2="249.1" y2="3456.0" stroke="#d9d9d9" stroke-width="1"/>
<line x1="287.7" y1="3451.3" x2="287.7" y2="3456.0" stroke="#d9d9d9" stroke-width="1"/>
<line x1="325.0" y1="3451.3" x2="325.0" y2="3456.0" stroke="#d9d9d9" stroke-width="1"/>
<line x1="363.4" y1="3451.3" x2="363.4" y2="3456.0" stroke="#d9d9d9" stroke-width="1"/>
<line x1="403.3" y1="3451.3" x2="403.3" y2="3456.0" stroke="#d9d9d9" stroke-width="1"/>
<line x1="438.4" y1="3451.3" x2="438.4" y2="3456.0" stroke="#d9d9d9" stroke-width="1"/>
<line x1="478.0" y1="3451.3" x2="478.0" y2="3456.0" stroke="#d9d9d9" stroke-width="1"/>
<text x="58.4" y="3458.0" font-size="10" fill="#7f7f7f" text-anchor="end" dominant-baseline="central" font-family="'Liberation Sans','Noto Sans CJK SC',sans-serif" transform="rotate(-45 58.4 3458.0)">2025-05-03</text>
<text x="97.8" y="3458.0" font-size="10" fill="#7f7f7f" text-anchor="end" dominant-baseline="central" font-family="'Liberation Sans','Noto Sans CJK SC',sans-serif" transform="rotate(-45 97.8 3458.0)">2025-06-03</text>
<text x="136.0" y="3458.0" font-size="10" fill="#7f7f7f" text-anchor="end" dominant-baseline="central" font-family="'Liberation Sans','Noto Sans CJK SC',sans-serif" transform="rotate(-45 136.0 3458.0)">2025-07-03</text>
<text x="175.0" y="3458.0" font-size="10" fill="#7f7f7f" text-anchor="end" dominant-baseline="central" font-family="'Liberation Sans','Noto Sans CJK SC',sans-serif" transform="rotate(-45 175.0 3458.0)">2025-08-03</text>
<text x="213.2" y="3458.0" font-size="10" fill="#7f7f7f" text-anchor="end" dominant-baseline="central" font-family="'Liberation Sans','Noto Sans CJK SC',sans-serif" transform="rotate(-45 213.2 3458.0)">2025-09-03</text>
<text x="252.1" y="3458.0" font-size="10" fill="#7f7f7f" text-anchor="end" dominant-baseline="central" font-family="'Liberation Sans','Noto Sans CJK SC',sans-serif" transform="rotate(-45 252.1 3458.0)">2025-10-03</text>
<text x="290.7" y="3458.0" font-size="10" fill="#7f7f7f" text-anchor="end" dominant-baseline="central" font-family="'Liberation Sans','Noto Sans CJK SC',sans-serif" transform="rotate(-45 290.7 3458.0)">2025-11-03</text>
<text x="328.0" y="3458.0" font-size="10" fill="#7f7f7f" text-anchor="end" dominant-baseline="central" font-family="'Liberation Sans','Noto Sans CJK SC',sans-serif" transform="rotate(-45 328.0 3458.0)">2025-12-03</text>
<text x="366.4" y="3458.0" font-size="10" fill="#7f7f7f" text-anchor="end" dominant-baseline="central" font-family="'Liberation Sans','Noto Sans CJK SC',sans-serif" transform="rotate(-45 366.4 3458.0)">2026-01-03</text>
<text x="406.3" y="3458.0" font-size="10" fill="#7f7f7f" text-anchor="end" dominant-baseline="central" font-family="'Liberation Sans','Noto Sans CJK SC',sans-serif" transform="rotate(-45 406.3 3458.0)">2026-02-03</text>
<text x="441.4" y="3458.0" font-size="10" fill="#7f7f7f" text-anchor="end" dominant-baseline="central" font-family="'Liberation Sans','Noto Sans CJK SC',sans-serif" transform="rotate(-45 441.4 3458.0)">2026-03-03</text>
<text x="481.0" y="3458.0" font-size="10" fill="#7f7f7f" text-anchor="end" dominant-baseline="central" font-family="'Liberation Sans','Noto Sans CJK SC',sans-serif" transform="rotate(-45 481.0 3458.0)">2026-04-03</text>
<polyline points="55.0,3266.3 58.5,3268.4 61.9,3257.4 64.0,3256.0 65.4,3269.7 68.8,3267.7 70.9,3278.0 74.3,3266.3 76.7,3267.2 79.1,3269.7 82.5,3259.4 86.0,3271.8 88.4,3267.8 90.8,3262.9 93.6,3265.9 96.3,3269.7 99.7,3259.4 103.2,3280.1 105.9,3282.7 108.7,3286.9 111.1,3286.2 113.5,3285.6 116.9,3295.9 120.4,3297.3 122.7,3296.1 125.0,3294.9 127.3,3293.8 129.6,3290.3 131.8,3286.3 134.1,3283.5 136.2,3300.7 138.6,3301.1 141.0,3302.8 144.5,3283.5 147.9,3280.1 151.3,3286.9 154.8,3281.4 157.1,3282.6 159.4,3282.4 161.7,3283.5 165.1,3293.8 168.5,3281.4 172.0,3276.6 175.4,3293.8 178.9,3311.0 181.1,3309.6 183.4,3308.1 185.7,3305.5 188.0,3303.7 190.3,3301.2 192.6,3297.3 196.1,3307.6 199.5,3307.6 201.8,3304.6 204.1,3302.3 206.4,3300.7 208.7,3302.5 211.0,3303.2 213.2,3304.1 216.7,3302.1 220.1,3309.0 222.4,3313.5 224.7,3320.0 227.0,3324.8 229.3,3324.6 231.6,3323.4 233.9,3321.3 237.3,3317.9 240.8,3324.8 244.2,3315.8 246.5,3316.9 248.8,3319.0 251.1,3321.3 254.5,3311.0 257.3,3299.4 260.0,3290.4 262.4,3300.2 264.8,3307.6 268.3,3314.5 270.6,3312.6 272.9,3312.8 275.2,3311.0 277.5,3312.7 279.7,3314.5 282.0,3315.8 285.5,3311.0 288.9,3314.5 291.2,3318.0 293.5,3322.2 295.8,3324.8 299.2,3330.3 302.7,3322.7 305.0,3322.1 307.3,3320.4 309.6,3320.0 312.0,3314.5 314.4,3311.0 317.1,3314.4 319.9,3317.9 322.2,3320.6 324.5,3320.2 326.8,3322.7 330.2,3307.6 332.5,3304.6 334.8,3301.0 337.1,3297.3 339.4,3294.1 341.7,3291.9 343.9,3290.4 346.2,3287.4 348.5,3283.3 350.8,3280.1 354.3,3290.4 357.7,3283.5 361.1,3292.4 364.6,3300.7 366.9,3304.6 369.2,3308.9 371.5,3313.1 373.8,3312.5 376.1,3314.5 378.3,3314.5 380.6,3314.7 382.9,3314.5 385.2,3314.5 387.5,3316.3 389.8,3319.9 392.1,3321.3 395.5,3342.0 397.8,3340.5 400.1,3337.5 402.4,3335.1 404.7,3332.9 407.0,3331.9 409.3,3331.7 412.7,3342.0 415.0,3339.9 417.3,3338.6 419.6,3338.5 421.9,3338.2 424.2,3337.3 426.5,3336.5 429.9,3345.4 433.4,3352.3 435.7,3345.8 438.0,3341.9 440.3,3335.1 443.7,3346.8 446.1,3337.8 448.5,3328.2 451.3,3335.9 454.0,3342.0 456.4,3335.9 458.8,3328.2 461.6,3332.1 464.3,3335.1 466.4,3334.5 468.5,3335.0 470.5,3332.1 472.6,3332.8 474.6,3331.7 478.1,3345.4 480.4,3348.0 482.7,3348.6 485.0,3350.2 488.4,3366.1 491.8,3372.9 494.3,3374.8 496.7,3375.0 499.4,3377.6 502.2,3381.9" fill="none" stroke="#000" stroke-width="2.5" stroke-linejoin="round" stroke-linecap="round"/>
<text x="794.5" y="3203.0" font-size="15" fill="#595959" text-anchor="middle" dominant-baseline="central" font-family="'Liberation Sans','Noto Serif CJK SC',serif" letter-spacing="1">阿根廷比索汇率</text>
<text x="588.0" y="3227.0" font-size="10.5" fill="#7f7f7f" text-anchor="end" dominant-baseline="central" font-family="'Liberation Sans','Noto Sans CJK SC',sans-serif">1600</text>
<text x="588.0" y="3255.3" font-size="10.5" fill="#7f7f7f" text-anchor="end" dominant-baseline="central" font-family="'Liberation Sans','Noto Sans CJK SC',sans-serif">1500</text>
<text x="588.0" y="3283.6" font-size="10.5" fill="#7f7f7f" text-anchor="end" dominant-baseline="central" font-family="'Liberation Sans','Noto Sans CJK SC',sans-serif">1400</text>
<text x="588.0" y="3311.9" font-size="10.5" fill="#7f7f7f" text-anchor="end" dominant-baseline="central" font-family="'Liberation Sans','Noto Sans CJK SC',sans-serif">1300</text>
<text x="588.0" y="3340.2" font-size="10.5" fill="#7f7f7f" text-anchor="end" dominant-baseline="central" font-family="'Liberation Sans','Noto Sans CJK SC',sans-serif">1200</text>
<text x="588.0" y="3368.5" font-size="10.5" fill="#7f7f7f" text-anchor="end" dominant-baseline="central" font-family="'Liberation Sans','Noto Sans CJK SC',sans-serif">1100</text>
<text x="588.0" y="3396.8" font-size="10.5" fill="#7f7f7f" text-anchor="end" dominant-baseline="central" font-family="'Liberation Sans','Noto Sans CJK SC',sans-serif">1000</text>
<text x="588.0" y="3425.1" font-size="10.5" fill="#7f7f7f" text-anchor="end" dominant-baseline="central" font-family="'Liberation Sans','Noto Sans CJK SC',sans-serif">900</text>
<text x="588.0" y="3453.4" font-size="10.5" fill="#7f7f7f" text-anchor="end" dominant-baseline="central" font-family="'Liberation Sans','Noto Sans CJK SC',sans-serif">800</text>
<line x1="596.8" y1="3453.8" x2="1019.6" y2="3453.8" stroke="#d9d9d9" stroke-width="1"/>
<line x1="596.8" y1="3453.8" x2="596.8" y2="3458.0" stroke="#d9d9d9" stroke-width="1"/>
<line x1="633.5" y1="3453.8" x2="633.5" y2="3458.0" stroke="#d9d9d9" stroke-width="1"/>
<line x1="669.6" y1="3453.8" x2="669.6" y2="3458.0" stroke="#d9d9d9" stroke-width="1"/>
<line x1="706.3" y1="3453.8" x2="706.3" y2="3458.0" stroke="#d9d9d9" stroke-width="1"/>
<line x1="743.0" y1="3453.8" x2="743.0" y2="3458.0" stroke="#d9d9d9" stroke-width="1"/>
<line x1="778.8" y1="3453.8" x2="778.8" y2="3458.0" stroke="#d9d9d9" stroke-width="1"/>
<line x1="816.2" y1="3453.8" x2="816.2" y2="3458.0" stroke="#d9d9d9" stroke-width="1"/>
<line x1="851.4" y1="3453.8" x2="851.4" y2="3458.0" stroke="#d9d9d9" stroke-width="1"/>
<line x1="888.0" y1="3453.8" x2="888.0" y2="3458.0" stroke="#d9d9d9" stroke-width="1"/>
<line x1="925.4" y1="3453.8" x2="925.4" y2="3458.0" stroke="#d9d9d9" stroke-width="1"/>
<line x1="958.4" y1="3453.8" x2="958.4" y2="3458.0" stroke="#d9d9d9" stroke-width="1"/>
<line x1="995.7" y1="3453.8" x2="995.7" y2="3458.0" stroke="#d9d9d9" stroke-width="1"/>
<text x="599.8" y="3460.0" font-size="10" fill="#7f7f7f" text-anchor="end" dominant-baseline="central" font-family="'Liberation Sans','Noto Sans CJK SC',sans-serif" transform="rotate(-45 599.8 3460.0)">2025-05-03</text>
<text x="636.5" y="3460.0" font-size="10" fill="#7f7f7f" text-anchor="end" dominant-baseline="central" font-family="'Liberation Sans','Noto Sans CJK SC',sans-serif" transform="rotate(-45 636.5 3460.0)">2025-06-03</text>
<text x="672.6" y="3460.0" font-size="10" fill="#7f7f7f" text-anchor="end" dominant-baseline="central" font-family="'Liberation Sans','Noto Sans CJK SC',sans-serif" transform="rotate(-45 672.6 3460.0)">2025-07-03</text>
<text x="709.3" y="3460.0" font-size="10" fill="#7f7f7f" text-anchor="end" dominant-baseline="central" font-family="'Liberation Sans','Noto Sans CJK SC',sans-serif" transform="rotate(-45 709.3 3460.0)">2025-08-03</text>
<text x="746.0" y="3460.0" font-size="10" fill="#7f7f7f" text-anchor="end" dominant-baseline="central" font-family="'Liberation Sans','Noto Sans CJK SC',sans-serif" transform="rotate(-45 746.0 3460.0)">2025-09-03</text>
<text x="781.8" y="3460.0" font-size="10" fill="#7f7f7f" text-anchor="end" dominant-baseline="central" font-family="'Liberation Sans','Noto Sans CJK SC',sans-serif" transform="rotate(-45 781.8 3460.0)">2025-10-03</text>
<text x="819.2" y="3460.0" font-size="10" fill="#7f7f7f" text-anchor="end" dominant-baseline="central" font-family="'Liberation Sans','Noto Sans CJK SC',sans-serif" transform="rotate(-45 819.2 3460.0)">2025-11-03</text>
<text x="854.4" y="3460.0" font-size="10" fill="#7f7f7f" text-anchor="end" dominant-baseline="central" font-family="'Liberation Sans','Noto Sans CJK SC',sans-serif" transform="rotate(-45 854.4 3460.0)">2025-12-03</text>
<text x="891.0" y="3460.0" font-size="10" fill="#7f7f7f" text-anchor="end" dominant-baseline="central" font-family="'Liberation Sans','Noto Sans CJK SC',sans-serif" transform="rotate(-45 891.0 3460.0)">2026-01-03</text>
<text x="928.4" y="3460.0" font-size="10" fill="#7f7f7f" text-anchor="end" dominant-baseline="central" font-family="'Liberation Sans','Noto Sans CJK SC',sans-serif" transform="rotate(-45 928.4 3460.0)">2026-02-03</text>
<text x="961.4" y="3460.0" font-size="10" fill="#7f7f7f" text-anchor="end" dominant-baseline="central" font-family="'Liberation Sans','Noto Sans CJK SC',sans-serif" transform="rotate(-45 961.4 3460.0)">2026-03-03</text>
<text x="998.7" y="3460.0" font-size="10" fill="#7f7f7f" text-anchor="end" dominant-baseline="central" font-family="'Liberation Sans','Noto Sans CJK SC',sans-serif" transform="rotate(-45 998.7 3460.0)">2026-04-03</text>
<polyline points="596.4,3369.5 599.8,3368.1 601.9,3361.2 604.0,3359.2 605.4,3376.4 608.8,3377.7 612.2,3376.4 615.7,3377.7 619.1,3375.0 621.4,3375.3 623.7,3375.6 626.0,3375.0 629.4,3372.9 632.9,3366.1 636.3,3364.0 638.4,3364.0 640.4,3364.0 642.5,3363.8 644.6,3365.0 646.6,3364.0 650.1,3365.4 653.5,3369.5 655.8,3368.4 658.1,3367.4 660.4,3367.4 663.8,3362.6 667.3,3361.2 670.7,3348.9 674.1,3350.2 677.6,3338.5 681.0,3342.0 684.5,3338.5 687.9,3342.0 690.3,3339.1 692.7,3337.2 695.5,3333.9 698.2,3331.7 701.7,3317.9 705.1,3315.8 708.5,3321.3 712.0,3328.2 715.4,3330.3 717.7,3331.5 720.0,3333.0 722.3,3335.1 724.6,3332.0 726.9,3330.2 729.2,3328.2 732.6,3317.9 736.1,3320.0 739.5,3313.1 742.9,3314.5 746.4,3304.1 749.8,3297.3 753.2,3280.1 756.7,3283.5 760.1,3276.6 763.6,3262.9 765.6,3297.3 768.4,3314.5 770.4,3312.4 772.5,3311.0 775.3,3286.9 777.3,3273.2 780.8,3283.5 784.2,3273.2 787.6,3280.1 791.1,3304.1 794.5,3293.8 798.0,3280.1 801.4,3259.4 803.5,3266.3 806.9,3290.4 809.7,3293.8 811.7,3285.6 815.2,3283.5 818.6,3283.5 822.0,3292.4 824.3,3293.0 826.6,3292.8 828.9,3293.8 831.2,3294.1 833.5,3295.5 835.8,3297.3 838.1,3293.9 840.4,3290.2 842.7,3286.9 846.1,3288.3 848.4,3288.8 850.7,3288.9 853.0,3288.3 855.3,3288.1 857.6,3287.5 859.9,3288.3 862.2,3286.0 864.5,3283.3 866.8,3280.1 870.2,3281.4 872.5,3283.5 874.8,3286.3 877.1,3288.3 879.4,3287.5 881.7,3288.2 883.9,3286.9 886.2,3285.3 888.5,3282.9 890.8,3280.1 893.1,3282.1 895.4,3281.8 897.7,3283.5 900.0,3284.7 902.3,3286.3 904.6,3286.9 906.9,3289.4 909.2,3290.4 911.5,3292.4 913.8,3291.0 916.1,3291.3 918.3,3290.4 920.6,3290.7 922.9,3293.1 925.2,3293.8 928.7,3290.4 932.1,3297.3 935.5,3302.1 937.8,3301.8 940.1,3303.4 942.4,3304.1 944.7,3305.7 947.0,3306.6 949.3,3309.0 952.7,3299.3 956.2,3300.7 958.5,3300.2 960.8,3299.8 963.1,3299.3 965.4,3300.0 967.6,3302.0 969.9,3302.1 972.0,3302.8 974.1,3302.9 976.1,3301.6 978.2,3301.1 980.3,3302.1 982.5,3301.4 984.8,3300.4 987.1,3300.7 990.6,3307.6 992.6,3297.3 995.0,3298.4 997.5,3298.6 999.7,3298.4 1002.0,3298.4 1004.3,3299.3 1007.8,3304.1 1010.1,3304.4 1012.4,3305.3 1014.6,3306.2 1017.1,3305.0 1019.5,3302.8" fill="none" stroke="#000" stroke-width="2.5" stroke-linejoin="round" stroke-linecap="round"/>
</svg>
<div style="position:absolute;left:0;top:0;width:1080px;height:1px;background:#d4d4d4"></div>
<div style="position:absolute;left:0;top:0;width:1px;height:3512px;background:#d4d4d4"></div>
<div style="position:absolute;left:14px;top:9.2px;font:300 42px/48px 'Liberation Serif','Noto Serif CJK SC',serif;color:#c19656;letter-spacing:-1px;transform:scale(0.93,1.17);transform-origin:0 0;white-space:nowrap">混沌天成</div>
<div style="position:absolute;left:183px;top:10px;width:116px;height:44px;background:#c19656"></div>
<div style="position:absolute;left:184.5px;top:8px;font:300 35px/40px 'Liberation Serif','Noto Serif CJK SC',serif;color:#fff;letter-spacing:0px;transform:scale(1.07,1.3);transform-origin:0 0;white-space:nowrap">研究院</div>
<div style="position:absolute;left:362.5px;top:15.5px;font:500 33px/42px 'Liberation Serif','Noto Serif CJK SC',serif;color:#000;letter-spacing:6.2px;white-space:nowrap">混沌天成豆菜粕日报</div>
<div style="position:absolute;left:935px;top:18.5px;font:28px/36px 'Liberation Sans','Noto Sans CJK SC',sans-serif;color:#000;letter-spacing:3px">26/4/23</div>
<div style="position:absolute;left:1px;top:66px;width:1077px;height:35px;background:#d0cece"></div>
<div style="position:absolute;left:3.0px;top:67px;width:185.0px;height:35px;display:flex;align-items:center;justify-content:center;font:bold 19px/1 'Liberation Sans','Noto Serif CJK SC',serif;letter-spacing:4px;color:#111;white-space:nowrap">价格与利润</div>
<div style="position:absolute;left:188.0px;top:67px;width:151.0px;height:35px;display:flex;align-items:center;justify-content:center;font:20px/1 'Liberation Sans','Noto Serif CJK SC',serif;letter-spacing:4px;color:#111;white-space:nowrap">当日</div>
<div style="position:absolute;left:339.0px;top:67px;width:201.0px;height:35px;display:flex;align-items:center;justify-content:center;font:20px/1 'Liberation Sans','Noto Serif CJK SC',serif;letter-spacing:4px;color:#111;white-space:nowrap">环比</div>
<div style="position:absolute;left:539.8px;top:67px;width:200.5px;height:35px;display:flex;align-items:center;justify-content:center;font:bold 19px/1 'Liberation Sans','Noto Serif CJK SC',serif;letter-spacing:3.5px;color:#111;white-space:nowrap">供需（万吨）</div>
<div style="position:absolute;left:740.5px;top:67px;width:141.0px;height:35px;display:flex;align-items:center;justify-content:center;font:20px/1 'Liberation Sans','Noto Serif CJK SC',serif;letter-spacing:4px;color:#111;white-space:nowrap">当期</div>
<div style="position:absolute;left:881.5px;top:67px;width:198.5px;height:35px;display:flex;align-items:center;justify-content:center;font:20px/1 'Liberation Sans','Noto Serif CJK SC',serif;letter-spacing:4px;color:#111;white-space:nowrap">环比</div>
<div style="position:absolute;left:4.5px;top:102.5px;height:34.8px;display:flex;align-items:center;font:500 16px/1 'Liberation Sans','Noto Serif CJK SC',serif;letter-spacing:3.6px;color:#111;white-space:nowrap">豆粕现货(广东)</div>
<div style="position:absolute;left:186.0px;top:102.5px;width:151.0px;height:34.8px;display:flex;align-items:center;justify-content:center;font:17px/1 'Liberation Sans','Noto Sans CJK SC',sans-serif;color:#111;white-space:nowrap">2970</div>
<div style="position:absolute;left:334.0px;top:102.5px;width:201.0px;height:34.8px;display:flex;align-items:center;justify-content:center;font:17px/1 'Liberation Sans','Noto Sans CJK SC',sans-serif;color:#111;white-space:nowrap">40</div>
<div style="position:absolute;left:539.2px;top:102.5px;width:200.5px;height:34.8px;display:flex;align-items:center;justify-content:center;font:500 16px/1 'Liberation Sans','Noto Serif CJK SC',serif;letter-spacing:2.5px;color:#111;white-space:nowrap">大豆压榨量</div>
<div style="position:absolute;left:734.5px;top:102.5px;width:141.0px;height:34.8px;display:flex;align-items:center;justify-content:center;font:17px/1 'Liberation Sans','Noto Sans CJK SC',sans-serif;color:#111;white-space:nowrap">146</div>
<div style="position:absolute;left:879.5px;top:102.5px;width:198.5px;height:34.8px;display:flex;align-items:center;justify-content:center;font:17px/1 'Liberation Sans','Noto Sans CJK SC',sans-serif;color:#111;white-space:nowrap">23</div>
<div style="position:absolute;left:2.2px;top:137.2px;width:185px;height:34.8px;display:flex;align-items:center;justify-content:center;font:500 16px/1 'Liberation Sans','Noto Serif CJK SC',serif;letter-spacing:2.5px;color:#111;white-space:nowrap">豆粕基差（广东）</div>
<div style="position:absolute;left:186.0px;top:137.2px;width:151.0px;height:34.8px;display:flex;align-items:center;justify-content:center;font:17px/1 'Liberation Sans','Noto Sans CJK SC',sans-serif;color:#111;white-space:nowrap">−56</div>
<div style="position:absolute;left:334.0px;top:137.2px;width:201.0px;height:34.8px;display:flex;align-items:center;justify-content:center;font:17px/1 'Liberation Sans','Noto Sans CJK SC',sans-serif;color:#111;white-space:nowrap">−8</div>
<div style="position:absolute;left:539.2px;top:137.2px;width:200.5px;height:34.8px;display:flex;align-items:center;justify-content:center;font:500 16px/1 'Liberation Sans','Noto Serif CJK SC',serif;letter-spacing:2.5px;color:#111;white-space:nowrap">豆粕成交量</div>
<div style="position:absolute;left:734.5px;top:137.2px;width:141.0px;height:34.8px;display:flex;align-items:center;justify-content:center;font:17px/1 'Liberation Sans','Noto Sans CJK SC',sans-serif;color:#111;white-space:nowrap">22.<span style="margin-left:4px"></span>8</div>
<div style="position:absolute;left:879.5px;top:137.2px;width:198.5px;height:34.8px;display:flex;align-items:center;justify-content:center;font:17px/1 'Liberation Sans','Noto Sans CJK SC',sans-serif;color:#111;white-space:nowrap">6.<span style="margin-left:4px"></span>2</div>
<div style="position:absolute;left:2.2px;top:172.0px;width:185px;height:34.8px;display:flex;align-items:center;justify-content:center;font:500 16px/1 'Liberation Sans','Noto Serif CJK SC',serif;letter-spacing:2.5px;color:#111;white-space:nowrap">豆粕<span style="letter-spacing:0.3px;font-size:17px;">5-9</span>价差</div>
<div style="position:absolute;left:186.0px;top:172.0px;width:151.0px;height:34.8px;display:flex;align-items:center;justify-content:center;font:17px/1 'Liberation Sans','Noto Sans CJK SC',sans-serif;color:#111;white-space:nowrap">−167</div>
<div style="position:absolute;left:334.0px;top:172.0px;width:201.0px;height:34.8px;display:flex;align-items:center;justify-content:center;font:17px/1 'Liberation Sans','Noto Sans CJK SC',sans-serif;color:#111;white-space:nowrap">−7</div>
<div style="position:absolute;left:539.2px;top:172.0px;width:200.5px;height:34.8px;display:flex;align-items:center;justify-content:center;font:500 16px/1 'Liberation Sans','Noto Serif CJK SC',serif;letter-spacing:2.5px;color:#111;white-space:nowrap">豆粕库存</div>
<div style="position:absolute;left:734.5px;top:172.0px;width:141.0px;height:34.8px;display:flex;align-items:center;justify-content:center;font:17px/1 'Liberation Sans','Noto Sans CJK SC',sans-serif;color:#111;white-space:nowrap">56</div>
<div style="position:absolute;left:879.5px;top:172.0px;width:198.5px;height:34.8px;display:flex;align-items:center;justify-content:center;font:17px/1 'Liberation Sans','Noto Sans CJK SC',sans-serif;color:#111;white-space:nowrap">−2</div>
<div style="position:absolute;left:2.2px;top:206.8px;width:185px;height:34.8px;display:flex;align-items:center;justify-content:center;font:500 16px/1 'Liberation Sans','Noto Serif CJK SC',serif;letter-spacing:2.5px;color:#111;white-space:nowrap">豆粕<span style="letter-spacing:0.3px;font-size:17px;">3-5</span>价差</div>
<div style="position:absolute;left:186.0px;top:206.8px;width:151.0px;height:34.8px;display:flex;align-items:center;justify-content:center;font:17px/1 'Liberation Sans','Noto Sans CJK SC',sans-serif;color:#111;white-space:nowrap">579</div>
<div style="position:absolute;left:334.0px;top:206.8px;width:201.0px;height:34.8px;display:flex;align-items:center;justify-content:center;font:17px/1 'Liberation Sans','Noto Sans CJK SC',sans-serif;color:#111;white-space:nowrap">−23</div>
<div style="position:absolute;left:539.2px;top:206.8px;width:200.5px;height:34.8px;display:flex;align-items:center;justify-content:center;font:500 16px/1 'Liberation Sans','Noto Serif CJK SC',serif;letter-spacing:2.5px;color:#111;white-space:nowrap">港口大豆库存</div>
<div style="position:absolute;left:734.5px;top:206.8px;width:141.0px;height:34.8px;display:flex;align-items:center;justify-content:center;font:17px/1 'Liberation Sans','Noto Sans CJK SC',sans-serif;color:#111;white-space:nowrap">465</div>
<div style="position:absolute;left:879.5px;top:206.8px;width:198.5px;height:34.8px;display:flex;align-items:center;justify-content:center;font:17px/1 'Liberation Sans','Noto Sans CJK SC',sans-serif;color:#111;white-space:nowrap">−13</div>
<div style="position:absolute;left:1.9px;top:241.5px;width:185px;height:34.8px;display:flex;align-items:center;justify-content:center;font:500 15.5px/1 'Liberation Sans','Noto Serif CJK SC',serif;letter-spacing:1.8px;color:#111;white-space:nowrap">菜粕现货（广东）</div>
<div style="position:absolute;left:186.0px;top:241.5px;width:151.0px;height:34.8px;display:flex;align-items:center;justify-content:center;font:17px/1 'Liberation Sans','Noto Sans CJK SC',sans-serif;color:#111;white-space:nowrap">2290</div>
<div style="position:absolute;left:334.0px;top:241.5px;width:201.0px;height:34.8px;display:flex;align-items:center;justify-content:center;font:17px/1 'Liberation Sans','Noto Sans CJK SC',sans-serif;color:#111;white-space:nowrap">40</div>
<div style="position:absolute;left:539.2px;top:241.5px;width:200.5px;height:34.8px;display:flex;align-items:center;justify-content:center;font:500 16px/1 'Liberation Sans','Noto Serif CJK SC',serif;letter-spacing:2.5px;color:#111;white-space:nowrap">油厂菜籽库存</div>
<div style="position:absolute;left:734.5px;top:241.5px;width:141.0px;height:34.8px;display:flex;align-items:center;justify-content:center;font:17px/1 'Liberation Sans','Noto Sans CJK SC',sans-serif;color:#111;white-space:nowrap">41</div>
<div style="position:absolute;left:879.5px;top:241.5px;width:198.5px;height:34.8px;display:flex;align-items:center;justify-content:center;font:17px/1 'Liberation Sans','Noto Sans CJK SC',sans-serif;color:#111;white-space:nowrap">−1</div>
<div style="position:absolute;left:2.2px;top:276.2px;width:185px;height:34.8px;display:flex;align-items:center;justify-content:center;font:500 16px/1 'Liberation Sans','Noto Serif CJK SC',serif;letter-spacing:2.5px;color:#111;white-space:nowrap">菜粕基差（广东）</div>
<div style="position:absolute;left:186.0px;top:276.2px;width:151.0px;height:34.8px;display:flex;align-items:center;justify-content:center;font:17px/1 'Liberation Sans','Noto Sans CJK SC',sans-serif;color:#111;white-space:nowrap">−120</div>
<div style="position:absolute;left:334.0px;top:276.2px;width:201.0px;height:34.8px;display:flex;align-items:center;justify-content:center;font:17px/1 'Liberation Sans','Noto Sans CJK SC',sans-serif;color:#111;white-space:nowrap">−14</div>
<div style="position:absolute;left:539.2px;top:276.2px;width:200.5px;height:34.8px;display:flex;align-items:center;justify-content:center;font:500 16px/1 'Liberation Sans','Noto Serif CJK SC',serif;letter-spacing:2.5px;color:#111;white-space:nowrap">港口菜粕库存</div>
<div style="position:absolute;left:734.5px;top:276.2px;width:141.0px;height:34.8px;display:flex;align-items:center;justify-content:center;font:17px/1 'Liberation Sans','Noto Sans CJK SC',sans-serif;color:#111;white-space:nowrap">63</div>
<div style="position:absolute;left:879.5px;top:276.2px;width:198.5px;height:34.8px;display:flex;align-items:center;justify-content:center;font:17px/1 'Liberation Sans','Noto Sans CJK SC',sans-serif;color:#111;white-space:nowrap">−7</div>
<div style="position:absolute;left:2.2px;top:311.0px;width:185px;height:34.8px;display:flex;align-items:center;justify-content:center;font:500 16px/1 'Liberation Sans','Noto Serif CJK SC',serif;letter-spacing:2.5px;color:#111;white-space:nowrap">菜粕<span style="letter-spacing:0.3px;font-size:17px;">5-9</span>价差</div>
<div style="position:absolute;left:186.0px;top:311.0px;width:151.0px;height:34.8px;display:flex;align-items:center;justify-content:center;font:17px/1 'Liberation Sans','Noto Sans CJK SC',sans-serif;color:#111;white-space:nowrap">−69</div>
<div style="position:absolute;left:334.0px;top:311.0px;width:201.0px;height:34.8px;display:flex;align-items:center;justify-content:center;font:17px/1 'Liberation Sans','Noto Sans CJK SC',sans-serif;color:#111;white-space:nowrap">−8</div>
<div style="position:absolute;left:539.2px;top:311.0px;width:200.5px;height:34.8px;display:flex;align-items:center;justify-content:center;font:500 16px/1 'Liberation Sans','Noto Serif CJK SC',serif;letter-spacing:2.5px;color:#111;white-space:nowrap">油厂菜粕库存</div>
<div style="position:absolute;left:734.5px;top:311.0px;width:141.0px;height:34.8px;display:flex;align-items:center;justify-content:center;font:17px/1 'Liberation Sans','Noto Sans CJK SC',sans-serif;color:#111;white-space:nowrap">4</div>
<div style="position:absolute;left:879.5px;top:311.0px;width:198.5px;height:34.8px;display:flex;align-items:center;justify-content:center;font:17px/1 'Liberation Sans','Noto Sans CJK SC',sans-serif;color:#111;white-space:nowrap">−1</div>
<div style="position:absolute;left:2.2px;top:345.8px;width:185px;height:34.8px;display:flex;align-items:center;justify-content:center;font:500 16px/1 'Liberation Sans','Noto Serif CJK SC',serif;letter-spacing:2.5px;color:#111;white-space:nowrap">菜粕<span style="letter-spacing:0.3px;font-size:17px;">3-5</span>价差</div>
<div style="position:absolute;left:186.0px;top:345.8px;width:151.0px;height:34.8px;display:flex;align-items:center;justify-content:center;font:17px/1 'Liberation Sans','Noto Sans CJK SC',sans-serif;color:#111;white-space:nowrap">−55</div>
<div style="position:absolute;left:334.0px;top:345.8px;width:201.0px;height:34.8px;display:flex;align-items:center;justify-content:center;font:17px/1 'Liberation Sans','Noto Sans CJK SC',sans-serif;color:#111;white-space:nowrap">25</div>
<div style="position:absolute;left:539.2px;top:345.8px;width:200.5px;height:34.8px;display:flex;align-items:center;justify-content:center;font:500 16px/1 'Liberation Sans','Noto Serif CJK SC',serif;letter-spacing:2.5px;color:#111;white-space:nowrap">南通菜粕库存</div>
<div style="position:absolute;left:734.5px;top:345.8px;width:141.0px;height:34.8px;display:flex;align-items:center;justify-content:center;font:17px/1 'Liberation Sans','Noto Sans CJK SC',sans-serif;color:#111;white-space:nowrap">51</div>
<div style="position:absolute;left:879.5px;top:345.8px;width:198.5px;height:34.8px;display:flex;align-items:center;justify-content:center;font:17px/1 'Liberation Sans','Noto Sans CJK SC',sans-serif;color:#111;white-space:nowrap">−4</div>
<div style="position:absolute;left:7px;top:379.5px;height:31.5px;display:flex;align-items:center;font:600 22px/1 'Liberation Sans','Noto Serif CJK SC',serif;color:#c55a11;letter-spacing:4px;white-space:nowrap;padding-top:5px;box-sizing:border-box">图表<span style="letter-spacing:0.5px;font-size:23px;">1</span>：豆粕现货价</div>
<div style="position:absolute;left:544px;top:379.5px;height:31.5px;display:flex;align-items:center;font:600 22px/1 'Liberation Sans','Noto Serif CJK SC',serif;color:#c55a11;letter-spacing:4px;white-space:nowrap;padding-top:5px;box-sizing:border-box">图表<span style="letter-spacing:0.5px;font-size:23px;">2</span>：全国大豆压榨开机率</div>
<div style="position:absolute;left:7px;top:720.0px;height:33.0px;display:flex;align-items:center;font:600 22px/1 'Liberation Sans','Noto Serif CJK SC',serif;color:#c55a11;letter-spacing:4px;white-space:nowrap;padding-top:5px;box-sizing:border-box">图表<span style="letter-spacing:0.5px;font-size:23px;">3</span>：基差</div>
<div style="position:absolute;left:544px;top:720.0px;height:33.0px;display:flex;align-items:center;font:600 22px/1 'Liberation Sans','Noto Serif CJK SC',serif;color:#c55a11;letter-spacing:4px;white-space:nowrap;padding-top:5px;box-sizing:border-box">图表<span style="letter-spacing:0.5px;font-size:23px;">4</span>：全国豆粕成交量</div>
<div style="position:absolute;left:7px;top:1042.3px;height:31.7px;display:flex;align-items:center;font:600 22px/1 'Liberation Sans','Noto Serif CJK SC',serif;color:#c55a11;letter-spacing:4px;white-space:nowrap;padding-top:5px;box-sizing:border-box">图表<span style="letter-spacing:0.5px;font-size:23px;">3</span>：基差</div>
<div style="position:absolute;left:544px;top:1042.3px;height:31.7px;display:flex;align-items:center;font:600 22px/1 'Liberation Sans','Noto Serif CJK SC',serif;color:#c55a11;letter-spacing:4px;white-space:nowrap;padding-top:5px;box-sizing:border-box">图表<span style="letter-spacing:0.5px;font-size:23px;">4</span>：全国豆粕成交量</div>
<div style="position:absolute;left:7px;top:1362.3px;height:31.7px;display:flex;align-items:center;font:600 22px/1 'Liberation Sans','Noto Serif CJK SC',serif;color:#c55a11;letter-spacing:4px;white-space:nowrap;padding-top:5px;box-sizing:border-box">图表<span style="letter-spacing:0.5px;font-size:23px;">5</span>：豆粕<span style="letter-spacing:0.5px;font-size:23px;">5-9</span>价差</div>
<div style="position:absolute;left:544px;top:1362.3px;height:31.7px;display:flex;align-items:center;font:600 22px/1 'Liberation Sans','Noto Serif CJK SC',serif;color:#c55a11;letter-spacing:4px;white-space:nowrap;padding-top:5px;box-sizing:border-box">图表<span style="letter-spacing:0.5px;font-size:23px;">6</span>：豆菜粕<span style="letter-spacing:0.5px;font-size:23px;">05</span>价差</div>
<div style="position:absolute;left:7px;top:1677.4px;height:32.6px;display:flex;align-items:center;font:600 22px/1 'Liberation Sans','Noto Serif CJK SC',serif;color:#c55a11;letter-spacing:4px;white-space:nowrap;padding-top:5px;box-sizing:border-box">图表<span style="letter-spacing:0.5px;font-size:23px;">7</span>：中国大豆库存</div>
<div style="position:absolute;left:544px;top:1677.4px;height:32.6px;display:flex;align-items:center;font:600 22px/1 'Liberation Sans','Noto Serif CJK SC',serif;color:#c55a11;letter-spacing:4px;white-space:nowrap;padding-top:5px;box-sizing:border-box">图表<span style="letter-spacing:0.5px;font-size:23px;">8</span>：中国豆粕库存</div>
<div style="position:absolute;left:7px;top:2033.0px;height:33.6px;display:flex;align-items:center;font:600 22px/1 'Liberation Sans','Noto Serif CJK SC',serif;color:#c55a11;letter-spacing:4px;white-space:nowrap;padding-top:5px;box-sizing:border-box">图表<span style="letter-spacing:0.5px;font-size:23px;">9</span>：菜粕现货价格</div>
<div style="position:absolute;left:544px;top:2033.0px;height:33.6px;display:flex;align-items:center;font:600 22px/1 'Liberation Sans','Noto Serif CJK SC',serif;color:#c55a11;letter-spacing:4px;white-space:nowrap;padding-top:5px;box-sizing:border-box">图表<span style="letter-spacing:0.5px;font-size:23px;">10</span>：菜粕现货基差</div>
<div style="position:absolute;left:7px;top:2395.0px;height:39.3px;display:flex;align-items:center;font:600 22px/1 'Liberation Sans','Noto Serif CJK SC',serif;color:#c55a11;letter-spacing:4px;white-space:nowrap;padding-top:5px;box-sizing:border-box">图表<span style="letter-spacing:0.5px;font-size:23px;">11</span>：豆菜粕<span style="letter-spacing:0.5px;font-size:23px;">01</span>价差</div>
<div style="position:absolute;left:544px;top:2395.0px;height:39.3px;display:flex;align-items:center;font:600 22px/1 'Liberation Sans','Noto Serif CJK SC',serif;color:#c55a11;letter-spacing:4px;white-space:nowrap;padding-top:5px;box-sizing:border-box">图表<span style="letter-spacing:0.5px;font-size:23px;">12</span>：豆菜粕<span style="letter-spacing:0.5px;font-size:23px;">05</span>价差</div>
<div style="position:absolute;left:7px;top:2763.0px;height:42.0px;display:flex;align-items:center;font:600 22px/1 'Liberation Sans','Noto Serif CJK SC',serif;color:#c55a11;letter-spacing:4px;white-space:nowrap;padding-top:5px;box-sizing:border-box">图表<span style="letter-spacing:0.5px;font-size:23px;">13</span>：中国菜籽库存</div>
<div style="position:absolute;left:544px;top:2763.0px;height:42.0px;display:flex;align-items:center;font:600 22px/1 'Liberation Sans','Noto Serif CJK SC',serif;color:#c55a11;letter-spacing:4px;white-space:nowrap;padding-top:5px;box-sizing:border-box">图表<span style="letter-spacing:0.5px;font-size:23px;">14</span>：港口菜粕库存</div>
<div style="position:absolute;left:7px;top:3134.0px;height:41.0px;display:flex;align-items:center;font:600 22px/1 'Liberation Sans','Noto Serif CJK SC',serif;color:#c55a11;letter-spacing:4px;white-space:nowrap;padding-top:5px;box-sizing:border-box">图表<span style="letter-spacing:0.5px;font-size:23px;">15</span>：巴西雷亚尔汇率</div>
<div style="position:absolute;left:544px;top:3134.0px;height:41.0px;display:flex;align-items:center;font:600 22px/1 'Liberation Sans','Noto Serif CJK SC',serif;color:#c55a11;letter-spacing:4px;white-space:nowrap;padding-top:5px;box-sizing:border-box">图表<span style="letter-spacing:0.5px;font-size:23px;">16</span>：阿根廷比索汇率</div>
<div style="position:absolute;left:0;top:3512px;width:1080px;height:34px;background:#d0cece"></div>
<div style="position:absolute;left:0;top:3543px;width:1080px;height:3px;background:#bf8f00"></div>
<div style="position:absolute;left:1078px;top:0;width:2px;height:3546px;background:#bf8f00"></div>
<div style="position:absolute;left:6px;top:3512px;height:32px;padding-top:6px;box-sizing:border-box;display:flex;align-items:center;font:600 22px/1 'Liberation Sans','Noto Serif CJK SC',serif;color:#000;letter-spacing:4.6px;white-space:nowrap">数据来源：钢联、同花顺、 混沌天成研究院</div>
</body></html>
